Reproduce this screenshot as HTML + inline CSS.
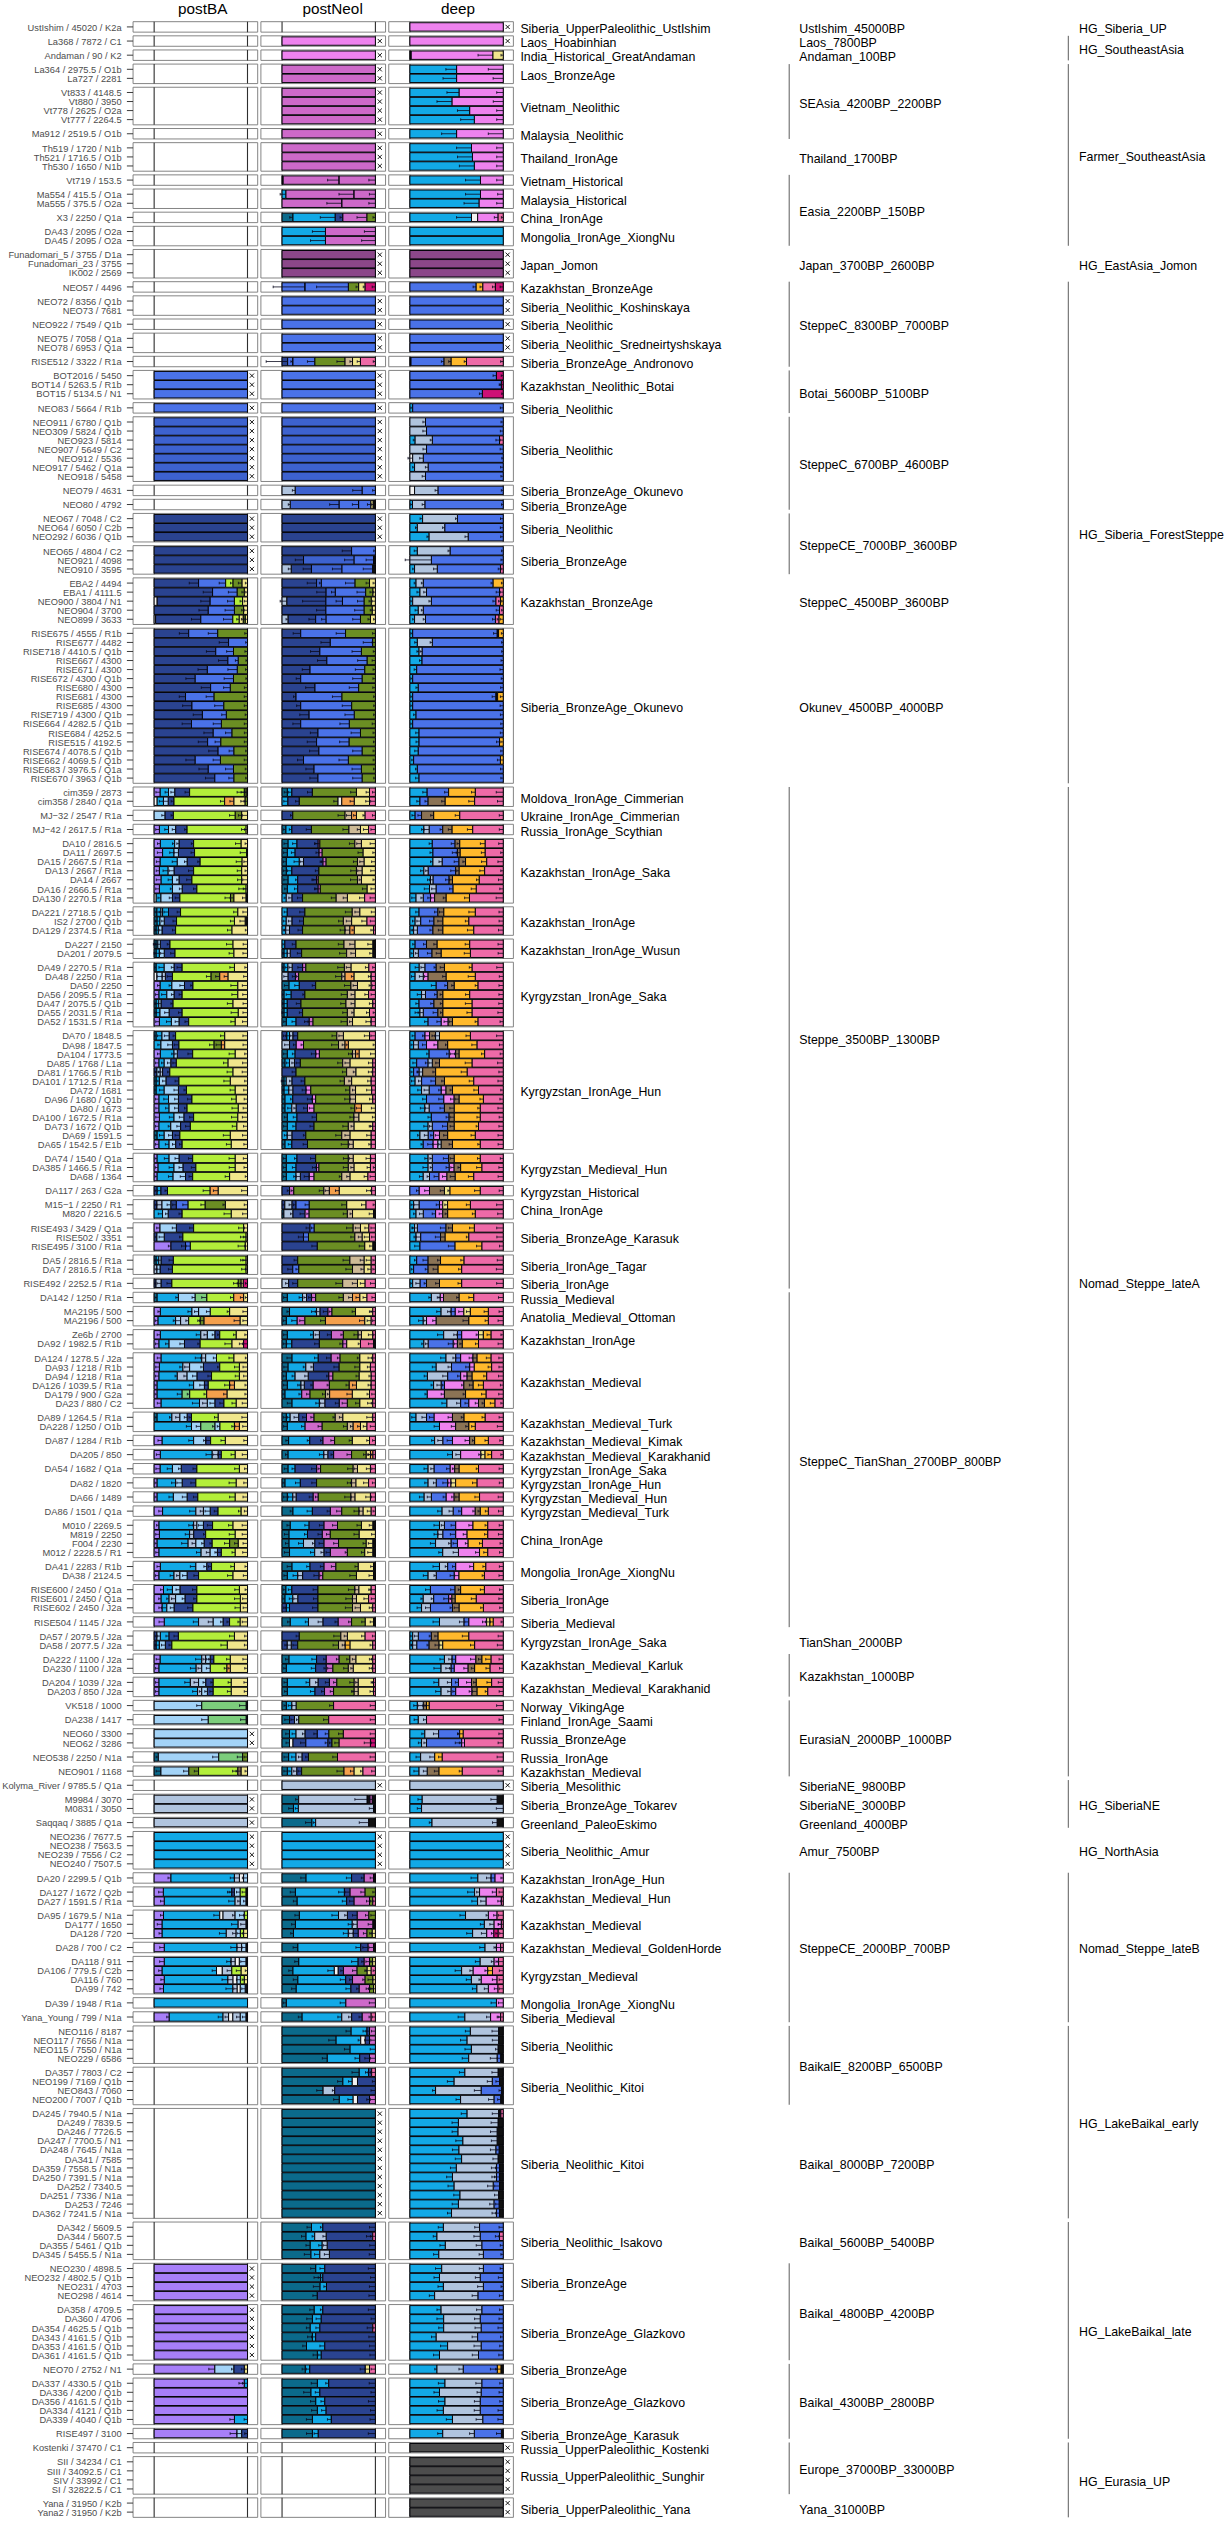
<!DOCTYPE html>
<html><head><meta charset="utf-8"><title>chart</title><style>html,body{margin:0;padding:0;background:#fff}svg{display:block}</style></head><body>
<svg width="1227" height="2521" viewBox="0 0 1227 2521" font-family="Liberation Sans, sans-serif">
<rect width="1227" height="2521" fill="#fff"/>
<path d="M133.05 21.7h124.65v10.44h-124.65zM260.9 21.7h124.65v10.44h-124.65zM388.75 21.7h124.65v10.44h-124.65zM133.05 35.83h124.65v10.44h-124.65zM260.9 35.83h124.65v10.44h-124.65zM388.75 35.83h124.65v10.44h-124.65zM133.05 49.96h124.65v10.44h-124.65zM260.9 49.96h124.65v10.44h-124.65zM388.75 49.96h124.65v10.44h-124.65zM133.05 64.09h124.65v19.49h-124.65zM260.9 64.09h124.65v19.49h-124.65zM388.75 64.09h124.65v19.49h-124.65zM133.05 87.26h124.65v37.57h-124.65zM260.9 87.26h124.65v37.57h-124.65zM388.75 87.26h124.65v37.57h-124.65zM133.05 128.52h124.65v10.44h-124.65zM260.9 128.52h124.65v10.44h-124.65zM388.75 128.52h124.65v10.44h-124.65zM133.05 142.66h124.65v28.53h-124.65zM260.9 142.66h124.65v28.53h-124.65zM388.75 142.66h124.65v28.53h-124.65zM133.05 174.87h124.65v10.44h-124.65zM260.9 174.87h124.65v10.44h-124.65zM388.75 174.87h124.65v10.44h-124.65zM133.05 189h124.65v19.49h-124.65zM260.9 189h124.65v19.49h-124.65zM388.75 189h124.65v19.49h-124.65zM133.05 212.18h124.65v10.44h-124.65zM260.9 212.18h124.65v10.44h-124.65zM388.75 212.18h124.65v10.44h-124.65zM133.05 226.31h124.65v19.49h-124.65zM260.9 226.31h124.65v19.49h-124.65zM388.75 226.31h124.65v19.49h-124.65zM133.05 249.48h124.65v28.53h-124.65zM260.9 249.48h124.65v28.53h-124.65zM388.75 249.48h124.65v28.53h-124.65zM133.05 281.7h124.65v10.44h-124.65zM260.9 281.7h124.65v10.44h-124.65zM388.75 281.7h124.65v10.44h-124.65zM133.05 295.83h124.65v19.49h-124.65zM260.9 295.83h124.65v19.49h-124.65zM388.75 295.83h124.65v19.49h-124.65zM133.05 319h124.65v10.44h-124.65zM260.9 319h124.65v10.44h-124.65zM388.75 319h124.65v10.44h-124.65zM133.05 333.13h124.65v19.49h-124.65zM260.9 333.13h124.65v19.49h-124.65zM388.75 333.13h124.65v19.49h-124.65zM133.05 356.3h124.65v10.44h-124.65zM260.9 356.3h124.65v10.44h-124.65zM388.75 356.3h124.65v10.44h-124.65zM133.05 370.43h124.65v28.53h-124.65zM260.9 370.43h124.65v28.53h-124.65zM388.75 370.43h124.65v28.53h-124.65zM133.05 402.65h124.65v10.44h-124.65zM260.9 402.65h124.65v10.44h-124.65zM388.75 402.65h124.65v10.44h-124.65zM133.05 416.78h124.65v64.7h-124.65zM260.9 416.78h124.65v64.7h-124.65zM388.75 416.78h124.65v64.7h-124.65zM133.05 485.17h124.65v10.44h-124.65zM260.9 485.17h124.65v10.44h-124.65zM388.75 485.17h124.65v10.44h-124.65zM133.05 499.3h124.65v10.44h-124.65zM260.9 499.3h124.65v10.44h-124.65zM388.75 499.3h124.65v10.44h-124.65zM133.05 513.43h124.65v28.53h-124.65zM260.9 513.43h124.65v28.53h-124.65zM388.75 513.43h124.65v28.53h-124.65zM133.05 545.65h124.65v28.53h-124.65zM260.9 545.65h124.65v28.53h-124.65zM388.75 545.65h124.65v28.53h-124.65zM133.05 577.86h124.65v46.61h-124.65zM260.9 577.86h124.65v46.61h-124.65zM388.75 577.86h124.65v46.61h-124.65zM133.05 628.17h124.65v155.13h-124.65zM260.9 628.17h124.65v155.13h-124.65zM388.75 628.17h124.65v155.13h-124.65zM133.05 786.99h124.65v19.49h-124.65zM260.9 786.99h124.65v19.49h-124.65zM388.75 786.99h124.65v19.49h-124.65zM133.05 810.16h124.65v10.44h-124.65zM260.9 810.16h124.65v10.44h-124.65zM388.75 810.16h124.65v10.44h-124.65zM133.05 824.29h124.65v10.44h-124.65zM260.9 824.29h124.65v10.44h-124.65zM388.75 824.29h124.65v10.44h-124.65zM133.05 838.42h124.65v64.7h-124.65zM260.9 838.42h124.65v64.7h-124.65zM388.75 838.42h124.65v64.7h-124.65zM133.05 906.81h124.65v28.53h-124.65zM260.9 906.81h124.65v28.53h-124.65zM388.75 906.81h124.65v28.53h-124.65zM133.05 939.02h124.65v19.49h-124.65zM260.9 939.02h124.65v19.49h-124.65zM388.75 939.02h124.65v19.49h-124.65zM133.05 962.2h124.65v64.7h-124.65zM260.9 962.2h124.65v64.7h-124.65zM388.75 962.2h124.65v64.7h-124.65zM133.05 1030.59h124.65v118.96h-124.65zM260.9 1030.59h124.65v118.96h-124.65zM388.75 1030.59h124.65v118.96h-124.65zM133.05 1153.23h124.65v28.53h-124.65zM260.9 1153.23h124.65v28.53h-124.65zM388.75 1153.23h124.65v28.53h-124.65zM133.05 1185.45h124.65v10.44h-124.65zM260.9 1185.45h124.65v10.44h-124.65zM388.75 1185.45h124.65v10.44h-124.65zM133.05 1199.58h124.65v19.49h-124.65zM260.9 1199.58h124.65v19.49h-124.65zM388.75 1199.58h124.65v19.49h-124.65zM133.05 1222.75h124.65v28.53h-124.65zM260.9 1222.75h124.65v28.53h-124.65zM388.75 1222.75h124.65v28.53h-124.65zM133.05 1254.97h124.65v19.49h-124.65zM260.9 1254.97h124.65v19.49h-124.65zM388.75 1254.97h124.65v19.49h-124.65zM133.05 1278.14h124.65v10.44h-124.65zM260.9 1278.14h124.65v10.44h-124.65zM388.75 1278.14h124.65v10.44h-124.65zM133.05 1292.27h124.65v10.44h-124.65zM260.9 1292.27h124.65v10.44h-124.65zM388.75 1292.27h124.65v10.44h-124.65zM133.05 1306.4h124.65v19.49h-124.65zM260.9 1306.4h124.65v19.49h-124.65zM388.75 1306.4h124.65v19.49h-124.65zM133.05 1329.58h124.65v19.49h-124.65zM260.9 1329.58h124.65v19.49h-124.65zM388.75 1329.58h124.65v19.49h-124.65zM133.05 1352.75h124.65v55.66h-124.65zM260.9 1352.75h124.65v55.66h-124.65zM388.75 1352.75h124.65v55.66h-124.65zM133.05 1412.1h124.65v19.49h-124.65zM260.9 1412.1h124.65v19.49h-124.65zM388.75 1412.1h124.65v19.49h-124.65zM133.05 1435.27h124.65v10.44h-124.65zM260.9 1435.27h124.65v10.44h-124.65zM388.75 1435.27h124.65v10.44h-124.65zM133.05 1449.4h124.65v10.44h-124.65zM260.9 1449.4h124.65v10.44h-124.65zM388.75 1449.4h124.65v10.44h-124.65zM133.05 1463.53h124.65v10.44h-124.65zM260.9 1463.53h124.65v10.44h-124.65zM388.75 1463.53h124.65v10.44h-124.65zM133.05 1477.66h124.65v10.44h-124.65zM260.9 1477.66h124.65v10.44h-124.65zM388.75 1477.66h124.65v10.44h-124.65zM133.05 1491.79h124.65v10.44h-124.65zM260.9 1491.79h124.65v10.44h-124.65zM388.75 1491.79h124.65v10.44h-124.65zM133.05 1505.92h124.65v10.44h-124.65zM260.9 1505.92h124.65v10.44h-124.65zM388.75 1505.92h124.65v10.44h-124.65zM133.05 1520.05h124.65v37.57h-124.65zM260.9 1520.05h124.65v37.57h-124.65zM388.75 1520.05h124.65v37.57h-124.65zM133.05 1561.31h124.65v19.49h-124.65zM260.9 1561.31h124.65v19.49h-124.65zM388.75 1561.31h124.65v19.49h-124.65zM133.05 1584.49h124.65v28.53h-124.65zM260.9 1584.49h124.65v28.53h-124.65zM388.75 1584.49h124.65v28.53h-124.65zM133.05 1616.7h124.65v10.44h-124.65zM260.9 1616.7h124.65v10.44h-124.65zM388.75 1616.7h124.65v10.44h-124.65zM133.05 1630.83h124.65v19.49h-124.65zM260.9 1630.83h124.65v19.49h-124.65zM388.75 1630.83h124.65v19.49h-124.65zM133.05 1654.01h124.65v19.49h-124.65zM260.9 1654.01h124.65v19.49h-124.65zM388.75 1654.01h124.65v19.49h-124.65zM133.05 1677.18h124.65v19.49h-124.65zM260.9 1677.18h124.65v19.49h-124.65zM388.75 1677.18h124.65v19.49h-124.65zM133.05 1700.35h124.65v10.44h-124.65zM260.9 1700.35h124.65v10.44h-124.65zM388.75 1700.35h124.65v10.44h-124.65zM133.05 1714.48h124.65v10.44h-124.65zM260.9 1714.48h124.65v10.44h-124.65zM388.75 1714.48h124.65v10.44h-124.65zM133.05 1728.62h124.65v19.49h-124.65zM260.9 1728.62h124.65v19.49h-124.65zM388.75 1728.62h124.65v19.49h-124.65zM133.05 1751.79h124.65v10.44h-124.65zM260.9 1751.79h124.65v10.44h-124.65zM388.75 1751.79h124.65v10.44h-124.65zM133.05 1765.92h124.65v10.44h-124.65zM260.9 1765.92h124.65v10.44h-124.65zM388.75 1765.92h124.65v10.44h-124.65zM133.05 1780.05h124.65v10.44h-124.65zM260.9 1780.05h124.65v10.44h-124.65zM388.75 1780.05h124.65v10.44h-124.65zM133.05 1794.18h124.65v19.49h-124.65zM260.9 1794.18h124.65v19.49h-124.65zM388.75 1794.18h124.65v19.49h-124.65zM133.05 1817.35h124.65v10.44h-124.65zM260.9 1817.35h124.65v10.44h-124.65zM388.75 1817.35h124.65v10.44h-124.65zM133.05 1831.48h124.65v37.57h-124.65zM260.9 1831.48h124.65v37.57h-124.65zM388.75 1831.48h124.65v37.57h-124.65zM133.05 1872.74h124.65v10.44h-124.65zM260.9 1872.74h124.65v10.44h-124.65zM388.75 1872.74h124.65v10.44h-124.65zM133.05 1886.87h124.65v19.49h-124.65zM260.9 1886.87h124.65v19.49h-124.65zM388.75 1886.87h124.65v19.49h-124.65zM133.05 1910.05h124.65v28.53h-124.65zM260.9 1910.05h124.65v28.53h-124.65zM388.75 1910.05h124.65v28.53h-124.65zM133.05 1942.26h124.65v10.44h-124.65zM260.9 1942.26h124.65v10.44h-124.65zM388.75 1942.26h124.65v10.44h-124.65zM133.05 1956.39h124.65v37.57h-124.65zM260.9 1956.39h124.65v37.57h-124.65zM388.75 1956.39h124.65v37.57h-124.65zM133.05 1997.65h124.65v10.44h-124.65zM260.9 1997.65h124.65v10.44h-124.65zM388.75 1997.65h124.65v10.44h-124.65zM133.05 2011.78h124.65v10.44h-124.65zM260.9 2011.78h124.65v10.44h-124.65zM388.75 2011.78h124.65v10.44h-124.65zM133.05 2025.91h124.65v37.57h-124.65zM260.9 2025.91h124.65v37.57h-124.65zM388.75 2025.91h124.65v37.57h-124.65zM133.05 2067.17h124.65v37.57h-124.65zM260.9 2067.17h124.65v37.57h-124.65zM388.75 2067.17h124.65v37.57h-124.65zM133.05 2108.43h124.65v109.92h-124.65zM260.9 2108.43h124.65v109.92h-124.65zM388.75 2108.43h124.65v109.92h-124.65zM133.05 2222.04h124.65v37.57h-124.65zM260.9 2222.04h124.65v37.57h-124.65zM388.75 2222.04h124.65v37.57h-124.65zM133.05 2263.3h124.65v37.57h-124.65zM260.9 2263.3h124.65v37.57h-124.65zM388.75 2263.3h124.65v37.57h-124.65zM133.05 2304.56h124.65v55.66h-124.65zM260.9 2304.56h124.65v55.66h-124.65zM388.75 2304.56h124.65v55.66h-124.65zM133.05 2363.9h124.65v10.44h-124.65zM260.9 2363.9h124.65v10.44h-124.65zM388.75 2363.9h124.65v10.44h-124.65zM133.05 2378.03h124.65v46.61h-124.65zM260.9 2378.03h124.65v46.61h-124.65zM388.75 2378.03h124.65v46.61h-124.65zM133.05 2428.34h124.65v10.44h-124.65zM260.9 2428.34h124.65v10.44h-124.65zM388.75 2428.34h124.65v10.44h-124.65zM133.05 2442.47h124.65v10.44h-124.65zM260.9 2442.47h124.65v10.44h-124.65zM388.75 2442.47h124.65v10.44h-124.65zM133.05 2456.6h124.65v37.57h-124.65zM260.9 2456.6h124.65v37.57h-124.65zM388.75 2456.6h124.65v37.57h-124.65zM133.05 2497.86h124.65v19.49h-124.65zM260.9 2497.86h124.65v19.49h-124.65zM388.75 2497.86h124.65v19.49h-124.65z" fill="#fff" stroke="#777" stroke-width="0.9"/>
<path d="M154.15 21.7v10.44M247.5 21.7v10.44M282.05 21.7v10.44M375.4 21.7v10.44M409.9 21.7v10.44M503.25 21.7v10.44M154.15 35.83v10.44M247.5 35.83v10.44M282.05 35.83v10.44M375.4 35.83v10.44M409.9 35.83v10.44M503.25 35.83v10.44M154.15 49.96v10.44M247.5 49.96v10.44M282.05 49.96v10.44M375.4 49.96v10.44M409.9 49.96v10.44M503.25 49.96v10.44M154.15 64.09v19.49M247.5 64.09v19.49M282.05 64.09v19.49M375.4 64.09v19.49M409.9 64.09v19.49M503.25 64.09v19.49M154.15 87.26v37.57M247.5 87.26v37.57M282.05 87.26v37.57M375.4 87.26v37.57M409.9 87.26v37.57M503.25 87.26v37.57M154.15 128.52v10.44M247.5 128.52v10.44M282.05 128.52v10.44M375.4 128.52v10.44M409.9 128.52v10.44M503.25 128.52v10.44M154.15 142.66v28.53M247.5 142.66v28.53M282.05 142.66v28.53M375.4 142.66v28.53M409.9 142.66v28.53M503.25 142.66v28.53M154.15 174.87v10.44M247.5 174.87v10.44M282.05 174.87v10.44M375.4 174.87v10.44M409.9 174.87v10.44M503.25 174.87v10.44M154.15 189v19.49M247.5 189v19.49M282.05 189v19.49M375.4 189v19.49M409.9 189v19.49M503.25 189v19.49M154.15 212.18v10.44M247.5 212.18v10.44M282.05 212.18v10.44M375.4 212.18v10.44M409.9 212.18v10.44M503.25 212.18v10.44M154.15 226.31v19.49M247.5 226.31v19.49M282.05 226.31v19.49M375.4 226.31v19.49M409.9 226.31v19.49M503.25 226.31v19.49M154.15 249.48v28.53M247.5 249.48v28.53M282.05 249.48v28.53M375.4 249.48v28.53M409.9 249.48v28.53M503.25 249.48v28.53M154.15 281.7v10.44M247.5 281.7v10.44M282.05 281.7v10.44M375.4 281.7v10.44M409.9 281.7v10.44M503.25 281.7v10.44M154.15 295.83v19.49M247.5 295.83v19.49M282.05 295.83v19.49M375.4 295.83v19.49M409.9 295.83v19.49M503.25 295.83v19.49M154.15 319v10.44M247.5 319v10.44M282.05 319v10.44M375.4 319v10.44M409.9 319v10.44M503.25 319v10.44M154.15 333.13v19.49M247.5 333.13v19.49M282.05 333.13v19.49M375.4 333.13v19.49M409.9 333.13v19.49M503.25 333.13v19.49M154.15 356.3v10.44M247.5 356.3v10.44M282.05 356.3v10.44M375.4 356.3v10.44M409.9 356.3v10.44M503.25 356.3v10.44M154.15 370.43v28.53M247.5 370.43v28.53M282.05 370.43v28.53M375.4 370.43v28.53M409.9 370.43v28.53M503.25 370.43v28.53M154.15 402.65v10.44M247.5 402.65v10.44M282.05 402.65v10.44M375.4 402.65v10.44M409.9 402.65v10.44M503.25 402.65v10.44M154.15 416.78v64.7M247.5 416.78v64.7M282.05 416.78v64.7M375.4 416.78v64.7M409.9 416.78v64.7M503.25 416.78v64.7M154.15 485.17v10.44M247.5 485.17v10.44M282.05 485.17v10.44M375.4 485.17v10.44M409.9 485.17v10.44M503.25 485.17v10.44M154.15 499.3v10.44M247.5 499.3v10.44M282.05 499.3v10.44M375.4 499.3v10.44M409.9 499.3v10.44M503.25 499.3v10.44M154.15 513.43v28.53M247.5 513.43v28.53M282.05 513.43v28.53M375.4 513.43v28.53M409.9 513.43v28.53M503.25 513.43v28.53M154.15 545.65v28.53M247.5 545.65v28.53M282.05 545.65v28.53M375.4 545.65v28.53M409.9 545.65v28.53M503.25 545.65v28.53M154.15 577.86v46.61M247.5 577.86v46.61M282.05 577.86v46.61M375.4 577.86v46.61M409.9 577.86v46.61M503.25 577.86v46.61M154.15 628.17v155.13M247.5 628.17v155.13M282.05 628.17v155.13M375.4 628.17v155.13M409.9 628.17v155.13M503.25 628.17v155.13M154.15 786.99v19.49M247.5 786.99v19.49M282.05 786.99v19.49M375.4 786.99v19.49M409.9 786.99v19.49M503.25 786.99v19.49M154.15 810.16v10.44M247.5 810.16v10.44M282.05 810.16v10.44M375.4 810.16v10.44M409.9 810.16v10.44M503.25 810.16v10.44M154.15 824.29v10.44M247.5 824.29v10.44M282.05 824.29v10.44M375.4 824.29v10.44M409.9 824.29v10.44M503.25 824.29v10.44M154.15 838.42v64.7M247.5 838.42v64.7M282.05 838.42v64.7M375.4 838.42v64.7M409.9 838.42v64.7M503.25 838.42v64.7M154.15 906.81v28.53M247.5 906.81v28.53M282.05 906.81v28.53M375.4 906.81v28.53M409.9 906.81v28.53M503.25 906.81v28.53M154.15 939.02v19.49M247.5 939.02v19.49M282.05 939.02v19.49M375.4 939.02v19.49M409.9 939.02v19.49M503.25 939.02v19.49M154.15 962.2v64.7M247.5 962.2v64.7M282.05 962.2v64.7M375.4 962.2v64.7M409.9 962.2v64.7M503.25 962.2v64.7M154.15 1030.59v118.96M247.5 1030.59v118.96M282.05 1030.59v118.96M375.4 1030.59v118.96M409.9 1030.59v118.96M503.25 1030.59v118.96M154.15 1153.23v28.53M247.5 1153.23v28.53M282.05 1153.23v28.53M375.4 1153.23v28.53M409.9 1153.23v28.53M503.25 1153.23v28.53M154.15 1185.45v10.44M247.5 1185.45v10.44M282.05 1185.45v10.44M375.4 1185.45v10.44M409.9 1185.45v10.44M503.25 1185.45v10.44M154.15 1199.58v19.49M247.5 1199.58v19.49M282.05 1199.58v19.49M375.4 1199.58v19.49M409.9 1199.58v19.49M503.25 1199.58v19.49M154.15 1222.75v28.53M247.5 1222.75v28.53M282.05 1222.75v28.53M375.4 1222.75v28.53M409.9 1222.75v28.53M503.25 1222.75v28.53M154.15 1254.97v19.49M247.5 1254.97v19.49M282.05 1254.97v19.49M375.4 1254.97v19.49M409.9 1254.97v19.49M503.25 1254.97v19.49M154.15 1278.14v10.44M247.5 1278.14v10.44M282.05 1278.14v10.44M375.4 1278.14v10.44M409.9 1278.14v10.44M503.25 1278.14v10.44M154.15 1292.27v10.44M247.5 1292.27v10.44M282.05 1292.27v10.44M375.4 1292.27v10.44M409.9 1292.27v10.44M503.25 1292.27v10.44M154.15 1306.4v19.49M247.5 1306.4v19.49M282.05 1306.4v19.49M375.4 1306.4v19.49M409.9 1306.4v19.49M503.25 1306.4v19.49M154.15 1329.58v19.49M247.5 1329.58v19.49M282.05 1329.58v19.49M375.4 1329.58v19.49M409.9 1329.58v19.49M503.25 1329.58v19.49M154.15 1352.75v55.66M247.5 1352.75v55.66M282.05 1352.75v55.66M375.4 1352.75v55.66M409.9 1352.75v55.66M503.25 1352.75v55.66M154.15 1412.1v19.49M247.5 1412.1v19.49M282.05 1412.1v19.49M375.4 1412.1v19.49M409.9 1412.1v19.49M503.25 1412.1v19.49M154.15 1435.27v10.44M247.5 1435.27v10.44M282.05 1435.27v10.44M375.4 1435.27v10.44M409.9 1435.27v10.44M503.25 1435.27v10.44M154.15 1449.4v10.44M247.5 1449.4v10.44M282.05 1449.4v10.44M375.4 1449.4v10.44M409.9 1449.4v10.44M503.25 1449.4v10.44M154.15 1463.53v10.44M247.5 1463.53v10.44M282.05 1463.53v10.44M375.4 1463.53v10.44M409.9 1463.53v10.44M503.25 1463.53v10.44M154.15 1477.66v10.44M247.5 1477.66v10.44M282.05 1477.66v10.44M375.4 1477.66v10.44M409.9 1477.66v10.44M503.25 1477.66v10.44M154.15 1491.79v10.44M247.5 1491.79v10.44M282.05 1491.79v10.44M375.4 1491.79v10.44M409.9 1491.79v10.44M503.25 1491.79v10.44M154.15 1505.92v10.44M247.5 1505.92v10.44M282.05 1505.92v10.44M375.4 1505.92v10.44M409.9 1505.92v10.44M503.25 1505.92v10.44M154.15 1520.05v37.57M247.5 1520.05v37.57M282.05 1520.05v37.57M375.4 1520.05v37.57M409.9 1520.05v37.57M503.25 1520.05v37.57M154.15 1561.31v19.49M247.5 1561.31v19.49M282.05 1561.31v19.49M375.4 1561.31v19.49M409.9 1561.31v19.49M503.25 1561.31v19.49M154.15 1584.49v28.53M247.5 1584.49v28.53M282.05 1584.49v28.53M375.4 1584.49v28.53M409.9 1584.49v28.53M503.25 1584.49v28.53M154.15 1616.7v10.44M247.5 1616.7v10.44M282.05 1616.7v10.44M375.4 1616.7v10.44M409.9 1616.7v10.44M503.25 1616.7v10.44M154.15 1630.83v19.49M247.5 1630.83v19.49M282.05 1630.83v19.49M375.4 1630.83v19.49M409.9 1630.83v19.49M503.25 1630.83v19.49M154.15 1654.01v19.49M247.5 1654.01v19.49M282.05 1654.01v19.49M375.4 1654.01v19.49M409.9 1654.01v19.49M503.25 1654.01v19.49M154.15 1677.18v19.49M247.5 1677.18v19.49M282.05 1677.18v19.49M375.4 1677.18v19.49M409.9 1677.18v19.49M503.25 1677.18v19.49M154.15 1700.35v10.44M247.5 1700.35v10.44M282.05 1700.35v10.44M375.4 1700.35v10.44M409.9 1700.35v10.44M503.25 1700.35v10.44M154.15 1714.48v10.44M247.5 1714.48v10.44M282.05 1714.48v10.44M375.4 1714.48v10.44M409.9 1714.48v10.44M503.25 1714.48v10.44M154.15 1728.62v19.49M247.5 1728.62v19.49M282.05 1728.62v19.49M375.4 1728.62v19.49M409.9 1728.62v19.49M503.25 1728.62v19.49M154.15 1751.79v10.44M247.5 1751.79v10.44M282.05 1751.79v10.44M375.4 1751.79v10.44M409.9 1751.79v10.44M503.25 1751.79v10.44M154.15 1765.92v10.44M247.5 1765.92v10.44M282.05 1765.92v10.44M375.4 1765.92v10.44M409.9 1765.92v10.44M503.25 1765.92v10.44M154.15 1780.05v10.44M247.5 1780.05v10.44M282.05 1780.05v10.44M375.4 1780.05v10.44M409.9 1780.05v10.44M503.25 1780.05v10.44M154.15 1794.18v19.49M247.5 1794.18v19.49M282.05 1794.18v19.49M375.4 1794.18v19.49M409.9 1794.18v19.49M503.25 1794.18v19.49M154.15 1817.35v10.44M247.5 1817.35v10.44M282.05 1817.35v10.44M375.4 1817.35v10.44M409.9 1817.35v10.44M503.25 1817.35v10.44M154.15 1831.48v37.57M247.5 1831.48v37.57M282.05 1831.48v37.57M375.4 1831.48v37.57M409.9 1831.48v37.57M503.25 1831.48v37.57M154.15 1872.74v10.44M247.5 1872.74v10.44M282.05 1872.74v10.44M375.4 1872.74v10.44M409.9 1872.74v10.44M503.25 1872.74v10.44M154.15 1886.87v19.49M247.5 1886.87v19.49M282.05 1886.87v19.49M375.4 1886.87v19.49M409.9 1886.87v19.49M503.25 1886.87v19.49M154.15 1910.05v28.53M247.5 1910.05v28.53M282.05 1910.05v28.53M375.4 1910.05v28.53M409.9 1910.05v28.53M503.25 1910.05v28.53M154.15 1942.26v10.44M247.5 1942.26v10.44M282.05 1942.26v10.44M375.4 1942.26v10.44M409.9 1942.26v10.44M503.25 1942.26v10.44M154.15 1956.39v37.57M247.5 1956.39v37.57M282.05 1956.39v37.57M375.4 1956.39v37.57M409.9 1956.39v37.57M503.25 1956.39v37.57M154.15 1997.65v10.44M247.5 1997.65v10.44M282.05 1997.65v10.44M375.4 1997.65v10.44M409.9 1997.65v10.44M503.25 1997.65v10.44M154.15 2011.78v10.44M247.5 2011.78v10.44M282.05 2011.78v10.44M375.4 2011.78v10.44M409.9 2011.78v10.44M503.25 2011.78v10.44M154.15 2025.91v37.57M247.5 2025.91v37.57M282.05 2025.91v37.57M375.4 2025.91v37.57M409.9 2025.91v37.57M503.25 2025.91v37.57M154.15 2067.17v37.57M247.5 2067.17v37.57M282.05 2067.17v37.57M375.4 2067.17v37.57M409.9 2067.17v37.57M503.25 2067.17v37.57M154.15 2108.43v109.92M247.5 2108.43v109.92M282.05 2108.43v109.92M375.4 2108.43v109.92M409.9 2108.43v109.92M503.25 2108.43v109.92M154.15 2222.04v37.57M247.5 2222.04v37.57M282.05 2222.04v37.57M375.4 2222.04v37.57M409.9 2222.04v37.57M503.25 2222.04v37.57M154.15 2263.3v37.57M247.5 2263.3v37.57M282.05 2263.3v37.57M375.4 2263.3v37.57M409.9 2263.3v37.57M503.25 2263.3v37.57M154.15 2304.56v55.66M247.5 2304.56v55.66M282.05 2304.56v55.66M375.4 2304.56v55.66M409.9 2304.56v55.66M503.25 2304.56v55.66M154.15 2363.9v10.44M247.5 2363.9v10.44M282.05 2363.9v10.44M375.4 2363.9v10.44M409.9 2363.9v10.44M503.25 2363.9v10.44M154.15 2378.03v46.61M247.5 2378.03v46.61M282.05 2378.03v46.61M375.4 2378.03v46.61M409.9 2378.03v46.61M503.25 2378.03v46.61M154.15 2428.34v10.44M247.5 2428.34v10.44M282.05 2428.34v10.44M375.4 2428.34v10.44M409.9 2428.34v10.44M503.25 2428.34v10.44M154.15 2442.47v10.44M247.5 2442.47v10.44M282.05 2442.47v10.44M375.4 2442.47v10.44M409.9 2442.47v10.44M503.25 2442.47v10.44M154.15 2456.6v37.57M247.5 2456.6v37.57M282.05 2456.6v37.57M375.4 2456.6v37.57M409.9 2456.6v37.57M503.25 2456.6v37.57M154.15 2497.86v19.49M247.5 2497.86v19.49M282.05 2497.86v19.49M375.4 2497.86v19.49M409.9 2497.86v19.49M503.25 2497.86v19.49" fill="none" stroke="#2e2e2e" stroke-width="1.1"/>
<path d="M409.9 22.72h93.35v8.39h-93.35zM282.05 36.86h93.35v8.39h-93.35zM409.9 36.86h93.35v8.39h-93.35zM282.05 50.99h93.35v8.39h-93.35zM411.02 50.99h81.96v8.39h-81.96zM456.57 65.12h46.68v8.39h-46.68zM456.57 74.16h46.68v8.39h-46.68zM459 88.29h44.25v8.39h-44.25zM451.91 97.33h51.34v8.39h-51.34zM469.64 106.38h33.61v8.39h-33.61zM474.31 115.42h28.94v8.39h-28.94zM456.57 129.55h46.68v8.39h-46.68zM471.51 143.68h31.74v8.39h-31.74zM472.44 152.72h30.81v8.39h-30.81zM474.31 161.77h28.94v8.39h-28.94zM480.47 175.9h22.78v8.39h-22.78zM480.47 190.03h22.78v8.39h-22.78zM478.98 199.07h24.27v8.39h-24.27zM477.58 213.2h20.54v8.39h-20.54zM430.44 893.7h4.2v8.39h-4.2zM423.25 972.27h4.85v8.39h-4.85zM441.08 1017.48h7.09v8.39h-7.09zM424.84 1031.61h4.67v8.39h-4.67zM296.05 1040.65h7.47v8.39h-7.47zM426.52 1040.65h11.39v8.39h-11.39zM315.66 1049.7h3.73v8.39h-3.73zM449.11 1049.7h6.53v8.39h-6.53zM305.85 1085.87h4.95v8.39h-4.95zM441.08 1085.87h4.95v8.39h-4.95zM312.39 1094.91h3.27v8.39h-3.27zM443.69 1094.91h10.46v8.39h-10.46zM307.53 1103.96h6.53v8.39h-6.53zM433.61 1131.08h5.88v8.39h-5.88zM432.96 1140.13h4.95v8.39h-4.95zM316.59 1163.3h2.33v8.39h-2.33zM449.11 1163.3h5.04v8.39h-5.04zM309.12 1172.34h4.95v8.39h-4.95zM438.84 1172.34h8.12v8.39h-8.12zM419.05 1186.47h10.46v8.39h-10.46zM439.49 1200.61h3.27v8.39h-3.27zM304.92 1209.65h4.2v8.39h-4.2zM435.57 1209.65h7.19v8.39h-7.19zM440.15 1293.3h3.36v8.39h-3.36zM455.08 1307.43h8.77v8.39h-8.77zM426.52 1316.47h9.71v8.39h-9.71zM461.62 1330.6h16.9v8.39h-16.9zM453.12 1339.65h4.29v8.39h-4.29zM460.59 1353.78h12.42v8.39h-12.42zM469.64 1362.82h4.67v8.39h-4.67zM460.59 1371.86h6.53v8.39h-6.53zM444.44 1380.91h19.42v8.39h-19.42zM427.17 1389.95h17.27v8.39h-17.27zM468.71 1398.99h9.8v8.39h-9.8zM433.98 1413.12h18.48v8.39h-18.48zM439.49 1422.16h16.15v8.39h-16.15zM452.47 1436.3h17.18v8.39h-17.18zM460.59 1450.43h20.26v8.39h-20.26zM450.04 1464.56h4.67v8.39h-4.67zM447.61 1478.69h3.36v8.39h-3.36zM446.03 1492.82h8.12v8.39h-8.12zM461.62 1506.95h13.63v8.39h-13.63zM455.64 1521.08h17.36v8.39h-17.36zM455.64 1530.12h11.48v8.39h-11.48zM457.42 1539.16h10.74v8.39h-10.74zM458.44 1548.21h21.1v8.39h-21.1zM455.64 1562.34h18.02v8.39h-18.02zM454.15 1571.38h4.85v8.39h-4.85zM448.64 1594.55h3.27v8.39h-3.27zM468.71 1617.73h17.92v8.39h-17.92zM455.64 1655.03h20.26v8.39h-20.26zM454.15 1664.08h14v8.39h-14zM458.44 1678.21h13.07v8.39h-13.07zM455.64 1687.25h16.34v8.39h-16.34zM461.62 1738.68h2.89v8.39h-2.89zM494.85 1873.77h8.4v8.39h-8.4zM479.54 1887.9h16.9v8.39h-16.9zM485.98 1896.94h15.4v8.39h-15.4zM488.31 1911.07h8.77v8.39h-8.77zM493.92 1920.12h7.47v8.39h-7.47zM486.63 1929.16h7.28v8.39h-7.28zM496.44 1943.29h4.2v8.39h-4.2zM493.92 1957.42h4.67v8.39h-4.67zM473 1966.46h14.66v8.39h-14.66zM481.13 1975.51h15.96v8.39h-15.96zM488.31 1984.55h9.71v8.39h-9.71zM496.44 1998.68h6.81v8.39h-6.81zM490.55 2012.81h10.08v8.39h-10.08z" fill="#ee82ee" stroke="#05050a" stroke-width="1"/>
<path d="M409.9 50.99h1.12v8.39h-1.12zM282.05 175.9h1.12v8.39h-1.12zM409.9 357.33h1.12v8.39h-1.12zM373.07 500.33h2.33v8.39h-2.33zM373.53 555.72h1.87v8.39h-1.87zM372.6 564.76h2.8v8.39h-2.8zM497.09 629.19h1.49v8.39h-1.49zM495.78 692.49h1.87v8.39h-1.87zM245.91 893.7h1.59v8.39h-1.59zM245.17 916.88h2.33v8.39h-2.33zM372.79 940.05h2.61v8.39h-2.61zM372.79 949.09h2.61v8.39h-2.61zM373.53 1209.65h1.87v8.39h-1.87zM372.79 1241.86h2.61v8.39h-2.61zM373.53 1339.65h1.87v8.39h-1.87zM372.79 1521.08h2.61v8.39h-2.61zM372.79 1539.16h2.61v8.39h-2.61zM372.79 1548.21h2.61v8.39h-2.61zM373.53 1562.34h1.87v8.39h-1.87zM373.53 1571.38h1.87v8.39h-1.87zM373.53 1617.73h1.87v8.39h-1.87zM246.1 1701.38h1.4v8.39h-1.4zM246.1 1715.51h1.4v8.39h-1.4zM367 1795.2h2.8v8.39h-2.8zM372.6 1795.2h2.8v8.39h-2.8zM497.09 1795.2h6.16v8.39h-6.16zM373.53 1804.25h1.87v8.39h-1.87zM368.59 1818.38h6.81v8.39h-6.81zM497.09 1818.38h6.16v8.39h-6.16zM373.53 1873.77h1.87v8.39h-1.87zM245.91 1887.9h1.59v8.39h-1.59zM245.91 1896.94h1.59v8.39h-1.59zM245.91 1920.12h1.59v8.39h-1.59zM372.79 1920.12h2.61v8.39h-2.61zM245.91 1943.29h1.59v8.39h-1.59zM373.53 1943.29h1.87v8.39h-1.87zM245.91 1957.42h1.59v8.39h-1.59zM245.17 1984.55h2.33v8.39h-2.33zM245.91 2012.81h1.59v8.39h-1.59zM498.58 2026.94h4.67v8.39h-4.67zM498.58 2035.98h4.67v8.39h-4.67zM498.02 2045.03h5.23v8.39h-5.23zM500.64 2054.07h2.61v8.39h-2.61zM498.02 2068.2h5.23v8.39h-5.23zM499.52 2077.24h3.73v8.39h-3.73zM501.38 2086.29h1.87v8.39h-1.87zM500.64 2095.33h2.61v8.39h-2.61zM498.58 2109.46h2.33v8.39h-2.33zM498.02 2118.5h5.23v8.39h-5.23zM497.09 2127.54h6.16v8.39h-6.16zM497.09 2136.59h6.16v8.39h-6.16zM499.05 2145.63h4.2v8.39h-4.2zM498.02 2154.67h5.23v8.39h-5.23zM499.52 2163.72h3.73v8.39h-3.73zM499.52 2172.76h3.73v8.39h-3.73zM499.52 2181.8h3.73v8.39h-3.73zM498.58 2190.85h4.67v8.39h-4.67zM499.05 2199.89h4.2v8.39h-4.2zM499.52 2208.93h3.73v8.39h-3.73zM500.92 2364.93h2.33v8.39h-2.33zM501.38 2429.36h1.87v8.39h-1.87z" fill="#111111" stroke="#05050a" stroke-width="1"/>
<path d="M492.98 50.99h10.27v8.39h-10.27zM358.6 282.72h6.53v8.39h-6.53zM352.53 357.33h7.93v8.39h-7.93zM370.73 500.33h2.33v8.39h-2.33zM241.9 578.89h5.6v8.39h-5.6zM369.52 578.89h5.88v8.39h-5.88zM244.23 587.93h3.27v8.39h-3.27zM372.79 587.93h2.61v8.39h-2.61zM242.55 596.97h4.95v8.39h-4.95zM371.2 596.97h4.2v8.39h-4.2zM243.58 606.02h3.92v8.39h-3.92zM372.13 606.02h3.27v8.39h-3.27zM239.1 615.06h4.2v8.39h-4.2zM245.17 615.06h2.33v8.39h-2.33zM370.45 615.06h4.95v8.39h-4.95zM246.1 788.01h1.4v8.39h-1.4zM356.45 788.01h13.07v8.39h-13.07zM233.78 797.05h11.39v8.39h-11.39zM354.21 797.05h15.31v8.39h-15.31zM241.62 811.18h5.88v8.39h-5.88zM356.45 811.18h8.68v8.39h-8.68zM245.91 825.31h1.59v8.39h-1.59zM360.46 825.31h8.12v8.39h-8.12zM240.97 839.44h6.53v8.39h-6.53zM361.4 839.44h14v8.39h-14zM246.57 848.49h0.93v8.39h-0.93zM362.98 848.49h12.42v8.39h-12.42zM241.9 857.53h5.6v8.39h-5.6zM364.01 857.53h11.39v8.39h-11.39zM241.62 866.57h5.88v8.39h-5.88zM362.05 866.57h13.35v8.39h-13.35zM241.62 875.62h5.88v8.39h-5.88zM361.4 875.62h14v8.39h-14zM245.91 884.66h1.59v8.39h-1.59zM367 884.66h8.4v8.39h-8.4zM233.78 893.7h12.14v8.39h-12.14zM347.39 893.7h17.27v8.39h-17.27zM237.7 907.83h9.8v8.39h-9.8zM359.72 907.83h15.68v8.39h-15.68zM234.43 916.88h10.74v8.39h-10.74zM351.6 916.88h15.4v8.39h-15.4zM231.82 925.92h15.68v8.39h-15.68zM354.21 925.92h19.32v8.39h-19.32zM232.84 940.05h14.66v8.39h-14.66zM354.86 940.05h17.92v8.39h-17.92zM233.78 949.09h13.72v8.39h-13.72zM355.52 949.09h17.27v8.39h-17.27zM234.43 963.22h13.07v8.39h-13.07zM350.94 963.22h17.92v8.39h-17.92zM227.9 972.27h19.6v8.39h-19.6zM353.93 972.27h17.27v8.39h-17.27zM237.7 981.31h9.8v8.39h-9.8zM357.48 981.31h13.72v8.39h-13.72zM237.7 990.35h9.8v8.39h-9.8zM354.86 990.35h13.72v8.39h-13.72zM232.84 999.4h14.66v8.39h-14.66zM354.86 999.4h17.92v8.39h-17.92zM238.17 1008.44h9.33v8.39h-9.33zM353.93 1008.44h15.59v8.39h-15.59zM235.08 1017.48h12.42v8.39h-12.42zM352.53 1017.48h18.67v8.39h-18.67zM224.63 1031.61h22.87v8.39h-22.87zM343.38 1031.61h26.14v8.39h-26.14zM224.63 1040.65h22.87v8.39h-22.87zM348.33 1040.65h27.07v8.39h-27.07zM235.08 1049.7h12.42v8.39h-12.42zM359.06 1049.7h16.34v8.39h-16.34zM227.9 1058.74h19.6v8.39h-19.6zM349.92 1058.74h22.87v8.39h-22.87zM232.84 1067.78h14.66v8.39h-14.66zM355.8 1067.78h16.99v8.39h-16.99zM230.23 1076.83h17.27v8.39h-17.27zM351.6 1076.83h19.6v8.39h-19.6zM235.08 1085.87h12.42v8.39h-12.42zM355.52 1085.87h16.15v8.39h-16.15zM236.11 1094.91h11.39v8.39h-11.39zM355.52 1094.91h17.27v8.39h-17.27zM238.17 1103.96h9.33v8.39h-9.33zM361.4 1103.96h14v8.39h-14zM237.7 1113h9.8v8.39h-9.8zM358.78 1113h16.62v8.39h-16.62zM236.76 1122.04h10.74v8.39h-10.74zM353.93 1122.04h18.86v8.39h-18.86zM230.23 1131.08h17.27v8.39h-17.27zM349.92 1131.08h21.28v8.39h-21.28zM231.16 1140.13h16.34v8.39h-16.34zM353.18 1140.13h18.02v8.39h-18.02zM235.08 1154.26h12.42v8.39h-12.42zM353.18 1154.26h17.27v8.39h-17.27zM235.08 1163.3h12.42v8.39h-12.42zM353.93 1163.3h16.52v8.39h-16.52zM229.58 1172.34h17.92v8.39h-17.92zM349.92 1172.34h18.02v8.39h-18.02zM218.09 1186.47h29.41v8.39h-29.41zM339.18 1186.47h32.49v8.39h-32.49zM444.44 1186.47h5.6v8.39h-5.6zM225.28 1200.61h22.22v8.39h-22.22zM346.65 1200.61h19.42v8.39h-19.42zM442.76 1200.61h4.85v8.39h-4.85zM231.16 1209.65h16.34v8.39h-16.34zM352.53 1209.65h21v8.39h-21zM243.58 1223.78h3.92v8.39h-3.92zM360.46 1223.78h8.4v8.39h-8.4zM245.91 1232.82h1.59v8.39h-1.59zM362.05 1232.82h7.47v8.39h-7.47zM245.17 1241.86h2.33v8.39h-2.33zM364.66 1241.86h8.12v8.39h-8.12zM245.91 1256h1.59v8.39h-1.59zM364.01 1256h7.19v8.39h-7.19zM245.91 1265.04h1.59v8.39h-1.59zM364.01 1265.04h7.19v8.39h-7.19zM240.97 1279.17h2.33v8.39h-2.33zM357.48 1279.17h7.65v8.39h-7.65zM243.58 1293.3h3.92v8.39h-3.92zM359.72 1293.3h7.28v8.39h-7.28zM229.58 1307.43h17.92v8.39h-17.92zM355.52 1307.43h17.27v8.39h-17.27zM463.86 1307.43h6.53v8.39h-6.53zM240.03 1316.47h7.47v8.39h-7.47zM364.66 1316.47h6.53v8.39h-6.53zM236.11 1330.6h11.39v8.39h-11.39zM361.4 1330.6h11.39v8.39h-11.39zM478.51 1330.6h4.85v8.39h-4.85zM231.82 1339.65h11.76v8.39h-11.76zM346.65 1339.65h13.82v8.39h-13.82zM233.78 1353.78h13.72v8.39h-13.72zM359.72 1353.78h13.07v8.39h-13.07zM239.38 1362.82h8.12v8.39h-8.12zM359.72 1362.82h10.74v8.39h-10.74zM239.38 1371.86h8.12v8.39h-8.12zM359.06 1371.86h12.14v8.39h-12.14zM234.43 1380.91h13.07v8.39h-13.07zM356.45 1380.91h14.75v8.39h-14.75zM226.96 1389.95h20.54v8.39h-20.54zM352.25 1389.95h17.27v8.39h-17.27zM236.11 1398.99h11.39v8.39h-11.39zM359.72 1398.99h13.07v8.39h-13.07zM218.09 1413.12h29.41v8.39h-29.41zM342.73 1413.12h30.06v8.39h-30.06zM239.38 1422.16h8.12v8.39h-8.12zM360.46 1422.16h6.53v8.39h-6.53zM225.28 1436.3h22.22v8.39h-22.22zM352.25 1436.3h17.27v8.39h-17.27zM235.08 1450.43h12.42v8.39h-12.42zM366.06 1450.43h4.39v8.39h-4.39zM480.85 1450.43h4.2v8.39h-4.2zM239.38 1464.56h8.12v8.39h-8.12zM357.48 1464.56h12.98v8.39h-12.98zM236.11 1478.69h11.39v8.39h-11.39zM355.8 1478.69h12.79v8.39h-12.79zM450.97 1478.69h4.67v8.39h-4.67zM235.08 1492.82h12.42v8.39h-12.42zM354.86 1492.82h15.59v8.39h-15.59zM240.97 1506.95h6.53v8.39h-6.53zM362.98 1506.95h8.21v8.39h-8.21zM232.84 1521.08h14.66v8.39h-14.66zM361.4 1521.08h11.39v8.39h-11.39zM235.08 1530.12h12.42v8.39h-12.42zM359.06 1530.12h16.34v8.39h-16.34zM238.17 1539.16h9.33v8.39h-9.33zM366.06 1539.16h6.72v8.39h-6.72zM235.08 1548.21h12.42v8.39h-12.42zM364.66 1548.21h8.12v8.39h-8.12zM234.43 1562.34h13.07v8.39h-13.07zM358.13 1562.34h15.4v8.39h-15.4zM232.84 1571.38h14.66v8.39h-14.66zM356.45 1571.38h17.08v8.39h-17.08zM239.38 1585.51h8.12v8.39h-8.12zM358.78 1585.51h12.42v8.39h-12.42zM240.31 1594.55h7.19v8.39h-7.19zM356.45 1594.55h12.14v8.39h-12.14zM240.31 1603.6h7.19v8.39h-7.19zM360.46 1603.6h12.32v8.39h-12.32zM240.03 1617.73h7.47v8.39h-7.47zM365.13 1617.73h8.4v8.39h-8.4zM486.63 1617.73h3.27v8.39h-3.27zM234.43 1631.86h13.07v8.39h-13.07zM347.39 1631.86h17.74v8.39h-17.74zM227.24 1640.9h20.26v8.39h-20.26zM349.92 1640.9h22.87v8.39h-22.87zM438.84 1640.9h3.92v8.39h-3.92zM230.23 1655.03h17.27v8.39h-17.27zM355.8 1655.03h16.99v8.39h-16.99zM230.23 1664.08h17.27v8.39h-17.27zM353.18 1664.08h19.6v8.39h-19.6zM231.16 1678.21h16.34v8.39h-16.34zM358.13 1678.21h15.4v8.39h-15.4zM231.16 1687.25h16.34v8.39h-16.34zM358.13 1687.25h15.4v8.39h-15.4zM240.97 1766.94h6.53v8.39h-6.53zM353.93 1766.94h9.05v8.39h-9.05zM243.58 1929.16h3.92v8.39h-3.92zM372.13 1929.16h3.27v8.39h-3.27zM372.6 1957.42h2.8v8.39h-2.8zM240.97 1966.46h6.53v8.39h-6.53zM367 1966.46h4.2v8.39h-4.2zM244.23 1975.51h3.27v8.39h-3.27zM372.79 1975.51h2.61v8.39h-2.61zM373.53 1984.55h1.87v8.39h-1.87zM244.23 2364.93h3.27v8.39h-3.27zM365.13 2364.93h4.39v8.39h-4.39z" fill="#f0e68c" stroke="#05050a" stroke-width="1"/>
<path d="M282.05 65.12h93.35v8.39h-93.35zM282.05 74.16h93.35v8.39h-93.35zM282.05 88.29h93.35v8.39h-93.35zM282.05 97.33h93.35v8.39h-93.35zM282.05 106.38h93.35v8.39h-93.35zM282.05 115.42h93.35v8.39h-93.35zM282.05 129.55h93.35v8.39h-93.35zM282.05 143.68h93.35v8.39h-93.35zM282.05 152.72h93.35v8.39h-93.35zM282.05 161.77h93.35v8.39h-93.35zM283.17 175.9h55.82v8.39h-55.82zM338.99 175.9h36.41v8.39h-36.41zM285.78 190.03h68.15v8.39h-68.15zM353.93 190.03h21.47v8.39h-21.47zM282.05 199.07h59.74v8.39h-59.74zM341.79 199.07h33.61v8.39h-33.61zM342.73 213.2h24.27v8.39h-24.27zM325.46 227.33h49.94v8.39h-49.94zM325.46 236.37h49.94v8.39h-49.94zM317.99 839.44h1.87v8.39h-1.87zM318.92 848.49h3.27v8.39h-3.27zM322.84 857.53h3.27v8.39h-3.27zM316.59 875.62h1.68v8.39h-1.68zM317.99 884.66h2.33v8.39h-2.33zM302.59 963.22h3.27v8.39h-3.27zM295.4 972.27h3.27v8.39h-3.27zM309.12 1017.48h3.92v8.39h-3.92zM289.52 1186.47h4.29v8.39h-4.29zM311.46 1293.3h4.2v8.39h-4.2zM327.79 1307.43h4.2v8.39h-4.2zM296.99 1316.47h7.93v8.39h-7.93zM331.34 1330.6h12.04v8.39h-12.04zM342.73 1339.65h3.92v8.39h-3.92zM330.97 1353.78h9.15v8.39h-9.15zM328.73 1371.86h4.2v8.39h-4.2zM313.04 1380.91h16.34v8.39h-16.34zM301.65 1389.95h8.4v8.39h-8.4zM339.18 1398.99h8.21v8.39h-8.21zM306.51 1413.12h7.56v8.39h-7.56zM304.92 1422.16h17.27v8.39h-17.27zM322.84 1436.3h11.76v8.39h-11.76zM333.58 1450.43h18.02v8.39h-18.02zM316.59 1464.56h4.01v8.39h-4.01zM313.04 1492.82h5.23v8.39h-5.23zM330.31 1506.95h11.48v8.39h-11.48zM323.87 1521.08h13.63v8.39h-13.63zM322.19 1530.12h8.12v8.39h-8.12zM323.87 1539.16h14.66v8.39h-14.66zM330.31 1548.21h17.08v8.39h-17.08zM323.87 1562.34h12.04v8.39h-12.04zM318.92 1571.38h3.92v8.39h-3.92zM338.06 1617.73h13.54v8.39h-13.54zM326.11 1655.03h13.07v8.39h-13.07zM326.11 1664.08h6.81v8.39h-6.81zM329.38 1678.21h7.47v8.39h-7.47zM324.52 1687.25h9.05v8.39h-9.05zM364.01 1873.77h9.52v8.39h-9.52zM349.92 1887.9h15.22v8.39h-15.22zM353.93 1896.94h15.59v8.39h-15.59zM357.1 1911.07h11.76v8.39h-11.76zM357.1 1920.12h15.68v8.39h-15.68zM358.13 1929.16h8.87v8.39h-8.87zM367.93 1943.29h5.6v8.39h-5.6zM364.01 1957.42h5.51v8.39h-5.51zM343.38 1966.46h13.72v8.39h-13.72zM352.53 1975.51h12.6v8.39h-12.6zM359.06 1984.55h10.46v8.39h-10.46zM345.71 1998.68h29.69v8.39h-29.69zM362.05 2012.81h9.15v8.39h-9.15zM369.52 2026.94h5.88v8.39h-5.88zM369.52 2035.98h5.88v8.39h-5.88zM369.52 2054.07h5.88v8.39h-5.88zM369.52 2095.33h5.88v8.39h-5.88z" fill="#cd69c9" stroke="#05050a" stroke-width="1"/>
<path d="M409.9 65.12h46.68v8.39h-46.68zM409.9 74.16h46.68v8.39h-46.68zM409.9 88.29h49.1v8.39h-49.1zM409.9 97.33h42.01v8.39h-42.01zM409.9 106.38h59.74v8.39h-59.74zM409.9 115.42h64.41v8.39h-64.41zM409.9 129.55h46.68v8.39h-46.68zM409.9 143.68h61.61v8.39h-61.61zM409.9 152.72h62.54v8.39h-62.54zM409.9 161.77h64.41v8.39h-64.41zM409.9 175.9h70.57v8.39h-70.57zM282.05 190.03h3.73v8.39h-3.73zM409.9 190.03h70.57v8.39h-70.57zM409.9 199.07h69.08v8.39h-69.08zM292.79 213.2h42.47v8.39h-42.47zM409.9 213.2h61.61v8.39h-61.61zM282.05 227.33h43.41v8.39h-43.41zM409.9 227.33h93.35v8.39h-93.35zM282.05 236.37h43.41v8.39h-43.41zM409.9 236.37h93.35v8.39h-93.35zM409.9 403.68h2.8v8.39h-2.8zM409.9 435.89h5.23v8.39h-5.23zM409.9 463.02h4.67v8.39h-4.67zM409.9 500.33h2.61v8.39h-2.61zM409.9 514.46h12.7v8.39h-12.7zM409.9 523.5h7.47v8.39h-7.47zM409.9 532.54h19.23v8.39h-19.23zM409.9 546.67h7.47v8.39h-7.47zM409.9 564.76h4.67v8.39h-4.67zM409.9 578.89h6.16v8.39h-6.16zM409.9 587.93h10.08v8.39h-10.08zM409.9 596.97h2.8v8.39h-2.8zM409.9 606.02h8.4v8.39h-8.4zM409.9 615.06h4.67v8.39h-4.67zM409.9 629.19h2.8v8.39h-2.8zM409.9 638.23h7.47v8.39h-7.47zM409.9 647.28h9.15v8.39h-9.15zM409.9 656.32h12.14v8.39h-12.14zM409.9 665.36h6.81v8.39h-6.81zM409.9 674.41h2.8v8.39h-2.8zM409.9 683.45h8.4v8.39h-8.4zM409.9 692.49h2.8v8.39h-2.8zM409.9 701.54h2.8v8.39h-2.8zM409.9 710.58h6.16v8.39h-6.16zM409.9 719.62h2.8v8.39h-2.8zM409.9 728.66h9.15v8.39h-9.15zM409.9 737.71h9.15v8.39h-9.15zM409.9 746.75h8.4v8.39h-8.4zM409.9 755.79h3.73v8.39h-3.73zM409.9 764.84h7.47v8.39h-7.47zM409.9 773.88h9.15v8.39h-9.15zM160.03 788.01h8.49v8.39h-8.49zM287.28 788.01h4.57v8.39h-4.57zM409.9 788.01h17.27v8.39h-17.27zM156.95 797.05h6.53v8.39h-6.53zM282.05 797.05h5.88v8.39h-5.88zM409.9 797.05h10.08v8.39h-10.08zM409.9 811.18h5.23v8.39h-5.23zM159.38 825.31h9.15v8.39h-9.15zM285.78 825.31h6.07v8.39h-6.07zM409.9 825.31h14v8.39h-14zM160.31 839.44h14.38v8.39h-14.38zM287.93 839.44h9.05v8.39h-9.05zM409.9 839.44h22.4v8.39h-22.4zM162.55 848.49h11.48v8.39h-11.48zM287.28 848.49h7.84v8.39h-7.84zM409.9 848.49h23.06v8.39h-23.06zM160.03 857.53h17.27v8.39h-17.27zM286.25 857.53h13.07v8.39h-13.07zM409.9 857.53h23.06v8.39h-23.06zM159.38 866.57h8.77v8.39h-8.77zM286.25 866.57h5.6v8.39h-5.6zM409.9 866.57h14v8.39h-14zM160.96 875.62h11.48v8.39h-11.48zM287.93 875.62h9.8v8.39h-9.8zM409.9 875.62h20.54v8.39h-20.54zM159.38 884.66h13.07v8.39h-13.07zM287.28 884.66h10.46v8.39h-10.46zM409.9 884.66h19.6v8.39h-19.6zM156.02 893.7h4.95v8.39h-4.95zM282.05 893.7h4.2v8.39h-4.2zM409.9 893.7h6.16v8.39h-6.16zM156.76 907.83h4.2v8.39h-4.2zM162.55 907.83h5.97v8.39h-5.97zM282.05 907.83h5.23v8.39h-5.23zM409.9 907.83h9.15v8.39h-9.15zM156.95 916.88h3.08v8.39h-3.08zM282.05 916.88h4.2v8.39h-4.2zM409.9 916.88h5.23v8.39h-5.23zM156.02 925.92h2.33v8.39h-2.33zM282.05 925.92h3.73v8.39h-3.73zM409.9 925.92h3.73v8.39h-3.73zM156.02 940.05h1.87v8.39h-1.87zM282.05 940.05h2.8v8.39h-2.8zM409.9 940.05h5.23v8.39h-5.23zM156.02 949.09h3.36v8.39h-3.36zM283.92 949.09h3.36v8.39h-3.36zM409.9 949.09h3.73v8.39h-3.73zM156.02 963.22h8.21v8.39h-8.21zM283.92 963.22h4.01v8.39h-4.01zM409.9 963.22h9.33v8.39h-9.33zM409.9 972.27h5.23v8.39h-5.23zM160.03 981.31h11.86v8.39h-11.86zM288.86 981.31h10.46v8.39h-10.46zM409.9 981.31h26.32v8.39h-26.32zM158.82 990.35h8.03v8.39h-8.03zM283.92 990.35h7.28v8.39h-7.28zM409.9 990.35h11.67v8.39h-11.67zM156.02 999.4h2.8v8.39h-2.8zM283.92 999.4h3.36v8.39h-3.36zM409.9 999.4h9.15v8.39h-9.15zM156.02 1008.44h4.01v8.39h-4.01zM283.92 1008.44h3.36v8.39h-3.36zM409.9 1008.44h10.08v8.39h-10.08zM159.38 1017.48h12.04v8.39h-12.04zM286.25 1017.48h9.8v8.39h-9.8zM409.9 1017.48h18.2v8.39h-18.2zM156.02 1031.61h5.97v8.39h-5.97zM286.72 1031.61h2.8v8.39h-2.8zM409.9 1031.61h5.23v8.39h-5.23zM154.15 1040.65h6.81v8.39h-6.81zM409.9 1040.65h3.73v8.39h-3.73zM160.31 1049.7h13.72v8.39h-13.72zM287.28 1049.7h7.84v8.39h-7.84zM409.9 1049.7h19.23v8.39h-19.23zM158.82 1058.74h5.41v8.39h-5.41zM284.85 1058.74h4.67v8.39h-4.67zM409.9 1058.74h6.81v8.39h-6.81zM409.9 1067.78h3.73v8.39h-3.73zM156.02 1076.83h3.36v8.39h-3.36zM283.92 1076.83h2.33v8.39h-2.33zM409.9 1076.83h5.23v8.39h-5.23zM156.02 1085.87h8.21v8.39h-8.21zM283.92 1085.87h4.95v8.39h-4.95zM409.9 1085.87h11.67v8.39h-11.67zM158.82 1094.91h9.71v8.39h-9.71zM284.85 1094.91h7.93v8.39h-7.93zM409.9 1094.91h16.62v8.39h-16.62zM158.82 1103.96h10.27v8.39h-10.27zM284.85 1103.96h7v8.39h-7zM409.9 1103.96h14.94v8.39h-14.94zM159.38 1113h14.66v8.39h-14.66zM287.28 1113h9.71v8.39h-9.71zM409.9 1113h21.47v8.39h-21.47zM158.82 1122.04h11.95v8.39h-11.95zM287.28 1122.04h8.77v8.39h-8.77zM409.9 1122.04h18.2v8.39h-18.2zM156.95 1131.08h7.28v8.39h-7.28zM282.05 1131.08h5.23v8.39h-5.23zM409.9 1131.08h10.08v8.39h-10.08zM158.82 1140.13h10.27v8.39h-10.27zM284.85 1140.13h7v8.39h-7zM409.9 1140.13h13.35v8.39h-13.35zM156.95 1154.26h12.14v8.39h-12.14zM286.25 1154.26h10.74v8.39h-10.74zM409.9 1154.26h18.2v8.39h-18.2zM157.88 1163.3h16.15v8.39h-16.15zM286.25 1163.3h9.8v8.39h-9.8zM409.9 1163.3h18.2v8.39h-18.2zM156.95 1172.34h16.15v8.39h-16.15zM286.25 1172.34h9.8v8.39h-9.8zM409.9 1172.34h13.35v8.39h-13.35zM156.95 1186.47h4.01v8.39h-4.01zM409.9 1200.61h3.73v8.39h-3.73zM154.15 1209.65h8.4v8.39h-8.4zM409.9 1209.65h6.16v8.39h-6.16zM409.9 1223.78h4.67v8.39h-4.67zM409.9 1232.82h6.16v8.39h-6.16zM409.9 1241.86h10.08v8.39h-10.08zM156.02 1256h2.8v8.39h-2.8zM409.9 1256h6.81v8.39h-6.81zM409.9 1265.04h3.73v8.39h-3.73zM409.9 1279.17h2.8v8.39h-2.8zM156.95 1293.3h21.47v8.39h-21.47zM287.28 1293.3h15.31v8.39h-15.31zM409.9 1293.3h21.47v8.39h-21.47zM160.31 1307.43h31.65v8.39h-31.65zM289.52 1307.43h27.07v8.39h-27.07zM409.9 1307.43h31.18v8.39h-31.18zM157.88 1316.47h17.74v8.39h-17.74zM286.25 1316.47h10.74v8.39h-10.74zM409.9 1316.47h13.35v8.39h-13.35zM160.31 1330.6h40.51v8.39h-40.51zM287.28 1330.6h26.14v8.39h-26.14zM409.9 1330.6h33.79v8.39h-33.79zM158.82 1339.65h10.27v8.39h-10.27zM286.25 1339.65h5.6v8.39h-5.6zM409.9 1339.65h14v8.39h-14zM160.96 1353.78h40.79v8.39h-40.79zM291.85 1353.78h26.42v8.39h-26.42zM409.9 1353.78h36.13v8.39h-36.13zM159.38 1362.82h23.52v8.39h-23.52zM287.93 1362.82h17.92v8.39h-17.92zM409.9 1362.82h26.32v8.39h-26.32zM158.82 1371.86h18.48v8.39h-18.48zM286.25 1371.86h8.87v8.39h-8.87zM409.9 1371.86h17.55v8.39h-17.55zM156.95 1380.91h36.69v8.39h-36.69zM287.28 1380.91h13.72v8.39h-13.72zM409.9 1380.91h23.71v8.39h-23.71zM156.95 1389.95h25.2v8.39h-25.2zM284.85 1389.95h16.8v8.39h-16.8zM409.9 1389.95h17.27v8.39h-17.27zM160.96 1398.99h38.55v8.39h-38.55zM291.85 1398.99h27.54v8.39h-27.54zM409.9 1398.99h37.06v8.39h-37.06zM156.95 1413.12h14.94v8.39h-14.94zM286.25 1413.12h3.92v8.39h-3.92zM409.9 1413.12h6.16v8.39h-6.16zM154.15 1422.16h37.34v8.39h-37.34zM287.28 1422.16h17.64v8.39h-17.64zM409.9 1422.16h29.59v8.39h-29.59zM161.99 1436.3h31.65v8.39h-31.65zM288.58 1436.3h21.19v8.39h-21.19zM409.9 1436.3h24.74v8.39h-24.74zM160.31 1450.43h51.9v8.39h-51.9zM287.93 1450.43h35.94v8.39h-35.94zM409.9 1450.43h42.57v8.39h-42.57zM160.03 1464.56h12.42v8.39h-12.42zM287.93 1464.56h7.19v8.39h-7.19zM409.9 1464.56h18.2v8.39h-18.2zM156.95 1478.69h18.67v8.39h-18.67zM284.85 1478.69h15.5v8.39h-15.5zM409.9 1478.69h18.2v8.39h-18.2zM156.95 1492.82h16.43v8.39h-16.43zM287.28 1492.82h5.51v8.39h-5.51zM409.9 1492.82h14.28v8.39h-14.28zM162.55 1506.95h33.33v8.39h-33.33zM292.79 1506.95h19.6v8.39h-19.6zM409.9 1506.95h32.21v8.39h-32.21zM158.82 1521.08h34.82v8.39h-34.82zM290.17 1521.08h18.95v8.39h-18.95zM409.9 1521.08h29.59v8.39h-29.59zM159.38 1530.12h30.25v8.39h-30.25zM288.86 1530.12h18.67v8.39h-18.67zM409.9 1530.12h28v8.39h-28zM156.95 1539.16h31.18v8.39h-31.18zM288.86 1539.16h14.66v8.39h-14.66zM409.9 1539.16h25.67v8.39h-25.67zM158.82 1548.21h42.29v8.39h-42.29zM289.52 1548.21h25.2v8.39h-25.2zM409.9 1548.21h32.86v8.39h-32.86zM160.31 1562.34h35.57v8.39h-35.57zM291.85 1562.34h18.2v8.39h-18.2zM409.9 1562.34h29.59v8.39h-29.59zM158.82 1571.38h15.22v8.39h-15.22zM287.28 1571.38h10.46v8.39h-10.46zM409.9 1571.38h18.2v8.39h-18.2zM163.49 1585.51h8.96v8.39h-8.96zM285.78 1585.51h6.07v8.39h-6.07zM409.9 1585.51h20.54v8.39h-20.54zM160.96 1594.55h8.12v8.39h-8.12zM284.85 1594.55h7.93v8.39h-7.93zM409.9 1594.55h13.35v8.39h-13.35zM161.99 1603.6h4.85v8.39h-4.85zM286.25 1603.6h3.27v8.39h-3.27zM409.9 1603.6h11.67v8.39h-11.67zM164.23 1617.73h34.35v8.39h-34.35zM290.17 1617.73h18.3v8.39h-18.3zM409.9 1617.73h29.59v8.39h-29.59zM160.31 1631.86h8.77v8.39h-8.77zM409.9 1631.86h2.8v8.39h-2.8zM156.02 1640.9h3.36v8.39h-3.36zM409.9 1640.9h2.8v8.39h-2.8zM160.03 1655.03h41.73v8.39h-41.73zM288.86 1655.03h27.72v8.39h-27.72zM409.9 1655.03h34.54v8.39h-34.54zM158.82 1664.08h37.34v8.39h-37.34zM286.25 1664.08h29.41v8.39h-29.41zM409.9 1664.08h31.18v8.39h-31.18zM158.82 1678.21h31.55v8.39h-31.55zM287.28 1678.21h22.5v8.39h-22.5zM409.9 1678.21h28.94v8.39h-28.94zM158.82 1687.25h38.74v8.39h-38.74zM287.28 1687.25h27.72v8.39h-27.72zM409.9 1687.25h31.18v8.39h-31.18zM286.25 1701.38h5.6v8.39h-5.6zM409.9 1701.38h7.47v8.39h-7.47zM409.9 1715.51h8.4v8.39h-8.4zM289.52 1729.64h6.53v8.39h-6.53zM409.9 1729.64h14.94v8.39h-14.94zM409.9 1738.68h11.67v8.39h-11.67zM288.58 1752.81h7.47v8.39h-7.47zM409.9 1752.81h10.74v8.39h-10.74zM287.28 1766.94h4.57v8.39h-4.57zM409.9 1766.94h9.15v8.39h-9.15zM409.9 1795.2h12.32v8.39h-12.32zM293.44 1804.25h4.95v8.39h-4.95zM409.9 1804.25h11.67v8.39h-11.67zM311.74 1818.38h3.92v8.39h-3.92zM409.9 1818.38h22.12v8.39h-22.12zM154.15 1832.51h93.35v8.39h-93.35zM282.05 1832.51h93.35v8.39h-93.35zM409.9 1832.51h93.35v8.39h-93.35zM154.15 1841.55h93.35v8.39h-93.35zM282.05 1841.55h93.35v8.39h-93.35zM409.9 1841.55h93.35v8.39h-93.35zM154.15 1850.6h93.35v8.39h-93.35zM282.05 1850.6h93.35v8.39h-93.35zM409.9 1850.6h93.35v8.39h-93.35zM154.15 1859.64h93.35v8.39h-93.35zM282.05 1859.64h93.35v8.39h-93.35zM409.9 1859.64h93.35v8.39h-93.35zM170.77 1873.77h63.66v8.39h-63.66zM305.85 1873.77h45.74v8.39h-45.74zM409.9 1873.77h67.96v8.39h-67.96zM163.3 1887.9h68.52v8.39h-68.52zM295.4 1887.9h49.01v8.39h-49.01zM409.9 1887.9h64.69v8.39h-64.69zM164.23 1896.94h70.85v8.39h-70.85zM296.99 1896.94h49.66v8.39h-49.66zM409.9 1896.94h67.68v8.39h-67.68zM163.49 1911.07h56.29v8.39h-56.29zM299.32 1911.07h39.21v8.39h-39.21zM409.9 1911.07h55.64v8.39h-55.64zM161.99 1920.12h76.17v8.39h-76.17zM295.4 1920.12h56.85v8.39h-56.85zM409.9 1920.12h74.49v8.39h-74.49zM161.99 1929.16h64.32v8.39h-64.32zM293.44 1929.16h54.89v8.39h-54.89zM409.9 1929.16h62.73v8.39h-62.73zM164.23 1943.29h72.81v8.39h-72.81zM297.73 1943.29h63.01v8.39h-63.01zM409.9 1943.29h75.15v8.39h-75.15zM164.23 1957.42h66.93v8.39h-66.93zM298.67 1957.42h59.46v8.39h-59.46zM409.9 1957.42h70.29v8.39h-70.29zM161.99 1966.46h54.52v8.39h-54.52zM292.79 1966.46h41.54v8.39h-41.54zM409.9 1966.46h51.72v8.39h-51.72zM164.23 1975.51h63.66v8.39h-63.66zM297.73 1975.51h47.98v8.39h-47.98zM409.9 1975.51h61.52v8.39h-61.52zM163.49 1984.55h69.36v8.39h-69.36zM296.05 1984.55h54.89v8.39h-54.89zM409.9 1984.55h67.03v8.39h-67.03zM154.15 1998.68h93.35v8.39h-93.35zM286.25 1998.68h59.46v8.39h-59.46zM409.9 1998.68h86.54v8.39h-86.54zM169.09 2012.81h53.96v8.39h-53.96zM301.93 2012.81h39.86v8.39h-39.86zM409.9 2012.81h54.98v8.39h-54.98zM350.94 2026.94h16.06v8.39h-16.06zM409.9 2026.94h60.49v8.39h-60.49zM335.91 2035.98h24.83v8.39h-24.83zM409.9 2035.98h57.22v8.39h-57.22zM349.92 2045.03h25.48v8.39h-25.48zM409.9 2045.03h61.52v8.39h-61.52zM327.14 2054.07h32.58v8.39h-32.58zM409.9 2054.07h58.81v8.39h-58.81zM359.06 2068.2h9.52v8.39h-9.52zM409.9 2068.2h54.98v8.39h-54.98zM342.73 2077.24h9.52v8.39h-9.52zM409.9 2077.24h44.25v8.39h-44.25zM409.9 2086.29h25.67v8.39h-25.67zM339.18 2095.33h14v8.39h-14zM409.9 2095.33h50.69v8.39h-50.69zM409.9 2109.46h57.22v8.39h-57.22zM409.9 2118.5h48.54v8.39h-48.54zM409.9 2127.54h48.17v8.39h-48.17zM409.9 2136.59h53.02v8.39h-53.02zM409.9 2145.63h49.1v8.39h-49.1zM409.9 2154.67h51.72v8.39h-51.72zM409.9 2163.72h46.49v8.39h-46.49zM409.9 2172.76h42.57v8.39h-42.57zM409.9 2181.8h44.25v8.39h-44.25zM409.9 2190.85h50.13v8.39h-50.13zM409.9 2199.89h48.54v8.39h-48.54zM409.9 2208.93h41.63v8.39h-41.63zM311.46 2223.06h11.39v8.39h-11.39zM409.9 2223.06h33.51v8.39h-33.51zM305.85 2232.11h8.87v8.39h-8.87zM409.9 2232.11h27.07v8.39h-27.07zM310.06 2241.15h12.14v8.39h-12.14zM409.9 2241.15h35.47v8.39h-35.47zM310.8 2250.19h9.05v8.39h-9.05zM409.9 2250.19h28.94v8.39h-28.94zM315.66 2264.32h9.15v8.39h-9.15zM409.9 2264.32h31.83v8.39h-31.83zM320.6 2273.36h2.24v8.39h-2.24zM409.9 2273.36h29.59v8.39h-29.59zM319.86 2282.41h6.63v8.39h-6.63zM409.9 2282.41h33.51v8.39h-33.51zM409.9 2291.45h24.74v8.39h-24.74zM314.07 2305.58h8.77v8.39h-8.77zM409.9 2305.58h31.18v8.39h-31.18zM312.39 2314.62h8.87v8.39h-8.87zM409.9 2314.62h33.79v8.39h-33.79zM310.06 2323.67h9.8v8.39h-9.8zM409.9 2323.67h33.79v8.39h-33.79zM312.39 2332.71h3.27v8.39h-3.27zM409.9 2332.71h26.32v8.39h-26.32zM306.51 2341.75h18.3v8.39h-18.3zM409.9 2341.75h37.71v8.39h-37.71zM317.34 2350.8h3.92v8.39h-3.92zM409.9 2350.8h29.59v8.39h-29.59zM305.2 2364.93h4.57v8.39h-4.57zM409.9 2364.93h27.07v8.39h-27.07zM244.23 2379.06h3.27v8.39h-3.27zM317.34 2379.06h11.39v8.39h-11.39zM409.9 2379.06h35.1v8.39h-35.1zM310.8 2388.1h9.05v8.39h-9.05zM409.9 2388.1h29.59v8.39h-29.59zM315.66 2397.14h9.15v8.39h-9.15zM409.9 2397.14h35.1v8.39h-35.1zM317.34 2406.19h8.77v8.39h-8.77zM409.9 2406.19h33.51v8.39h-33.51zM234.43 2415.23h13.07v8.39h-13.07zM312.39 2415.23h18.95v8.39h-18.95zM409.9 2415.23h42.57v8.39h-42.57zM312.39 2429.36h5.88v8.39h-5.88zM409.9 2429.36h32.86v8.39h-32.86z" fill="#12a9e6" stroke="#05050a" stroke-width="1"/>
<path d="M282.05 213.2h10.74v8.39h-10.74zM282.05 788.01h5.23v8.39h-5.23zM282.05 825.31h3.73v8.39h-3.73zM282.05 839.44h5.88v8.39h-5.88zM282.05 848.49h5.23v8.39h-5.23zM282.05 857.53h4.2v8.39h-4.2zM282.05 866.57h4.2v8.39h-4.2zM282.05 875.62h5.88v8.39h-5.88zM282.05 884.66h5.23v8.39h-5.23zM154.15 907.83h2.61v8.39h-2.61zM154.15 916.88h2.8v8.39h-2.8zM154.15 925.92h1.87v8.39h-1.87zM154.15 940.05h1.87v8.39h-1.87zM154.15 949.09h1.87v8.39h-1.87zM282.05 949.09h1.87v8.39h-1.87zM154.15 963.22h1.87v8.39h-1.87zM282.05 963.22h1.87v8.39h-1.87zM282.05 981.31h6.81v8.39h-6.81zM282.05 990.35h1.87v8.39h-1.87zM154.15 999.4h1.87v8.39h-1.87zM282.05 999.4h1.87v8.39h-1.87zM154.15 1008.44h1.87v8.39h-1.87zM282.05 1008.44h1.87v8.39h-1.87zM282.05 1017.48h4.2v8.39h-4.2zM154.15 1031.61h1.87v8.39h-1.87zM282.05 1049.7h5.23v8.39h-5.23zM282.05 1058.74h2.8v8.39h-2.8zM154.15 1076.83h1.87v8.39h-1.87zM282.05 1076.83h1.87v8.39h-1.87zM154.15 1085.87h1.87v8.39h-1.87zM282.05 1085.87h1.87v8.39h-1.87zM282.05 1094.91h2.8v8.39h-2.8zM282.05 1103.96h2.8v8.39h-2.8zM282.05 1113h5.23v8.39h-5.23zM282.05 1122.04h5.23v8.39h-5.23zM154.15 1131.08h2.8v8.39h-2.8zM282.05 1140.13h2.8v8.39h-2.8zM282.05 1154.26h4.2v8.39h-4.2zM282.05 1163.3h4.2v8.39h-4.2zM282.05 1172.34h4.2v8.39h-4.2zM282.05 1209.65h1.87v8.39h-1.87zM154.15 1256h1.87v8.39h-1.87zM154.15 1293.3h2.8v8.39h-2.8zM282.05 1293.3h5.23v8.39h-5.23zM282.05 1307.43h7.47v8.39h-7.47zM282.05 1316.47h4.2v8.39h-4.2zM282.05 1330.6h5.23v8.39h-5.23zM282.05 1339.65h4.2v8.39h-4.2zM282.05 1353.78h9.8v8.39h-9.8zM282.05 1362.82h5.88v8.39h-5.88zM282.05 1371.86h4.2v8.39h-4.2zM282.05 1380.91h5.23v8.39h-5.23zM282.05 1389.95h2.8v8.39h-2.8zM282.05 1398.99h9.8v8.39h-9.8zM154.15 1413.12h2.8v8.39h-2.8zM282.05 1413.12h4.2v8.39h-4.2zM282.05 1422.16h5.23v8.39h-5.23zM282.05 1436.3h6.53v8.39h-6.53zM282.05 1450.43h5.88v8.39h-5.88zM282.05 1464.56h5.88v8.39h-5.88zM282.05 1478.69h2.8v8.39h-2.8zM282.05 1492.82h5.23v8.39h-5.23zM282.05 1506.95h10.74v8.39h-10.74zM282.05 1521.08h8.12v8.39h-8.12zM282.05 1530.12h6.81v8.39h-6.81zM282.05 1539.16h6.81v8.39h-6.81zM282.05 1548.21h7.47v8.39h-7.47zM282.05 1562.34h9.8v8.39h-9.8zM282.05 1571.38h5.23v8.39h-5.23zM282.05 1585.51h3.73v8.39h-3.73zM282.05 1594.55h2.8v8.39h-2.8zM282.05 1617.73h8.12v8.39h-8.12zM282.05 1655.03h6.81v8.39h-6.81zM282.05 1664.08h4.2v8.39h-4.2zM282.05 1678.21h5.23v8.39h-5.23zM282.05 1687.25h5.23v8.39h-5.23zM282.05 1701.38h4.2v8.39h-4.2zM282.05 1715.51h7.47v8.39h-7.47zM282.05 1729.64h7.47v8.39h-7.47zM282.05 1738.68h7.47v8.39h-7.47zM154.15 1752.81h4.2v8.39h-4.2zM282.05 1752.81h6.53v8.39h-6.53zM154.15 1766.94h6.81v8.39h-6.81zM282.05 1766.94h5.23v8.39h-5.23zM282.05 1795.2h16.62v8.39h-16.62zM282.05 1804.25h11.39v8.39h-11.39zM282.05 1818.38h29.69v8.39h-29.69zM282.05 1873.77h23.8v8.39h-23.8zM282.05 1887.9h13.35v8.39h-13.35zM282.05 1896.94h14.94v8.39h-14.94zM282.05 1911.07h17.27v8.39h-17.27zM282.05 1920.12h13.35v8.39h-13.35zM282.05 1929.16h11.39v8.39h-11.39zM282.05 1943.29h15.68v8.39h-15.68zM282.05 1957.42h16.62v8.39h-16.62zM282.05 1966.46h10.74v8.39h-10.74zM282.05 1975.51h15.68v8.39h-15.68zM282.05 1984.55h14v8.39h-14zM282.05 1998.68h4.2v8.39h-4.2zM282.05 2012.81h19.88v8.39h-19.88zM282.05 2026.94h68.89v8.39h-68.89zM282.05 2035.98h53.86v8.39h-53.86zM282.05 2045.03h67.87v8.39h-67.87zM282.05 2054.07h45.09v8.39h-45.09zM282.05 2068.2h77.01v8.39h-77.01zM282.05 2077.24h60.68v8.39h-60.68zM282.05 2086.29h41.07v8.39h-41.07zM282.05 2095.33h57.13v8.39h-57.13zM282.05 2109.46h93.35v8.39h-93.35zM282.05 2118.5h93.35v8.39h-93.35zM282.05 2127.54h93.35v8.39h-93.35zM282.05 2136.59h93.35v8.39h-93.35zM282.05 2145.63h93.35v8.39h-93.35zM282.05 2154.67h93.35v8.39h-93.35zM282.05 2163.72h93.35v8.39h-93.35zM282.05 2172.76h93.35v8.39h-93.35zM282.05 2181.8h93.35v8.39h-93.35zM282.05 2190.85h93.35v8.39h-93.35zM282.05 2199.89h93.35v8.39h-93.35zM282.05 2208.93h93.35v8.39h-93.35zM282.05 2223.06h29.41v8.39h-29.41zM282.05 2232.11h23.8v8.39h-23.8zM282.05 2241.15h28v8.39h-28zM282.05 2250.19h28.75v8.39h-28.75zM282.05 2264.32h33.61v8.39h-33.61zM282.05 2273.36h38.55v8.39h-38.55zM282.05 2282.41h37.81v8.39h-37.81zM282.05 2291.45h35.29v8.39h-35.29zM282.05 2305.58h32.02v8.39h-32.02zM282.05 2314.62h30.34v8.39h-30.34zM282.05 2323.67h28v8.39h-28zM282.05 2332.71h30.34v8.39h-30.34zM282.05 2341.75h24.46v8.39h-24.46zM282.05 2350.8h35.29v8.39h-35.29zM282.05 2364.93h23.15v8.39h-23.15zM282.05 2379.06h35.29v8.39h-35.29zM282.05 2388.1h28.75v8.39h-28.75zM282.05 2397.14h33.61v8.39h-33.61zM282.05 2406.19h35.29v8.39h-35.29zM282.05 2415.23h30.34v8.39h-30.34zM282.05 2429.36h30.34v8.39h-30.34z" fill="#0b6a8b" stroke="#05050a" stroke-width="1"/>
<path d="M335.26 213.2h7.47v8.39h-7.47zM282.05 357.33h5.6v8.39h-5.6zM154.15 514.46h93.35v8.39h-93.35zM282.05 514.46h93.35v8.39h-93.35zM154.15 523.5h93.35v8.39h-93.35zM282.05 523.5h93.35v8.39h-93.35zM154.15 532.54h93.35v8.39h-93.35zM282.05 532.54h93.35v8.39h-93.35zM154.15 546.67h93.35v8.39h-93.35zM282.05 546.67h69.55v8.39h-69.55zM154.15 555.72h93.35v8.39h-93.35zM282.05 555.72h21.47v8.39h-21.47zM154.15 564.76h93.35v8.39h-93.35zM291.2 564.76h20.26v8.39h-20.26zM154.15 578.89h44.43v8.39h-44.43zM282.05 578.89h34.54v8.39h-34.54zM154.15 587.93h58.44v8.39h-58.44zM282.05 587.93h44.06v8.39h-44.06zM156.95 596.97h53.21v8.39h-53.21zM286.72 596.97h39.21v8.39h-39.21zM154.15 606.02h54.14v8.39h-54.14zM282.05 606.02h43.87v8.39h-43.87zM155.55 615.06h45.27v8.39h-45.27zM287.93 615.06h27.72v8.39h-27.72zM154.15 629.19h34.54v8.39h-34.54zM282.05 629.19h18.67v8.39h-18.67zM154.15 638.23h74.4v8.39h-74.4zM282.05 638.23h48.26v8.39h-48.26zM154.15 647.28h61.61v8.39h-61.61zM282.05 647.28h37.81v8.39h-37.81zM154.15 656.32h73.75v8.39h-73.75zM282.05 656.32h44.81v8.39h-44.81zM154.15 665.36h53.21v8.39h-53.21zM282.05 665.36h28v8.39h-28zM154.15 674.41h41.07v8.39h-41.07zM282.05 674.41h18.67v8.39h-18.67zM154.15 683.45h56.48v8.39h-56.48zM282.05 683.45h32.95v8.39h-32.95zM154.15 692.49h31.37v8.39h-31.37zM282.05 692.49h14v8.39h-14zM154.15 701.54h37.81v8.39h-37.81zM282.05 701.54h18.67v8.39h-18.67zM154.15 710.58h48.26v8.39h-48.26zM282.05 710.58h27.07v8.39h-27.07zM154.15 719.62h37.34v8.39h-37.34zM282.05 719.62h18.67v8.39h-18.67zM154.15 728.66h59.09v8.39h-59.09zM282.05 728.66h35.94v8.39h-35.94zM154.15 737.71h53.49v8.39h-53.49zM282.05 737.71h34.54v8.39h-34.54zM154.15 746.75h63.94v8.39h-63.94zM282.05 746.75h36.87v8.39h-36.87zM154.15 755.79h41.07v8.39h-41.07zM282.05 755.79h21.47v8.39h-21.47zM154.15 764.84h54.14v8.39h-54.14zM282.05 764.84h32.02v8.39h-32.02zM154.15 773.88h60.68v8.39h-60.68zM282.05 773.88h35.94v8.39h-35.94zM174.69 788.01h14.94v8.39h-14.94zM291.85 788.01h20.54v8.39h-20.54zM168.15 797.05h5.88v8.39h-5.88zM287.93 797.05h11.39v8.39h-11.39zM164.89 811.18h8.49v8.39h-8.49zM282.05 811.18h10.74v8.39h-10.74zM175.62 825.31h11.48v8.39h-11.48zM291.85 825.31h19.6v8.39h-19.6zM178.98 839.44h14.66v8.39h-14.66zM296.99 839.44h21v8.39h-21zM178.42 848.49h16.15v8.39h-16.15zM295.12 848.49h23.8v8.39h-23.8zM187.1 857.53h13.07v8.39h-13.07zM303.52 857.53h19.32v8.39h-19.32zM174.03 866.57h19.6v8.39h-19.6zM291.85 866.57h27.07v8.39h-27.07zM178.98 875.62h12.98v8.39h-12.98zM297.73 875.62h18.86v8.39h-18.86zM182.16 884.66h14.75v8.39h-14.75zM297.73 884.66h20.26v8.39h-20.26zM172.45 893.7h7.47v8.39h-7.47zM291.85 893.7h10.74v8.39h-10.74zM168.53 907.83h12.04v8.39h-12.04zM287.28 907.83h17.64v8.39h-17.64zM164.23 916.88h12.32v8.39h-12.32zM291.85 916.88h11.67v8.39h-11.67zM161.99 925.92h13.63v8.39h-13.63zM289.52 925.92h13.07v8.39h-13.07zM160.31 940.05h9.71v8.39h-9.71zM284.85 940.05h11.2v8.39h-11.2zM164.23 949.09h10.83v8.39h-10.83zM290.17 949.09h11.48v8.39h-11.48zM174.03 963.22h8.12v8.39h-8.12zM292.13 963.22h10.46v8.39h-10.46zM165.35 972.27h7.09v8.39h-7.09zM287.93 972.27h7.47v8.39h-7.47zM184.49 981.31h8.49v8.39h-8.49zM299.32 981.31h16.34v8.39h-16.34zM174.03 990.35h8.12v8.39h-8.12zM291.2 990.35h13.72v8.39h-13.72zM160.96 999.4h12.14v8.39h-12.14zM287.28 999.4h13.72v8.39h-13.72zM169.09 1008.44h13.07v8.39h-13.07zM287.28 1008.44h15.31v8.39h-15.31zM178.98 1017.48h9.71v8.39h-9.71zM296.05 1017.48h13.07v8.39h-13.07zM169.09 1031.61h6.53v8.39h-6.53zM282.05 1031.61h4.67v8.39h-4.67zM292.79 1031.61h4.95v8.39h-4.95zM172.45 1040.65h6.53v8.39h-6.53zM289.52 1040.65h6.53v8.39h-6.53zM177.3 1049.7h15.4v8.39h-15.4zM295.12 1049.7h20.54v8.39h-20.54zM170.77 1058.74h5.6v8.39h-5.6zM294.47 1058.74h5.88v8.39h-5.88zM154.15 1067.78h2.8v8.39h-2.8zM162.55 1067.78h7.28v8.39h-7.28zM282.05 1067.78h14v8.39h-14zM165.91 1076.83h13.07v8.39h-13.07zM291.85 1076.83h13.07v8.39h-13.07zM178.42 1085.87h8.03v8.39h-8.03zM292.79 1085.87h13.07v8.39h-13.07zM178.42 1094.91h13.54v8.39h-13.54zM292.79 1094.91h19.6v8.39h-19.6zM178.42 1103.96h8.68v8.39h-8.68zM296.05 1103.96h11.48v8.39h-11.48zM183.84 1113h9.8v8.39h-9.8zM296.99 1113h19.6v8.39h-19.6zM180.57 1122.04h9.8v8.39h-9.8zM296.05 1122.04h18.02v8.39h-18.02zM172.45 1131.08h7.47v8.39h-7.47zM291.85 1131.08h14v8.39h-14zM175.62 1140.13h6.53v8.39h-6.53zM291.85 1140.13h15.68v8.39h-15.68zM178.98 1154.26h13.72v8.39h-13.72zM296.99 1154.26h18.67v8.39h-18.67zM182.9 1163.3h12.98v8.39h-12.98zM296.05 1163.3h20.54v8.39h-20.54zM185.52 1172.34h7.19v8.39h-7.19zM300.35 1172.34h8.77v8.39h-8.77zM154.15 1186.47h2.8v8.39h-2.8zM160.96 1186.47h6.53v8.39h-6.53zM282.05 1186.47h7.47v8.39h-7.47zM154.15 1200.61h2.8v8.39h-2.8zM170.77 1200.61h5.6v8.39h-5.6zM282.05 1200.61h2.8v8.39h-2.8zM291.85 1200.61h4.2v8.39h-4.2zM168.15 1209.65h14v8.39h-14zM292.79 1209.65h12.14v8.39h-12.14zM176.37 1223.78h17.27v8.39h-17.27zM282.05 1223.78h28v8.39h-28zM154.15 1232.82h2.8v8.39h-2.8zM164.23 1232.82h18.67v8.39h-18.67zM282.05 1232.82h21.47v8.39h-21.47zM170.77 1241.86h14.75v8.39h-14.75zM282.05 1241.86h35.29v8.39h-35.29zM160.96 1256h12.42v8.39h-12.42zM282.05 1256h15.68v8.39h-15.68zM160.03 1265.04h12.42v8.39h-12.42zM282.05 1265.04h10.74v8.39h-10.74zM154.15 1279.17h1.87v8.39h-1.87zM160.96 1279.17h10.92v8.39h-10.92zM288.58 1279.17h9.15v8.39h-9.15zM306.51 1293.3h4.95v8.39h-4.95zM319.86 1307.43h7.93v8.39h-7.93zM214.83 1330.6h4.95v8.39h-4.95zM319.39 1330.6h11.95v8.39h-11.95zM184.49 1339.65h15.68v8.39h-15.68zM291.85 1339.65h27.54v8.39h-27.54zM318.27 1353.78h12.7v8.39h-12.7zM203.44 1362.82h16.34v8.39h-16.34zM313.42 1362.82h25.76v8.39h-25.76zM196.9 1371.86h14.66v8.39h-14.66zM308.19 1371.86h20.54v8.39h-20.54zM204.37 1380.91h3.92v8.39h-3.92zM304.27 1380.91h8.77v8.39h-8.77zM214.83 1398.99h9.15v8.39h-9.15zM324.8 1398.99h14.38v8.39h-14.38zM187.1 1413.12h4.39v8.39h-4.39zM298.67 1413.12h7.84v8.39h-7.84zM205.68 1436.3h4.95v8.39h-4.95zM309.77 1436.3h13.07v8.39h-13.07zM218.09 1450.43h3.27v8.39h-3.27zM327.79 1450.43h5.79v8.39h-5.79zM181.22 1464.56h15.68v8.39h-15.68zM295.12 1464.56h21.47v8.39h-21.47zM182.16 1478.69h13.72v8.39h-13.72zM300.35 1478.69h16.24v8.39h-16.24zM187.1 1492.82h10.74v8.39h-10.74zM296.05 1492.82h16.99v8.39h-16.99zM210.16 1506.95h7.93v8.39h-7.93zM312.39 1506.95h17.92v8.39h-17.92zM203.44 1521.08h9.15v8.39h-9.15zM309.12 1521.08h14.75v8.39h-14.75zM193.64 1530.12h12.04v8.39h-12.04zM307.53 1530.12h14.66v8.39h-14.66zM204.09 1539.16h8.12v8.39h-8.12zM314.72 1539.16h9.15v8.39h-9.15zM217.44 1548.21h3.92v8.39h-3.92zM323.87 1548.21h6.44v8.39h-6.44zM206.71 1562.34h4.85v8.39h-4.85zM310.06 1562.34h13.82v8.39h-13.82zM187.1 1571.38h11.48v8.39h-11.48zM302.59 1571.38h16.34v8.39h-16.34zM179.91 1585.51h16.99v8.39h-16.99zM291.85 1585.51h26.14v8.39h-26.14zM184.96 1594.55h11.95v8.39h-11.95zM297.73 1594.55h20.26v8.39h-20.26zM174.03 1603.6h18.95v8.39h-18.95zM282.05 1603.6h4.2v8.39h-4.2zM289.52 1603.6h28.47v8.39h-28.47zM223.04 1617.73h6.53v8.39h-6.53zM322.84 1617.73h15.22v8.39h-15.22zM154.15 1631.86h2.8v8.39h-2.8zM169.09 1631.86h9.33v8.39h-9.33zM282.05 1631.86h17.27v8.39h-17.27zM154.15 1640.9h1.87v8.39h-1.87zM165.35 1640.9h6.53v8.39h-6.53zM282.05 1640.9h5.23v8.39h-5.23zM291.2 1640.9h6.53v8.39h-6.53zM210.16 1655.03h3.73v8.39h-3.73zM316.59 1655.03h9.52v8.39h-9.52zM315.66 1664.08h10.46v8.39h-10.46zM205.68 1678.21h7.56v8.39h-7.56zM317.99 1678.21h11.39v8.39h-11.39zM207.36 1687.25h5.88v8.39h-5.88zM315 1687.25h9.52v8.39h-9.52zM289.52 1715.51h4.95v8.39h-4.95zM304.92 1729.64h12.42v8.39h-12.42zM292.79 1738.68h13.07v8.39h-13.07zM327.79 1738.68h4.2v8.39h-4.2zM301.93 1752.81h6.53v8.39h-6.53zM296.71 1766.94h4.95v8.39h-4.95zM351.6 1873.77h12.42v8.39h-12.42zM231.82 1887.9h2.61v8.39h-2.61zM344.41 1887.9h5.51v8.39h-5.51zM346.65 1896.94h7.28v8.39h-7.28zM347.39 1911.07h9.71v8.39h-9.71zM353.18 1929.16h4.95v8.39h-4.95zM360.74 1943.29h7.19v8.39h-7.19zM358.13 1957.42h5.88v8.39h-5.88zM338.06 1966.46h5.32v8.39h-5.32zM345.71 1975.51h6.81v8.39h-6.81zM350.94 1984.55h8.12v8.39h-8.12zM351.6 2012.81h10.46v8.39h-10.46zM367 2026.94h2.52v8.39h-2.52zM365.13 2035.98h4.39v8.39h-4.39zM359.72 2054.07h9.8v8.39h-9.8zM368.59 2068.2h3.08v8.39h-3.08zM357.48 2077.24h17.92v8.39h-17.92zM334.61 2086.29h40.79v8.39h-40.79zM357.48 2095.33h12.04v8.39h-12.04zM322.84 2223.06h52.56v8.39h-52.56zM326.11 2232.11h46.68v8.39h-46.68zM327.14 2241.15h48.26v8.39h-48.26zM329.38 2250.19h46.02v8.39h-46.02zM324.8 2264.32h50.6v8.39h-50.6zM322.84 2273.36h52.56v8.39h-52.56zM326.48 2282.41h48.92v8.39h-48.92zM317.34 2291.45h58.06v8.39h-58.06zM322.84 2305.58h52.56v8.39h-52.56zM321.26 2314.62h54.14v8.39h-54.14zM319.86 2323.67h52.93v8.39h-52.93zM315.66 2332.71h59.74v8.39h-59.74zM324.8 2341.75h50.6v8.39h-50.6zM321.26 2350.8h54.14v8.39h-54.14zM233.78 2364.93h10.46v8.39h-10.46zM309.77 2364.93h55.36v8.39h-55.36zM328.73 2379.06h46.67v8.39h-46.67zM319.86 2388.1h55.54v8.39h-55.54zM324.8 2397.14h50.6v8.39h-50.6zM326.11 2406.19h49.29v8.39h-49.29zM331.34 2415.23h44.06v8.39h-44.06zM241.62 2429.36h5.88v8.39h-5.88zM318.27 2429.36h57.13v8.39h-57.13z" fill="#2a4390" stroke="#05050a" stroke-width="1"/>
<path d="M367 213.2h8.4v8.39h-8.4zM348.33 282.72h10.27v8.39h-10.27zM314.72 357.33h30.34v8.39h-30.34zM232.84 578.89h9.05v8.39h-9.05zM354.86 578.89h14.66v8.39h-14.66zM237.04 587.93h7.19v8.39h-7.19zM365.6 587.93h7.19v8.39h-7.19zM364.01 596.97h7.19v8.39h-7.19zM234.43 606.02h9.15v8.39h-9.15zM364.01 606.02h8.12v8.39h-8.12zM243.3 615.06h1.87v8.39h-1.87zM360.46 615.06h9.99v8.39h-9.99zM217.63 629.19h29.87v8.39h-29.87zM345.53 629.19h29.87v8.39h-29.87zM372.6 638.23h2.8v8.39h-2.8zM233.5 647.28h14v8.39h-14zM361.4 647.28h14v8.39h-14zM238.17 656.32h9.33v8.39h-9.33zM367 656.32h8.4v8.39h-8.4zM237.23 665.36h10.27v8.39h-10.27zM364.66 665.36h10.74v8.39h-10.74zM233.5 674.41h14v8.39h-14zM362.05 674.41h13.35v8.39h-13.35zM230.23 683.45h17.27v8.39h-17.27zM358.6 683.45h16.8v8.39h-16.8zM213.89 692.49h33.61v8.39h-33.61zM341.79 692.49h33.61v8.39h-33.61zM223.7 701.54h23.8v8.39h-23.8zM351.6 701.54h23.8v8.39h-23.8zM226.31 710.58h21.19v8.39h-21.19zM354.21 710.58h21.19v8.39h-21.19zM221.36 719.62h26.14v8.39h-26.14zM349.26 719.62h26.14v8.39h-26.14zM231.82 728.66h15.68v8.39h-15.68zM360.46 728.66h14.94v8.39h-14.94zM220.71 737.71h26.79v8.39h-26.79zM348.98 737.71h26.42v8.39h-26.42zM233.78 746.75h13.72v8.39h-13.72zM362.05 746.75h13.35v8.39h-13.35zM220.43 755.79h27.07v8.39h-27.07zM348.33 755.79h27.07v8.39h-27.07zM233.5 764.84h14v8.39h-14zM361.4 764.84h14v8.39h-14zM233.78 773.88h13.72v8.39h-13.72zM362.05 773.88h13.35v8.39h-13.35zM244.23 788.01h1.87v8.39h-1.87zM312.39 788.01h44.06v8.39h-44.06zM245.17 797.05h2.33v8.39h-2.33zM299.32 797.05h38.74v8.39h-38.74zM235.08 811.18h6.53v8.39h-6.53zM292.79 811.18h52.28v8.39h-52.28zM311.46 825.31h37.53v8.39h-37.53zM319.86 839.44h35.01v8.39h-35.01zM322.19 848.49h40.79v8.39h-40.79zM326.11 857.53h31.37v8.39h-31.37zM318.92 866.57h37.53v8.39h-37.53zM318.27 875.62h39.21v8.39h-39.21zM320.32 884.66h46.68v8.39h-46.68zM230.51 893.7h3.27v8.39h-3.27zM302.59 893.7h33.61v8.39h-33.61zM304.92 907.83h47.33v8.39h-47.33zM303.52 916.88h39.86v8.39h-39.86zM302.59 925.92h42.47v8.39h-42.47zM296.05 940.05h47.98v8.39h-47.98zM301.65 949.09h44.99v8.39h-44.99zM305.85 963.22h38.55v8.39h-38.55zM210.91 972.27h8.87v8.39h-8.87zM298.67 972.27h43.13v8.39h-43.13zM315.66 981.31h35.29v8.39h-35.29zM304.92 990.35h42.47v8.39h-42.47zM301 999.4h44.99v8.39h-44.99zM302.59 1008.44h44.81v8.39h-44.81zM313.04 1017.48h34.35v8.39h-34.35zM297.73 1031.61h39.11v8.39h-39.11zM213.89 1040.65h7.47v8.39h-7.47zM303.52 1040.65h35.01v8.39h-35.01zM319.39 1049.7h33.14v8.39h-33.14zM300.35 1058.74h42.38v8.39h-42.38zM296.05 1067.78h50.6v8.39h-50.6zM304.92 1076.83h39.49v8.39h-39.49zM310.8 1085.87h39.11v8.39h-39.11zM315.66 1094.91h34.26v8.39h-34.26zM314.07 1103.96h40.79v8.39h-40.79zM316.59 1113h37.34v8.39h-37.34zM314.07 1122.04h34.26v8.39h-34.26zM305.85 1131.08h35.94v8.39h-35.94zM307.53 1140.13h40.79v8.39h-40.79zM315.66 1154.26h32.67v8.39h-32.67zM318.92 1163.3h29.41v8.39h-29.41zM314.07 1172.34h27.72v8.39h-27.72zM293.81 1186.47h30.06v8.39h-30.06zM205.03 1200.61h20.26v8.39h-20.26zM309.12 1200.61h37.53v8.39h-37.53zM309.12 1209.65h38.27v8.39h-38.27zM314.07 1223.78h39.11v8.39h-39.11zM308.47 1232.82h46.39v8.39h-46.39zM317.34 1241.86h47.33v8.39h-47.33zM297.73 1256h52.18v8.39h-52.18zM298.67 1265.04h53.86v8.39h-53.86zM238.17 1279.17h2.8v8.39h-2.8zM297.73 1279.17h44.99v8.39h-44.99zM315.66 1293.3h27.72v8.39h-27.72zM331.99 1307.43h23.52v8.39h-23.52zM200.17 1316.47h3.92v8.39h-3.92zM304.92 1316.47h20.54v8.39h-20.54zM343.38 1330.6h14.75v8.39h-14.75zM319.39 1339.65h23.34v8.39h-23.34zM340.11 1353.78h19.6v8.39h-19.6zM339.18 1362.82h20.54v8.39h-20.54zM332.93 1371.86h26.14v8.39h-26.14zM329.38 1380.91h19.88v8.39h-19.88zM310.06 1389.95h15.4v8.39h-15.4zM347.39 1398.99h12.32v8.39h-12.32zM314.07 1413.12h21.19v8.39h-21.19zM322.19 1422.16h25.2v8.39h-25.2zM334.61 1436.3h17.64v8.39h-17.64zM351.6 1450.43h14.47v8.39h-14.47zM320.6 1464.56h32.58v8.39h-32.58zM316.59 1478.69h35.01v8.39h-35.01zM318.27 1492.82h32.67v8.39h-32.67zM341.79 1506.95h17.27v8.39h-17.27zM337.5 1521.08h23.9v8.39h-23.9zM330.31 1530.12h28.75v8.39h-28.75zM229.58 1539.16h8.59v8.39h-8.59zM338.53 1539.16h27.54v8.39h-27.54zM347.39 1548.21h17.27v8.39h-17.27zM335.91 1562.34h22.22v8.39h-22.22zM322.84 1571.38h33.61v8.39h-33.61zM317.99 1585.51h36.87v8.39h-36.87zM317.99 1594.55h34.54v8.39h-34.54zM317.99 1603.6h34.54v8.39h-34.54zM351.6 1617.73h13.54v8.39h-13.54zM299.32 1631.86h41.54v8.39h-41.54zM297.73 1640.9h40.79v8.39h-40.79zM339.18 1655.03h10.74v8.39h-10.74zM332.93 1664.08h15.4v8.39h-15.4zM336.85 1678.21h17.36v8.39h-17.36zM333.58 1687.25h20.63v8.39h-20.63zM296.05 1701.38h37.53v8.39h-37.53zM298.67 1715.51h30.06v8.39h-30.06zM328.73 1729.64h14.66v8.39h-14.66zM331.99 1738.68h7.19v8.39h-7.19zM242.55 1752.81h4.95v8.39h-4.95zM308.47 1752.81h29.03v8.39h-29.03zM188.69 1766.94h9.9v8.39h-9.9zM301.65 1766.94h42.38v8.39h-42.38zM365.13 1887.9h10.27v8.39h-10.27zM369.52 1896.94h3.27v8.39h-3.27zM368.87 1911.07h6.53v8.39h-6.53zM367 1929.16h5.13v8.39h-5.13zM369.52 1957.42h3.08v8.39h-3.08zM357.1 1966.46h9.9v8.39h-9.9zM365.13 1975.51h7.65v8.39h-7.65zM369.52 1984.55h4.01v8.39h-4.01z" fill="#6b8e23" stroke="#05050a" stroke-width="1"/>
<path d="M471.51 213.2h6.07v8.39h-6.07zM409.9 453.98h2.8v8.39h-2.8zM409.9 486.19h4.67v8.39h-4.67zM154.15 596.97h2.8v8.39h-2.8zM154.15 615.06h1.4v8.39h-1.4zM154.15 797.05h2.8v8.39h-2.8zM338.06 797.05h3.73v8.39h-3.73zM154.15 893.7h1.87v8.39h-1.87zM154.15 972.27h2.8v8.39h-2.8zM289.52 1738.68h3.27v8.39h-3.27zM239.38 1873.77h4.2v8.39h-4.2zM219.78 1911.07h3.27v8.39h-3.27zM235.08 1957.42h4.29v8.39h-4.29zM216.51 1966.46h5.79v8.39h-5.79zM334.33 1966.46h3.73v8.39h-3.73zM232.84 1975.51h4.2v8.39h-4.2zM237.04 1984.55h3.27v8.39h-3.27zM228.55 2012.81h4.29v8.39h-4.29zM360.74 2035.98h4.39v8.39h-4.39zM352.25 2077.24h5.23v8.39h-5.23zM353.18 2095.33h4.29v8.39h-4.29z" fill="#f2f2f2" stroke="#05050a" stroke-width="1"/>
<path d="M498.12 213.2h5.13v8.39h-5.13zM482.71 282.72h12.7v8.39h-12.7zM360.46 357.33h14.94v8.39h-14.94zM466.47 357.33h36.78v8.39h-36.78zM499.52 435.89h3.73v8.39h-3.73zM500.45 564.76h2.8v8.39h-2.8zM499.52 587.93h3.73v8.39h-3.73zM495.78 596.97h4.67v8.39h-4.67zM499.52 606.02h3.73v8.39h-3.73zM495.41 615.06h3.64v8.39h-3.64zM369.52 788.01h5.88v8.39h-5.88zM475.25 788.01h28v8.39h-28zM369.52 797.05h5.88v8.39h-5.88zM474.59 797.05h28.66v8.39h-28.66zM365.13 811.18h10.27v8.39h-10.27zM459.66 811.18h43.59v8.39h-43.59zM368.59 825.31h6.81v8.39h-6.81zM472.63 825.31h30.62v8.39h-30.62zM485.05 839.44h18.2v8.39h-18.2zM485.05 848.49h18.2v8.39h-18.2zM486.63 857.53h16.62v8.39h-16.62zM484.58 866.57h18.67v8.39h-18.67zM479.17 875.62h24.08v8.39h-24.08zM476.18 884.66h27.07v8.39h-27.07zM364.66 893.7h10.74v8.39h-10.74zM469.46 893.7h33.79v8.39h-33.79zM475.25 907.83h28v8.39h-28zM367 916.88h8.4v8.39h-8.4zM468.71 916.88h34.54v8.39h-34.54zM373.53 925.92h1.87v8.39h-1.87zM473.66 925.92h29.59v8.39h-29.59zM469.64 940.05h33.61v8.39h-33.61zM470.39 949.09h32.86v8.39h-32.86zM368.87 963.22h6.53v8.39h-6.53zM471.98 963.22h31.27v8.39h-31.27zM371.2 972.27h4.2v8.39h-4.2zM475.25 972.27h28v8.39h-28zM371.2 981.31h4.2v8.39h-4.2zM477.86 981.31h25.39v8.39h-25.39zM368.59 990.35h6.81v8.39h-6.81zM469.64 990.35h33.61v8.39h-33.61zM372.79 999.4h2.61v8.39h-2.61zM471.98 999.4h31.27v8.39h-31.27zM369.52 1008.44h5.88v8.39h-5.88zM471.98 1008.44h31.27v8.39h-31.27zM371.2 1017.48h4.2v8.39h-4.2zM477.86 1017.48h25.39v8.39h-25.39zM369.52 1031.61h5.88v8.39h-5.88zM470.39 1031.61h32.86v8.39h-32.86zM476.93 1040.65h26.32v8.39h-26.32zM484.58 1049.7h18.67v8.39h-18.67zM372.79 1058.74h2.61v8.39h-2.61zM471.98 1058.74h31.27v8.39h-31.27zM372.79 1067.78h2.61v8.39h-2.61zM467.12 1067.78h36.13v8.39h-36.13zM371.2 1076.83h4.2v8.39h-4.2zM473.66 1076.83h29.59v8.39h-29.59zM371.67 1085.87h3.73v8.39h-3.73zM478.51 1085.87h24.74v8.39h-24.74zM372.79 1094.91h2.61v8.39h-2.61zM483.37 1094.91h19.88v8.39h-19.88zM480.19 1103.96h23.06v8.39h-23.06zM480.19 1113h23.06v8.39h-23.06zM372.79 1122.04h2.61v8.39h-2.61zM478.51 1122.04h24.74v8.39h-24.74zM371.2 1131.08h4.2v8.39h-4.2zM475.25 1131.08h28v8.39h-28zM371.2 1140.13h4.2v8.39h-4.2zM480.19 1140.13h23.06v8.39h-23.06zM370.45 1154.26h4.95v8.39h-4.95zM480.19 1154.26h23.06v8.39h-23.06zM370.45 1163.3h4.95v8.39h-4.95zM481.78 1163.3h21.47v8.39h-21.47zM367.93 1172.34h7.47v8.39h-7.47zM473.66 1172.34h29.59v8.39h-29.59zM371.67 1186.47h3.73v8.39h-3.73zM480.19 1186.47h23.06v8.39h-23.06zM366.06 1200.61h9.33v8.39h-9.33zM470.39 1200.61h32.86v8.39h-32.86zM475.25 1209.65h28v8.39h-28zM368.87 1223.78h6.53v8.39h-6.53zM474.31 1223.78h28.94v8.39h-28.94zM369.52 1232.82h5.88v8.39h-5.88zM468.71 1232.82h34.54v8.39h-34.54zM481.78 1241.86h21.47v8.39h-21.47zM371.2 1256h4.2v8.39h-4.2zM463.86 1256h39.39v8.39h-39.39zM371.2 1265.04h4.2v8.39h-4.2zM461.62 1265.04h41.63v8.39h-41.63zM365.13 1279.17h10.27v8.39h-10.27zM461.62 1279.17h41.63v8.39h-41.63zM367 1293.3h8.4v8.39h-8.4zM473.66 1293.3h29.59v8.39h-29.59zM372.79 1307.43h2.61v8.39h-2.61zM488.31 1307.43h14.94v8.39h-14.94zM371.2 1316.47h4.2v8.39h-4.2zM488.31 1316.47h14.94v8.39h-14.94zM372.79 1330.6h2.61v8.39h-2.61zM490.93 1330.6h12.32v8.39h-12.32zM360.46 1339.65h13.07v8.39h-13.07zM478.51 1339.65h24.74v8.39h-24.74zM372.79 1353.78h2.61v8.39h-2.61zM490.93 1353.78h12.32v8.39h-12.32zM370.45 1362.82h4.95v8.39h-4.95zM491.58 1362.82h11.67v8.39h-11.67zM371.2 1371.86h4.2v8.39h-4.2zM486.63 1371.86h16.62v8.39h-16.62zM371.2 1380.91h4.2v8.39h-4.2zM483.37 1380.91h19.88v8.39h-19.88zM369.52 1389.95h5.88v8.39h-5.88zM485.98 1389.95h17.27v8.39h-17.27zM372.79 1398.99h2.61v8.39h-2.61zM494.85 1398.99h8.4v8.39h-8.4zM372.79 1413.12h2.61v8.39h-2.61zM485.05 1413.12h18.2v8.39h-18.2zM367 1422.16h8.4v8.39h-8.4zM475.25 1422.16h28v8.39h-28zM369.52 1436.3h5.88v8.39h-5.88zM488.31 1436.3h14.94v8.39h-14.94zM372.79 1450.43h2.61v8.39h-2.61zM491.58 1450.43h11.67v8.39h-11.67zM370.45 1464.56h4.95v8.39h-4.95zM478.51 1464.56h24.74v8.39h-24.74zM368.59 1478.69h6.81v8.39h-6.81zM476.93 1478.69h26.32v8.39h-26.32zM370.45 1492.82h4.95v8.39h-4.95zM479.54 1492.82h23.71v8.39h-23.71zM371.2 1506.95h4.2v8.39h-4.2zM488.31 1506.95h14.94v8.39h-14.94zM487.66 1521.08h15.59v8.39h-15.59zM487.66 1530.12h15.59v8.39h-15.59zM482.43 1539.16h20.82v8.39h-20.82zM487.66 1548.21h15.59v8.39h-15.59zM485.7 1562.34h17.55v8.39h-17.55zM484.39 1571.38h18.86v8.39h-18.86zM371.2 1585.51h4.2v8.39h-4.2zM484.39 1585.51h18.86v8.39h-18.86zM368.59 1594.55h6.81v8.39h-6.81zM476.18 1594.55h27.07v8.39h-27.07zM372.79 1603.6h2.61v8.39h-2.61zM483.37 1603.6h19.88v8.39h-19.88zM493.17 1617.73h10.08v8.39h-10.08zM365.13 1631.86h10.27v8.39h-10.27zM468.71 1631.86h34.54v8.39h-34.54zM372.79 1640.9h2.61v8.39h-2.61zM474.59 1640.9h28.66v8.39h-28.66zM372.79 1655.03h2.61v8.39h-2.61zM490.93 1655.03h12.32v8.39h-12.32zM372.79 1664.08h2.61v8.39h-2.61zM489.9 1664.08h13.35v8.39h-13.35zM373.53 1678.21h1.87v8.39h-1.87zM491.58 1678.21h11.67v8.39h-11.67zM373.53 1687.25h1.87v8.39h-1.87zM487.66 1687.25h15.59v8.39h-15.59zM333.58 1701.38h41.82v8.39h-41.82zM429.13 1701.38h74.12v8.39h-74.12zM328.73 1715.51h46.67v8.39h-46.67zM426.52 1715.51h76.73v8.39h-76.73zM343.38 1729.64h32.02v8.39h-32.02zM463.11 1729.64h40.14v8.39h-40.14zM339.18 1738.68h31.27v8.39h-31.27zM464.51 1738.68h38.74v8.39h-38.74zM337.5 1752.81h37.9v8.39h-37.9zM442.11 1752.81h61.14v8.39h-61.14zM362.98 1766.94h12.42v8.39h-12.42zM462.18 1766.94h41.07v8.39h-41.07zM496.44 1887.9h6.81v8.39h-6.81zM372.79 1896.94h2.61v8.39h-2.61zM501.38 1896.94h1.87v8.39h-1.87zM497.09 1911.07h6.16v8.39h-6.16zM501.38 1920.12h1.87v8.39h-1.87zM498.02 1929.16h5.23v8.39h-5.23zM500.64 1943.29h2.61v8.39h-2.61zM498.58 1957.42h4.67v8.39h-4.67zM371.2 1966.46h4.2v8.39h-4.2zM492.51 1966.46h10.74v8.39h-10.74zM497.09 1975.51h6.16v8.39h-6.16zM498.02 1984.55h5.23v8.39h-5.23zM371.2 2012.81h4.2v8.39h-4.2zM500.64 2012.81h2.61v8.39h-2.61zM371.67 2068.2h3.73v8.39h-3.73zM500.92 2109.46h2.33v8.39h-2.33zM372.79 2232.11h2.61v8.39h-2.61zM499.52 2232.11h3.73v8.39h-3.73zM372.79 2323.67h2.61v8.39h-2.61zM369.52 2364.93h5.88v8.39h-5.88z" fill="#ee6aa7" stroke="#05050a" stroke-width="1"/>
<path d="M282.05 250.5h93.35v8.39h-93.35zM409.9 250.5h93.35v8.39h-93.35zM282.05 259.55h93.35v8.39h-93.35zM409.9 259.55h93.35v8.39h-93.35zM282.05 268.59h93.35v8.39h-93.35zM409.9 268.59h93.35v8.39h-93.35zM369.8 1795.2h2.8v8.39h-2.8z" fill="#8b4789" stroke="#05050a" stroke-width="1"/>
<path d="M282.05 282.72h22.87v8.39h-22.87zM304.92 282.72h43.41v8.39h-43.41zM409.9 282.72h66.28v8.39h-66.28zM282.05 296.85h93.35v8.39h-93.35zM409.9 296.85h93.35v8.39h-93.35zM282.05 305.89h93.35v8.39h-93.35zM409.9 305.89h93.35v8.39h-93.35zM282.05 320.02h93.35v8.39h-93.35zM409.9 320.02h93.35v8.39h-93.35zM282.05 334.16h93.35v8.39h-93.35zM409.9 334.16h93.35v8.39h-93.35zM282.05 343.2h93.35v8.39h-93.35zM409.9 343.2h93.35v8.39h-93.35zM287.65 357.33h5.13v8.39h-5.13zM292.79 357.33h21.94v8.39h-21.94zM411.02 357.33h33.05v8.39h-33.05zM154.15 371.46h93.35v8.39h-93.35zM282.05 371.46h93.35v8.39h-93.35zM409.9 371.46h86.54v8.39h-86.54zM154.15 380.5h93.35v8.39h-93.35zM282.05 380.5h93.35v8.39h-93.35zM409.9 380.5h91.48v8.39h-91.48zM154.15 389.55h93.35v8.39h-93.35zM282.05 389.55h93.35v8.39h-93.35zM409.9 389.55h72.53v8.39h-72.53zM154.15 403.68h93.35v8.39h-93.35zM282.05 403.68h93.35v8.39h-93.35zM412.7 403.68h90.55v8.39h-90.55zM425.49 417.81h77.76v8.39h-77.76zM426.52 426.85h76.73v8.39h-76.73zM432.3 435.89h67.21v8.39h-67.21zM426.52 444.94h76.73v8.39h-76.73zM423.25 453.98h80v8.39h-80zM428.1 463.02h75.15v8.39h-75.15zM425.49 472.06h77.76v8.39h-77.76zM362.05 486.19h13.35v8.39h-13.35zM437.9 486.19h65.35v8.39h-65.35zM338.99 500.33h19.6v8.39h-19.6zM358.6 500.33h12.14v8.39h-12.14zM424.84 500.33h78.41v8.39h-78.41zM457.42 514.46h45.83v8.39h-45.83zM444.72 523.5h58.53v8.39h-58.53zM468.15 532.54h35.1v8.39h-35.1zM351.6 546.67h23.8v8.39h-23.8zM450.04 546.67h53.21v8.39h-53.21zM353.93 555.72h19.6v8.39h-19.6zM431.37 555.72h71.88v8.39h-71.88zM341.79 564.76h30.81v8.39h-30.81zM437.25 564.76h63.2v8.39h-63.2zM198.58 578.89h27.07v8.39h-27.07zM321.26 578.89h33.61v8.39h-33.61zM423.25 578.89h69.92v8.39h-69.92zM212.59 587.93h24.46v8.39h-24.46zM335.26 587.93h30.34v8.39h-30.34zM426.52 587.93h73v8.39h-73zM210.16 596.97h24.27v8.39h-24.27zM342.45 596.97h21.56v8.39h-21.56zM431.37 596.97h64.41v8.39h-64.41zM208.29 606.02h26.14v8.39h-26.14zM325.92 606.02h38.09v8.39h-38.09zM423.25 606.02h76.27v8.39h-76.27zM200.82 615.06h32.02v8.39h-32.02zM325.92 615.06h34.54v8.39h-34.54zM425.49 615.06h69.92v8.39h-69.92zM188.69 629.19h28.94v8.39h-28.94zM300.72 629.19h44.81v8.39h-44.81zM412.7 629.19h84.39v8.39h-84.39zM228.55 638.23h18.95v8.39h-18.95zM330.31 638.23h42.29v8.39h-42.29zM432.3 638.23h70.95v8.39h-70.95zM215.76 647.28h17.74v8.39h-17.74zM319.86 647.28h41.54v8.39h-41.54zM422.04 647.28h81.21v8.39h-81.21zM227.9 656.32h10.27v8.39h-10.27zM326.86 656.32h40.14v8.39h-40.14zM422.04 656.32h81.21v8.39h-81.21zM207.36 665.36h29.87v8.39h-29.87zM310.06 665.36h54.61v8.39h-54.61zM416.71 665.36h86.54v8.39h-86.54zM195.22 674.41h38.27v8.39h-38.27zM300.72 674.41h61.33v8.39h-61.33zM412.7 674.41h90.55v8.39h-90.55zM210.63 683.45h19.6v8.39h-19.6zM315 683.45h43.59v8.39h-43.59zM418.3 683.45h84.95v8.39h-84.95zM185.52 692.49h28.38v8.39h-28.38zM296.05 692.49h45.74v8.39h-45.74zM412.7 692.49h83.08v8.39h-83.08zM191.96 701.54h31.74v8.39h-31.74zM300.72 701.54h50.88v8.39h-50.88zM412.7 701.54h90.55v8.39h-90.55zM202.41 710.58h23.9v8.39h-23.9zM309.12 710.58h45.09v8.39h-45.09zM416.06 710.58h87.19v8.39h-87.19zM191.49 719.62h29.87v8.39h-29.87zM300.72 719.62h48.54v8.39h-48.54zM412.7 719.62h90.55v8.39h-90.55zM213.24 728.66h18.58v8.39h-18.58zM317.99 728.66h42.47v8.39h-42.47zM419.05 728.66h84.2v8.39h-84.2zM207.64 737.71h13.07v8.39h-13.07zM316.59 737.71h32.39v8.39h-32.39zM419.05 737.71h80.47v8.39h-80.47zM218.09 746.75h15.68v8.39h-15.68zM318.92 746.75h43.13v8.39h-43.13zM418.3 746.75h84.95v8.39h-84.95zM195.22 755.79h25.2v8.39h-25.2zM303.52 755.79h44.81v8.39h-44.81zM413.63 755.79h86.82v8.39h-86.82zM208.29 764.84h25.2v8.39h-25.2zM314.07 764.84h47.33v8.39h-47.33zM417.37 764.84h85.88v8.39h-85.88zM214.83 773.88h18.95v8.39h-18.95zM317.99 773.88h44.06v8.39h-44.06zM419.05 773.88h84.2v8.39h-84.2zM427.17 788.01h21.47v8.39h-21.47zM419.98 797.05h8.12v8.39h-8.12zM415.13 811.18h6.44v8.39h-6.44zM429.13 825.31h13.63v8.39h-13.63zM432.3 839.44h22.78v8.39h-22.78zM432.96 848.49h24.46v8.39h-24.46zM442.11 857.53h16.9v8.39h-16.9zM428.1 866.57h27.54v8.39h-27.54zM432.96 875.62h16.15v8.39h-16.15zM436.04 884.66h17.08v8.39h-17.08zM423.25 893.7h7.19v8.39h-7.19zM419.05 907.83h18.86v8.39h-18.86zM420.64 916.88h13.35v8.39h-13.35zM417.37 925.92h15.59v8.39h-15.59zM415.13 940.05h11.39v8.39h-11.39zM418.3 949.09h13.72v8.39h-13.72zM424.84 963.22h11.39v8.39h-11.39zM436.22 981.31h11.39v8.39h-11.39zM425.49 990.35h11.76v8.39h-11.76zM419.05 999.4h14.94v8.39h-14.94zM423.25 1008.44h14.66v8.39h-14.66zM428.1 1017.48h12.98v8.39h-12.98zM415.13 1031.61h9.71v8.39h-9.71zM418.3 1040.65h8.21v8.39h-8.21zM429.13 1049.7h19.98v8.39h-19.98zM416.71 1058.74h11.39v8.39h-11.39zM413.63 1067.78h5.6v8.39h-5.6zM421.57 1076.83h14v8.39h-14zM429.13 1085.87h11.95v8.39h-11.95zM426.52 1094.91h17.18v8.39h-17.18zM429.13 1103.96h15.31v8.39h-15.31zM431.37 1113h17.74v8.39h-17.74zM432.3 1122.04h15.31v8.39h-15.31zM428.1 1131.08h5.51v8.39h-5.51zM423.25 1140.13h9.71v8.39h-9.71zM432.3 1154.26h16.34v8.39h-16.34zM432.3 1163.3h16.8v8.39h-16.8zM429.5 1172.34h9.34v8.39h-9.34zM409.9 1186.47h9.15v8.39h-9.15zM176.37 1200.61h11.76v8.39h-11.76zM296.05 1200.61h13.07v8.39h-13.07zM419.05 1200.61h20.44v8.39h-20.44zM423.25 1209.65h12.32v8.39h-12.32zM310.06 1223.78h4.01v8.39h-4.01zM417.37 1223.78h28.66v8.39h-28.66zM303.52 1232.82h4.95v8.39h-4.95zM420.64 1232.82h19.88v8.39h-19.88zM185.52 1241.86h4.85v8.39h-4.85zM419.98 1241.86h35.1v8.39h-35.1zM416.71 1256h11.39v8.39h-11.39zM292.79 1265.04h5.88v8.39h-5.88zM413.63 1265.04h14.47v8.39h-14.47zM419.98 1279.17h6.53v8.39h-6.53zM450.97 1307.43h4.11v8.39h-4.11zM457.42 1330.6h4.2v8.39h-4.2zM428.1 1339.65h25.02v8.39h-25.02zM455.64 1353.78h4.95v8.39h-4.95zM451.53 1362.82h18.11v8.39h-18.11zM447.61 1371.86h12.98v8.39h-12.98zM441.08 1380.91h3.36v8.39h-3.36zM460.59 1398.99h8.12v8.39h-8.12zM426.52 1413.12h7.47v8.39h-7.47zM442.76 1436.3h9.71v8.39h-9.71zM433.98 1464.56h16.06v8.39h-16.06zM436.22 1478.69h11.39v8.39h-11.39zM431.37 1492.82h14.66v8.39h-14.66zM453.12 1506.95h8.49v8.39h-8.49zM444.44 1521.08h11.2v8.39h-11.2zM442.76 1530.12h12.88v8.39h-12.88zM450.97 1539.16h6.44v8.39h-6.44zM447.61 1562.34h8.03v8.39h-8.03zM436.22 1571.38h17.92v8.39h-17.92zM430.44 1585.51h24.64v8.39h-24.64zM433.61 1594.55h15.03v8.39h-15.03zM430.44 1603.6h22.03v8.39h-22.03zM463.86 1617.73h4.85v8.39h-4.85zM418.3 1631.86h13.07v8.39h-13.07zM416.71 1640.9h12.42v8.39h-12.42zM451.91 1655.03h3.73v8.39h-3.73zM450.97 1664.08h3.17v8.39h-3.17zM451.53 1678.21h6.91v8.39h-6.91zM450.97 1687.25h4.67v8.39h-4.67zM317.34 1729.64h11.39v8.39h-11.39zM438.56 1729.64h21.1v8.39h-21.1zM305.85 1738.68h21.94v8.39h-21.94zM426.52 1738.68h35.1v8.39h-35.1zM490.93 1873.77h3.92v8.39h-3.92zM497.09 2054.07h3.55v8.39h-3.55zM492.23 2077.24h7.28v8.39h-7.28zM481.13 2086.29h20.26v8.39h-20.26zM493.92 2095.33h6.72v8.39h-6.72zM495.78 2145.63h3.27v8.39h-3.27zM496.44 2163.72h3.08v8.39h-3.08zM496.44 2172.76h3.08v8.39h-3.08zM493.17 2181.8h6.35v8.39h-6.35zM493.92 2199.89h5.13v8.39h-5.13zM496.44 2208.93h3.08v8.39h-3.08zM479.54 2223.06h23.71v8.39h-23.71zM480.19 2232.11h19.32v8.39h-19.32zM481.78 2241.15h21.47v8.39h-21.47zM483.37 2250.19h19.88v8.39h-19.88zM483.37 2264.32h19.88v8.39h-19.88zM480.19 2273.36h23.06v8.39h-23.06zM483.37 2282.41h19.88v8.39h-19.88zM477.86 2291.45h25.39v8.39h-25.39zM481.78 2305.58h21.47v8.39h-21.47zM480.19 2314.62h23.06v8.39h-23.06zM481.13 2323.67h22.12v8.39h-22.12zM477.58 2332.71h25.67v8.39h-25.67zM481.13 2341.75h22.12v8.39h-22.12zM478.51 2350.8h24.74v8.39h-24.74zM463.2 2364.93h34.17v8.39h-34.17zM481.78 2379.06h21.47v8.39h-21.47zM481.13 2388.1h22.12v8.39h-22.12zM480.19 2397.14h23.06v8.39h-23.06zM480.19 2406.19h23.06v8.39h-23.06zM482.71 2415.23h20.54v8.39h-20.54zM474.31 2429.36h27.07v8.39h-27.07z" fill="#4a72e8" stroke="#05050a" stroke-width="1"/>
<path d="M365.13 282.72h10.27v8.39h-10.27zM495.41 282.72h7.84v8.39h-7.84zM496.44 371.46h6.81v8.39h-6.81zM501.38 380.5h1.87v8.39h-1.87zM482.43 389.55h20.82v8.39h-20.82zM243.3 1279.17h4.2v8.39h-4.2zM243.58 1339.65h3.92v8.39h-3.92zM370.45 1738.68h4.95v8.39h-4.95zM493.92 1929.16h4.11v8.39h-4.11z" fill="#cd1076" stroke="#05050a" stroke-width="1"/>
<path d="M476.18 282.72h6.53v8.39h-6.53zM450.97 357.33h15.5v8.39h-15.5zM493.17 578.89h10.08v8.39h-10.08zM500.45 596.97h2.8v8.39h-2.8zM499.05 615.06h4.2v8.39h-4.2zM498.58 629.19h4.67v8.39h-4.67zM497.65 692.49h5.6v8.39h-5.6zM499.52 737.71h3.73v8.39h-3.73zM500.45 755.79h2.8v8.39h-2.8zM448.64 788.01h26.6v8.39h-26.6zM445 797.05h29.59v8.39h-29.59zM433.61 811.18h26.04v8.39h-26.04zM451.91 825.31h20.72v8.39h-20.72zM459.66 839.44h25.39v8.39h-25.39zM460.03 848.49h25.02v8.39h-25.02zM465.54 857.53h21.1v8.39h-21.1zM459 866.57h25.58v8.39h-25.58zM452.47 875.62h26.7v8.39h-26.7zM453.12 884.66h23.06v8.39h-23.06zM446.03 893.7h23.43v8.39h-23.43zM443.69 907.83h31.55v8.39h-31.55zM442.76 916.88h25.95v8.39h-25.95zM442.76 925.92h30.9v8.39h-30.9zM436.97 940.05h32.67v8.39h-32.67zM441.08 949.09h29.31v8.39h-29.31zM444.44 963.22h27.54v8.39h-27.54zM446.03 972.27h29.22v8.39h-29.22zM454.15 981.31h23.71v8.39h-23.71zM442.76 990.35h26.88v8.39h-26.88zM442.76 999.4h29.22v8.39h-29.22zM442.76 1008.44h29.22v8.39h-29.22zM452.47 1017.48h25.39v8.39h-25.39zM439.49 1031.61h30.9v8.39h-30.9zM447.61 1040.65h29.31v8.39h-29.31zM459 1049.7h25.58v8.39h-25.58zM439.49 1058.74h32.49v8.39h-32.49zM435.57 1067.78h31.55v8.39h-31.55zM444.44 1076.83h29.22v8.39h-29.22zM452.47 1085.87h26.04v8.39h-26.04zM459 1094.91h24.36v8.39h-24.36zM454.15 1103.96h26.04v8.39h-26.04zM454.15 1113h26.04v8.39h-26.04zM454.15 1122.04h24.36v8.39h-24.36zM447.61 1131.08h27.63v8.39h-27.63zM452.47 1140.13h27.72v8.39h-27.72zM454.15 1154.26h26.04v8.39h-26.04zM460.59 1163.3h21.19v8.39h-21.19zM455.08 1172.34h18.58v8.39h-18.58zM450.04 1186.47h30.15v8.39h-30.15zM447.61 1200.61h22.78v8.39h-22.78zM447.61 1209.65h27.63v8.39h-27.63zM452.47 1223.78h21.84v8.39h-21.84zM445 1232.82h23.71v8.39h-23.71zM455.08 1241.86h26.7v8.39h-26.7zM440.52 1256h23.34v8.39h-23.34zM437.9 1265.04h23.71v8.39h-23.71zM439.49 1279.17h22.12v8.39h-22.12zM459 1293.3h14.66v8.39h-14.66zM470.39 1307.43h17.92v8.39h-17.92zM468.71 1316.47h19.6v8.39h-19.6zM483.37 1330.6h7.56v8.39h-7.56zM462.18 1339.65h16.34v8.39h-16.34zM476.93 1353.78h14v8.39h-14zM474.31 1362.82h17.27v8.39h-17.27zM471.98 1371.86h14.66v8.39h-14.66zM473 1380.91h10.36v8.39h-10.36zM465.54 1389.95h20.44v8.39h-20.44zM484.39 1398.99h10.46v8.39h-10.46zM463.86 1413.12h21.19v8.39h-21.19zM468.71 1422.16h6.53v8.39h-6.53zM474.59 1436.3h13.72v8.39h-13.72zM485.05 1450.43h6.53v8.39h-6.53zM459 1464.56h19.51v8.39h-19.51zM455.64 1478.69h21.28v8.39h-21.28zM459 1492.82h20.54v8.39h-20.54zM480.19 1506.95h8.12v8.39h-8.12zM473 1521.08h14.66v8.39h-14.66zM467.12 1530.12h20.54v8.39h-20.54zM468.15 1539.16h14.28v8.39h-14.28zM479.54 1548.21h8.12v8.39h-8.12zM473.66 1562.34h12.04v8.39h-12.04zM459 1571.38h25.39v8.39h-25.39zM460.59 1585.51h23.8v8.39h-23.8zM455.08 1594.55h21.1v8.39h-21.1zM459 1603.6h24.36v8.39h-24.36zM489.9 1617.73h3.27v8.39h-3.27zM437.9 1631.86h30.81v8.39h-30.81zM345.06 1640.9h4.85v8.39h-4.85zM442.76 1640.9h31.83v8.39h-31.83zM481.78 1655.03h9.15v8.39h-9.15zM474.59 1664.08h15.31v8.39h-15.31zM476.18 1678.21h15.4v8.39h-15.4zM476.93 1687.25h10.74v8.39h-10.74zM426.52 1701.38h2.61v8.39h-2.61zM459.66 1729.64h3.45v8.39h-3.45zM434.64 1752.81h7.47v8.39h-7.47zM438.84 1766.94h23.34v8.39h-23.34zM487.66 1966.46h4.85v8.39h-4.85zM497.37 2364.93h3.55v8.39h-3.55z" fill="#ffb92c" stroke="#05050a" stroke-width="1"/>
<path d="M345.06 357.33h7.47v8.39h-7.47zM345.06 811.18h6.53v8.39h-6.53zM348.98 825.31h11.48v8.39h-11.48zM354.86 839.44h6.53v8.39h-6.53zM357.48 857.53h6.53v8.39h-6.53zM356.45 866.57h5.6v8.39h-5.6zM357.48 875.62h3.92v8.39h-3.92zM336.19 893.7h11.2v8.39h-11.2zM352.25 907.83h7.47v8.39h-7.47zM343.38 916.88h8.21v8.39h-8.21zM345.06 925.92h4.85v8.39h-4.85zM344.03 940.05h10.83v8.39h-10.83zM346.65 949.09h8.87v8.39h-8.87zM344.41 963.22h6.53v8.39h-6.53zM341.79 972.27h3.27v8.39h-3.27zM350.94 981.31h6.53v8.39h-6.53zM347.39 990.35h7.47v8.39h-7.47zM345.99 999.4h8.87v8.39h-8.87zM347.39 1008.44h6.53v8.39h-6.53zM347.39 1017.48h5.13v8.39h-5.13zM336.85 1031.61h6.53v8.39h-6.53zM338.53 1040.65h6.53v8.39h-6.53zM352.53 1049.7h2.99v8.39h-2.99zM342.73 1058.74h7.19v8.39h-7.19zM346.65 1067.78h9.15v8.39h-9.15zM344.41 1076.83h7.19v8.39h-7.19zM349.92 1085.87h5.6v8.39h-5.6zM349.92 1094.91h5.6v8.39h-5.6zM353.93 1113h4.85v8.39h-4.85zM348.33 1122.04h5.6v8.39h-5.6zM341.79 1131.08h8.12v8.39h-8.12zM348.33 1140.13h4.85v8.39h-4.85zM348.33 1154.26h4.85v8.39h-4.85zM348.33 1163.3h5.6v8.39h-5.6zM341.79 1172.34h8.12v8.39h-8.12zM323.87 1186.47h5.51v8.39h-5.51zM347.39 1209.65h5.13v8.39h-5.13zM353.18 1223.78h7.28v8.39h-7.28zM354.86 1232.82h7.19v8.39h-7.19zM349.92 1256h14.1v8.39h-14.1zM352.53 1265.04h11.48v8.39h-11.48zM342.73 1279.17h14.75v8.39h-14.75zM343.38 1293.3h9.15v8.39h-9.15zM358.13 1330.6h3.27v8.39h-3.27zM325.46 1389.95h4.2v8.39h-4.2zM335.26 1413.12h7.47v8.39h-7.47zM347.39 1422.16h5.79v8.39h-5.79zM353.18 1464.56h4.29v8.39h-4.29zM351.6 1478.69h4.2v8.39h-4.2zM350.94 1492.82h3.92v8.39h-3.92zM359.06 1506.95h3.92v8.39h-3.92zM354.86 1585.51h3.92v8.39h-3.92zM352.53 1594.55h3.92v8.39h-3.92zM352.53 1603.6h7.93v8.39h-7.93zM340.86 1631.86h6.53v8.39h-6.53zM338.53 1640.9h6.53v8.39h-6.53zM349.92 1655.03h5.88v8.39h-5.88zM348.33 1664.08h4.85v8.39h-4.85zM354.21 1678.21h3.92v8.39h-3.92zM354.21 1687.25h3.92v8.39h-3.92z" fill="#cdba96" stroke="#05050a" stroke-width="1"/>
<path d="M444.07 357.33h6.91v8.39h-6.91zM428.1 797.05h16.9v8.39h-16.9zM421.57 811.18h12.04v8.39h-12.04zM442.76 825.31h9.15v8.39h-9.15zM455.08 839.44h4.57v8.39h-4.57zM457.42 848.49h2.61v8.39h-2.61zM459 857.53h6.53v8.39h-6.53zM455.64 866.57h3.36v8.39h-3.36zM449.11 875.62h3.36v8.39h-3.36zM434.64 893.7h11.39v8.39h-11.39zM437.9 907.83h5.79v8.39h-5.79zM433.98 916.88h8.77v8.39h-8.77zM432.96 925.92h9.8v8.39h-9.8zM426.52 940.05h10.46v8.39h-10.46zM432.02 949.09h9.05v8.39h-9.05zM436.22 963.22h8.21v8.39h-8.21zM428.1 972.27h17.92v8.39h-17.92zM447.61 981.31h6.53v8.39h-6.53zM437.25 990.35h5.51v8.39h-5.51zM433.98 999.4h8.77v8.39h-8.77zM437.9 1008.44h4.85v8.39h-4.85zM448.17 1017.48h4.29v8.39h-4.29zM429.5 1031.61h6.07v8.39h-6.07zM437.9 1040.65h9.71v8.39h-9.71zM455.64 1049.7h3.36v8.39h-3.36zM432.3 1058.74h7.19v8.39h-7.19zM422.6 1067.78h12.98v8.39h-12.98zM435.57 1076.83h8.87v8.39h-8.87zM446.03 1085.87h6.44v8.39h-6.44zM454.15 1094.91h4.85v8.39h-4.85zM444.44 1103.96h9.71v8.39h-9.71zM449.11 1113h5.04v8.39h-5.04zM447.61 1122.04h6.53v8.39h-6.53zM439.49 1131.08h8.12v8.39h-8.12zM441.08 1140.13h11.39v8.39h-11.39zM448.64 1154.26h5.51v8.39h-5.51zM454.15 1163.3h6.44v8.39h-6.44zM446.96 1172.34h8.12v8.39h-8.12zM429.5 1186.47h14.94v8.39h-14.94zM442.76 1209.65h4.85v8.39h-4.85zM446.03 1223.78h6.44v8.39h-6.44zM440.52 1232.82h4.48v8.39h-4.48zM428.1 1256h12.42v8.39h-12.42zM428.1 1265.04h9.8v8.39h-9.8zM426.52 1279.17h12.98v8.39h-12.98zM443.51 1293.3h15.5v8.39h-15.5zM436.22 1316.47h32.49v8.39h-32.49zM457.42 1339.65h4.76v8.39h-4.76zM473 1353.78h3.92v8.39h-3.92zM467.12 1371.86h4.85v8.39h-4.85zM463.86 1380.91h9.15v8.39h-9.15zM444.44 1389.95h21.1v8.39h-21.1zM478.51 1398.99h5.88v8.39h-5.88zM452.47 1413.12h11.39v8.39h-11.39zM455.64 1422.16h13.07v8.39h-13.07zM469.64 1436.3h4.95v8.39h-4.95zM454.71 1464.56h4.29v8.39h-4.29zM454.15 1492.82h4.85v8.39h-4.85zM475.25 1506.95h4.95v8.39h-4.95zM455.08 1585.51h5.51v8.39h-5.51zM451.91 1594.55h3.17v8.39h-3.17zM452.47 1603.6h6.53v8.39h-6.53zM431.37 1631.86h6.53v8.39h-6.53zM429.13 1640.9h9.71v8.39h-9.71zM475.9 1655.03h5.88v8.39h-5.88zM468.15 1664.08h6.44v8.39h-6.44zM471.51 1678.21h4.67v8.39h-4.67zM471.98 1687.25h4.95v8.39h-4.95zM423.25 1701.38h3.27v8.39h-3.27zM237.7 1766.94h3.27v8.39h-3.27zM427.17 1766.94h11.67v8.39h-11.67z" fill="#8b7355" stroke="#05050a" stroke-width="1"/>
<path d="M154.15 417.81h93.35v8.39h-93.35zM282.05 417.81h93.35v8.39h-93.35zM154.15 426.85h93.35v8.39h-93.35zM282.05 426.85h93.35v8.39h-93.35zM154.15 435.89h93.35v8.39h-93.35zM282.05 435.89h93.35v8.39h-93.35zM154.15 444.94h93.35v8.39h-93.35zM282.05 444.94h93.35v8.39h-93.35zM154.15 453.98h93.35v8.39h-93.35zM282.05 453.98h93.35v8.39h-93.35zM154.15 463.02h93.35v8.39h-93.35zM282.05 463.02h93.35v8.39h-93.35zM154.15 472.06h93.35v8.39h-93.35zM282.05 472.06h93.35v8.39h-93.35zM295.12 486.19h66.93v8.39h-66.93zM290.17 500.33h48.82v8.39h-48.82zM303.52 555.72h50.41v8.39h-50.41zM311.46 564.76h30.34v8.39h-30.34zM316.59 578.89h4.67v8.39h-4.67zM326.11 587.93h9.15v8.39h-9.15zM325.92 596.97h16.52v8.39h-16.52zM315.66 615.06h10.27v8.39h-10.27z" fill="#3d62cf" stroke="#05050a" stroke-width="1"/>
<path d="M409.9 417.81h15.59v8.39h-15.59zM409.9 426.85h16.62v8.39h-16.62zM415.13 435.89h17.18v8.39h-17.18zM409.9 444.94h16.62v8.39h-16.62zM412.7 453.98h10.55v8.39h-10.55zM414.57 463.02h13.54v8.39h-13.54zM409.9 472.06h15.59v8.39h-15.59zM282.05 486.19h13.07v8.39h-13.07zM414.57 486.19h23.34v8.39h-23.34zM282.05 500.33h8.12v8.39h-8.12zM412.51 500.33h12.32v8.39h-12.32zM422.6 514.46h34.82v8.39h-34.82zM417.37 523.5h27.35v8.39h-27.35zM429.13 532.54h39.02v8.39h-39.02zM417.37 546.67h32.67v8.39h-32.67zM409.9 555.72h21.47v8.39h-21.47zM282.05 564.76h9.15v8.39h-9.15zM414.57 564.76h22.68v8.39h-22.68zM416.06 578.89h7.19v8.39h-7.19zM419.98 587.93h6.53v8.39h-6.53zM282.05 596.97h4.67v8.39h-4.67zM412.7 596.97h18.67v8.39h-18.67zM418.3 606.02h4.95v8.39h-4.95zM282.05 615.06h5.88v8.39h-5.88zM414.57 615.06h10.92v8.39h-10.92zM417.37 638.23h14.94v8.39h-14.94zM419.05 647.28h2.99v8.39h-2.99zM423.9 825.31h5.23v8.39h-5.23zM299.32 857.53h4.2v8.39h-4.2zM432.96 857.53h9.15v8.39h-9.15zM423.9 866.57h4.2v8.39h-4.2zM430.44 875.62h2.52v8.39h-2.52zM429.5 884.66h6.53v8.39h-6.53zM286.25 893.7h5.6v8.39h-5.6zM416.06 893.7h7.19v8.39h-7.19zM286.25 916.88h5.6v8.39h-5.6zM415.13 916.88h5.51v8.39h-5.51zM285.78 925.92h3.73v8.39h-3.73zM413.63 925.92h3.73v8.39h-3.73zM287.28 949.09h2.89v8.39h-2.89zM413.63 949.09h4.67v8.39h-4.67zM287.93 963.22h4.2v8.39h-4.2zM419.23 963.22h5.6v8.39h-5.6zM161.99 972.27h3.36v8.39h-3.36zM282.05 972.27h5.88v8.39h-5.88zM415.13 972.27h8.12v8.39h-8.12zM421.57 990.35h3.92v8.39h-3.92zM419.98 1008.44h3.27v8.39h-3.27zM289.52 1031.61h3.27v8.39h-3.27zM435.57 1031.61h3.92v8.39h-3.92zM282.05 1040.65h7.47v8.39h-7.47zM413.63 1040.65h4.67v8.39h-4.67zM289.52 1058.74h4.95v8.39h-4.95zM428.1 1058.74h4.2v8.39h-4.2zM160.03 1067.78h2.52v8.39h-2.52zM419.23 1067.78h3.36v8.39h-3.36zM286.25 1076.83h5.6v8.39h-5.6zM415.13 1076.83h6.44v8.39h-6.44zM288.86 1085.87h3.92v8.39h-3.92zM421.57 1085.87h7.56v8.39h-7.56zM291.85 1103.96h4.2v8.39h-4.2zM424.84 1103.96h4.29v8.39h-4.29zM428.1 1122.04h4.2v8.39h-4.2zM287.28 1131.08h4.57v8.39h-4.57zM419.98 1131.08h8.12v8.39h-8.12zM437.9 1140.13h3.17v8.39h-3.17zM428.1 1154.26h4.2v8.39h-4.2zM428.1 1163.3h4.2v8.39h-4.2zM296.05 1172.34h4.29v8.39h-4.29zM423.25 1172.34h6.25v8.39h-6.25zM156.95 1200.61h5.04v8.39h-5.04zM284.85 1200.61h7v8.39h-7zM413.63 1200.61h5.41v8.39h-5.41zM283.92 1209.65h8.87v8.39h-8.87zM416.06 1209.65h7.19v8.39h-7.19zM414.57 1223.78h2.8v8.39h-2.8zM416.06 1232.82h4.57v8.39h-4.57zM154.15 1265.04h2.8v8.39h-2.8zM156.02 1279.17h4.95v8.39h-4.95zM282.05 1279.17h6.53v8.39h-6.53zM412.7 1279.17h7.28v8.39h-7.28zM302.59 1293.3h3.92v8.39h-3.92zM431.37 1293.3h8.77v8.39h-8.77zM316.59 1307.43h3.27v8.39h-3.27zM441.08 1307.43h9.9v8.39h-9.9zM180.57 1316.47h8.12v8.39h-8.12zM423.25 1316.47h3.27v8.39h-3.27zM200.82 1330.6h6.53v8.39h-6.53zM313.42 1330.6h5.97v8.39h-5.97zM443.69 1330.6h13.72v8.39h-13.72zM423.9 1339.65h4.2v8.39h-4.2zM201.76 1353.78h3.92v8.39h-3.92zM446.03 1353.78h9.62v8.39h-9.62zM182.9 1362.82h6.72v8.39h-6.72zM305.85 1362.82h7.56v8.39h-7.56zM436.22 1362.82h15.31v8.39h-15.31zM177.3 1371.86h9.8v8.39h-9.8zM295.12 1371.86h13.07v8.39h-13.07zM427.45 1371.86h20.16v8.39h-20.16zM301 1380.91h3.27v8.39h-3.27zM433.61 1380.91h7.47v8.39h-7.47zM199.52 1398.99h7.84v8.39h-7.84zM319.39 1398.99h5.41v8.39h-5.41zM446.96 1398.99h13.63v8.39h-13.63zM171.89 1413.12h8.03v8.39h-8.03zM290.17 1413.12h8.49v8.39h-8.49zM416.06 1413.12h10.46v8.39h-10.46zM434.64 1436.3h8.12v8.39h-8.12zM212.21 1450.43h5.88v8.39h-5.88zM323.87 1450.43h3.92v8.39h-3.92zM452.47 1450.43h8.12v8.39h-8.12zM428.1 1464.56h5.88v8.39h-5.88zM428.1 1478.69h8.12v8.39h-8.12zM292.79 1492.82h3.27v8.39h-3.27zM424.18 1492.82h7.19v8.39h-7.19zM195.88 1506.95h7.56v8.39h-7.56zM442.11 1506.95h11.02v8.39h-11.02zM193.64 1521.08h3.27v8.39h-3.27zM439.49 1521.08h4.95v8.39h-4.95zM189.62 1530.12h4.01v8.39h-4.01zM437.9 1530.12h4.85v8.39h-4.85zM188.13 1539.16h7.75v8.39h-7.75zM303.52 1539.16h11.2v8.39h-11.2zM435.57 1539.16h15.4v8.39h-15.4zM201.11 1548.21h9.05v8.39h-9.05zM314.72 1548.21h9.15v8.39h-9.15zM442.76 1548.21h15.68v8.39h-15.68zM439.49 1562.34h8.12v8.39h-8.12zM174.03 1571.38h5.88v8.39h-5.88zM297.73 1571.38h4.85v8.39h-4.85zM428.1 1571.38h8.12v8.39h-8.12zM169.09 1594.55h6.53v8.39h-6.53zM292.79 1594.55h4.95v8.39h-4.95zM423.25 1594.55h10.36v8.39h-10.36zM421.57 1603.6h8.87v8.39h-8.87zM198.58 1617.73h14.66v8.39h-14.66zM308.47 1617.73h14.38v8.39h-14.38zM439.49 1617.73h24.36v8.39h-24.36zM412.7 1631.86h5.6v8.39h-5.6zM287.28 1640.9h3.92v8.39h-3.92zM412.7 1640.9h4.01v8.39h-4.01zM201.76 1655.03h3.92v8.39h-3.92zM444.44 1655.03h7.47v8.39h-7.47zM196.16 1664.08h5.6v8.39h-5.6zM441.08 1664.08h9.9v8.39h-9.9zM190.37 1678.21h8.21v8.39h-8.21zM309.77 1678.21h8.21v8.39h-8.21zM438.84 1678.21h12.7v8.39h-12.7zM197.56 1687.25h4.2v8.39h-4.2zM441.08 1687.25h9.9v8.39h-9.9zM291.85 1701.38h4.2v8.39h-4.2zM417.37 1701.38h5.88v8.39h-5.88zM294.47 1715.51h4.2v8.39h-4.2zM418.3 1715.51h8.21v8.39h-8.21zM296.05 1729.64h8.87v8.39h-8.87zM424.84 1729.64h13.72v8.39h-13.72zM421.57 1738.68h4.95v8.39h-4.95zM296.05 1752.81h5.88v8.39h-5.88zM420.64 1752.81h14v8.39h-14zM291.85 1766.94h4.85v8.39h-4.85zM419.05 1766.94h8.12v8.39h-8.12zM282.05 1781.07h93.35v8.39h-93.35zM409.9 1781.07h93.35v8.39h-93.35zM154.15 1795.2h93.35v8.39h-93.35zM298.67 1795.2h68.33v8.39h-68.33zM422.22 1795.2h74.87v8.39h-74.87zM154.15 1804.25h93.35v8.39h-93.35zM298.39 1804.25h75.15v8.39h-75.15zM421.57 1804.25h81.68v8.39h-81.68zM154.15 1818.38h93.35v8.39h-93.35zM315.66 1818.38h52.93v8.39h-52.93zM432.02 1818.38h65.06v8.39h-65.06zM234.43 1873.77h4.95v8.39h-4.95zM477.86 1873.77h13.07v8.39h-13.07zM474.59 1887.9h4.95v8.39h-4.95zM235.08 1896.94h5.23v8.39h-5.23zM477.58 1896.94h8.4v8.39h-8.4zM223.04 1911.07h12.04v8.39h-12.04zM338.53 1911.07h8.87v8.39h-8.87zM465.54 1911.07h22.78v8.39h-22.78zM238.17 1920.12h7.75v8.39h-7.75zM352.25 1920.12h4.85v8.39h-4.85zM484.39 1920.12h9.52v8.39h-9.52zM226.31 1929.16h9.8v8.39h-9.8zM348.33 1929.16h4.85v8.39h-4.85zM472.63 1929.16h14v8.39h-14zM237.04 1943.29h4.57v8.39h-4.57zM485.05 1943.29h11.39v8.39h-11.39zM231.16 1957.42h3.92v8.39h-3.92zM480.19 1957.42h13.72v8.39h-13.72zM222.3 1966.46h9.52v8.39h-9.52zM461.62 1966.46h11.39v8.39h-11.39zM227.9 1975.51h4.95v8.39h-4.95zM471.42 1975.51h9.71v8.39h-9.71zM232.84 1984.55h4.2v8.39h-4.2zM476.93 1984.55h11.39v8.39h-11.39zM223.04 2012.81h5.51v8.39h-5.51zM232.84 2012.81h7.47v8.39h-7.47zM341.79 2012.81h9.8v8.39h-9.8zM464.88 2012.81h25.67v8.39h-25.67zM470.39 2026.94h28.19v8.39h-28.19zM467.12 2035.98h31.46v8.39h-31.46zM471.42 2045.03h26.6v8.39h-26.6zM468.71 2054.07h28.38v8.39h-28.38zM464.88 2068.2h33.14v8.39h-33.14zM454.15 2077.24h38.09v8.39h-38.09zM323.12 2086.29h11.48v8.39h-11.48zM435.57 2086.29h45.55v8.39h-45.55zM460.59 2095.33h33.33v8.39h-33.33zM467.12 2109.46h31.46v8.39h-31.46zM458.44 2118.5h39.58v8.39h-39.58zM458.07 2127.54h39.02v8.39h-39.02zM462.92 2136.59h34.17v8.39h-34.17zM459 2145.63h36.78v8.39h-36.78zM461.62 2154.67h36.41v8.39h-36.41zM456.39 2163.72h40.05v8.39h-40.05zM452.47 2172.76h43.97v8.39h-43.97zM454.15 2181.8h39.02v8.39h-39.02zM460.03 2190.85h38.55v8.39h-38.55zM458.44 2199.89h35.47v8.39h-35.47zM451.53 2208.93h44.9v8.39h-44.9zM443.41 2223.06h36.13v8.39h-36.13zM314.72 2232.11h11.39v8.39h-11.39zM436.97 2232.11h43.22v8.39h-43.22zM322.19 2241.15h4.95v8.39h-4.95zM445.37 2241.15h36.41v8.39h-36.41zM319.86 2250.19h9.52v8.39h-9.52zM438.84 2250.19h44.53v8.39h-44.53zM441.73 2264.32h41.63v8.39h-41.63zM439.49 2273.36h40.7v8.39h-40.7zM443.41 2282.41h39.95v8.39h-39.95zM434.64 2291.45h43.22v8.39h-43.22zM441.08 2305.58h40.7v8.39h-40.7zM443.69 2314.62h36.5v8.39h-36.5zM443.69 2323.67h37.43v8.39h-37.43zM436.22 2332.71h41.35v8.39h-41.35zM447.61 2341.75h33.51v8.39h-33.51zM439.49 2350.8h39.02v8.39h-39.02zM436.97 2364.93h26.23v8.39h-26.23zM445 2379.06h36.78v8.39h-36.78zM439.49 2388.1h41.63v8.39h-41.63zM445 2397.14h35.19v8.39h-35.19zM443.41 2406.19h36.78v8.39h-36.78zM452.47 2415.23h30.25v8.39h-30.25zM442.76 2429.36h31.55v8.39h-31.55z" fill="#b0c4de" stroke="#05050a" stroke-width="1"/>
<path d="M225.66 578.89h7.19v8.39h-7.19zM234.43 596.97h8.12v8.39h-8.12zM232.84 615.06h6.25v8.39h-6.25zM189.62 788.01h54.61v8.39h-54.61zM174.03 797.05h50.6v8.39h-50.6zM173.38 811.18h61.7v8.39h-61.7zM187.1 825.31h58.81v8.39h-58.81zM193.64 839.44h47.33v8.39h-47.33zM194.57 848.49h52v8.39h-52zM200.17 857.53h41.73v8.39h-41.73zM193.64 866.57h47.98v8.39h-47.98zM191.96 875.62h49.66v8.39h-49.66zM196.9 884.66h49.01v8.39h-49.01zM179.91 893.7h50.6v8.39h-50.6zM180.57 907.83h57.13v8.39h-57.13zM176.55 916.88h57.88v8.39h-57.88zM175.62 925.92h56.2v8.39h-56.2zM170.02 940.05h62.82v8.39h-62.82zM175.06 949.09h58.72v8.39h-58.72zM182.16 963.22h52.28v8.39h-52.28zM172.45 972.27h38.46v8.39h-38.46zM192.98 981.31h44.71v8.39h-44.71zM182.16 990.35h55.54v8.39h-55.54zM173.1 999.4h59.74v8.39h-59.74zM182.16 1008.44h56.01v8.39h-56.01zM188.69 1017.48h46.39v8.39h-46.39zM175.62 1031.61h49.01v8.39h-49.01zM178.98 1040.65h34.91v8.39h-34.91zM192.7 1049.7h42.38v8.39h-42.38zM176.37 1058.74h51.53v8.39h-51.53zM169.83 1067.78h63.01v8.39h-63.01zM178.98 1076.83h51.25v8.39h-51.25zM186.45 1085.87h48.64v8.39h-48.64zM191.96 1094.91h44.15v8.39h-44.15zM187.1 1103.96h51.06v8.39h-51.06zM193.64 1113h44.06v8.39h-44.06zM190.37 1122.04h46.39v8.39h-46.39zM179.91 1131.08h50.32v8.39h-50.32zM182.16 1140.13h49.01v8.39h-49.01zM192.7 1154.26h42.38v8.39h-42.38zM195.88 1163.3h39.21v8.39h-39.21zM192.7 1172.34h36.87v8.39h-36.87zM167.5 1186.47h42.66v8.39h-42.66zM188.13 1200.61h16.9v8.39h-16.9zM182.16 1209.65h49.01v8.39h-49.01zM193.64 1223.78h49.94v8.39h-49.94zM182.9 1232.82h63.01v8.39h-63.01zM190.37 1241.86h54.8v8.39h-54.8zM173.38 1256h72.53v8.39h-72.53zM172.45 1265.04h73.47v8.39h-73.47zM171.89 1279.17h66.28v8.39h-66.28zM206.71 1293.3h27.07v8.39h-27.07zM210.16 1307.43h19.42v8.39h-19.42zM188.69 1316.47h11.48v8.39h-11.48zM219.78 1330.6h16.34v8.39h-16.34zM200.17 1339.65h31.65v8.39h-31.65zM216.51 1353.78h17.27v8.39h-17.27zM219.78 1362.82h19.6v8.39h-19.6zM211.56 1371.86h27.82v8.39h-27.82zM208.29 1380.91h21.28v8.39h-21.28zM189.62 1389.95h17.08v8.39h-17.08zM223.98 1398.99h12.14v8.39h-12.14zM191.49 1413.12h26.6v8.39h-26.6zM219.78 1422.16h14.66v8.39h-14.66zM210.63 1436.3h14.66v8.39h-14.66zM221.36 1450.43h13.72v8.39h-13.72zM196.9 1464.56h42.47v8.39h-42.47zM195.88 1478.69h40.23v8.39h-40.23zM197.84 1492.82h37.25v8.39h-37.25zM218.09 1506.95h22.87v8.39h-22.87zM212.59 1521.08h20.26v8.39h-20.26zM205.68 1530.12h29.41v8.39h-29.41zM212.21 1539.16h17.36v8.39h-17.36zM221.36 1548.21h13.72v8.39h-13.72zM211.56 1562.34h22.87v8.39h-22.87zM198.58 1571.38h34.26v8.39h-34.26zM196.9 1585.51h42.47v8.39h-42.47zM196.9 1594.55h43.41v8.39h-43.41zM192.98 1603.6h47.33v8.39h-47.33zM229.58 1617.73h10.46v8.39h-10.46zM178.42 1631.86h56.01v8.39h-56.01zM171.89 1640.9h55.36v8.39h-55.36zM213.89 1655.03h16.34v8.39h-16.34zM210.16 1664.08h16.8v8.39h-16.8zM213.24 1678.21h17.92v8.39h-17.92zM213.24 1687.25h17.92v8.39h-17.92zM198.58 1766.94h39.11v8.39h-39.11zM240.03 1887.9h5.88v8.39h-5.88zM244.23 1911.07h3.27v8.39h-3.27zM240.31 1929.16h3.27v8.39h-3.27zM231.82 1966.46h9.15v8.39h-9.15zM240.31 1975.51h3.92v8.39h-3.92z" fill="#b3ee3a" stroke="#05050a" stroke-width="1"/>
<path d="M154.15 788.01h5.88v8.39h-5.88zM154.15 825.31h5.23v8.39h-5.23zM154.15 839.44h6.16v8.39h-6.16zM154.15 848.49h8.4v8.39h-8.4zM154.15 857.53h5.88v8.39h-5.88zM154.15 866.57h5.23v8.39h-5.23zM154.15 875.62h6.81v8.39h-6.81zM154.15 884.66h5.23v8.39h-5.23zM154.15 981.31h5.88v8.39h-5.88zM154.15 990.35h4.67v8.39h-4.67zM154.15 1017.48h5.23v8.39h-5.23zM154.15 1049.7h6.16v8.39h-6.16zM154.15 1058.74h4.67v8.39h-4.67zM154.15 1094.91h4.67v8.39h-4.67zM154.15 1103.96h4.67v8.39h-4.67zM154.15 1113h5.23v8.39h-5.23zM154.15 1122.04h4.67v8.39h-4.67zM154.15 1140.13h4.67v8.39h-4.67zM154.15 1154.26h2.8v8.39h-2.8zM154.15 1163.3h3.73v8.39h-3.73zM154.15 1172.34h2.8v8.39h-2.8zM154.15 1223.78h5.88v8.39h-5.88zM154.15 1241.86h16.62v8.39h-16.62zM154.15 1307.43h6.16v8.39h-6.16zM154.15 1316.47h3.73v8.39h-3.73zM154.15 1330.6h6.16v8.39h-6.16zM154.15 1339.65h4.67v8.39h-4.67zM154.15 1353.78h6.81v8.39h-6.81zM154.15 1362.82h5.23v8.39h-5.23zM154.15 1371.86h4.67v8.39h-4.67zM154.15 1380.91h2.8v8.39h-2.8zM154.15 1389.95h2.8v8.39h-2.8zM154.15 1398.99h6.81v8.39h-6.81zM154.15 1436.3h7.84v8.39h-7.84zM154.15 1450.43h6.16v8.39h-6.16zM154.15 1464.56h5.88v8.39h-5.88zM154.15 1478.69h2.8v8.39h-2.8zM154.15 1492.82h2.8v8.39h-2.8zM154.15 1506.95h8.4v8.39h-8.4zM154.15 1521.08h4.67v8.39h-4.67zM154.15 1530.12h5.23v8.39h-5.23zM154.15 1539.16h2.8v8.39h-2.8zM154.15 1548.21h4.67v8.39h-4.67zM154.15 1562.34h6.16v8.39h-6.16zM154.15 1571.38h4.67v8.39h-4.67zM154.15 1585.51h9.34v8.39h-9.34zM154.15 1594.55h6.81v8.39h-6.81zM154.15 1603.6h7.84v8.39h-7.84zM154.15 1617.73h10.08v8.39h-10.08zM154.15 1655.03h5.88v8.39h-5.88zM154.15 1664.08h4.67v8.39h-4.67zM154.15 1678.21h4.67v8.39h-4.67zM154.15 1687.25h4.67v8.39h-4.67zM154.15 1873.77h16.62v8.39h-16.62zM154.15 1887.9h9.15v8.39h-9.15zM154.15 1896.94h10.08v8.39h-10.08zM154.15 1911.07h9.34v8.39h-9.34zM154.15 1920.12h7.84v8.39h-7.84zM154.15 1929.16h7.84v8.39h-7.84zM154.15 1943.29h10.08v8.39h-10.08zM154.15 1957.42h10.08v8.39h-10.08zM154.15 1966.46h7.84v8.39h-7.84zM154.15 1975.51h10.08v8.39h-10.08zM154.15 1984.55h9.34v8.39h-9.34zM154.15 2012.81h14.94v8.39h-14.94zM154.15 2264.32h93.35v8.39h-93.35zM154.15 2273.36h93.35v8.39h-93.35zM154.15 2282.41h93.35v8.39h-93.35zM154.15 2291.45h93.35v8.39h-93.35zM154.15 2305.58h93.35v8.39h-93.35zM154.15 2314.62h93.35v8.39h-93.35zM154.15 2323.67h93.35v8.39h-93.35zM154.15 2332.71h93.35v8.39h-93.35zM154.15 2341.75h93.35v8.39h-93.35zM154.15 2350.8h93.35v8.39h-93.35zM154.15 2364.93h60.68v8.39h-60.68zM154.15 2379.06h90.08v8.39h-90.08zM154.15 2388.1h93.35v8.39h-93.35zM154.15 2397.14h93.35v8.39h-93.35zM154.15 2406.19h93.35v8.39h-93.35zM154.15 2415.23h80.28v8.39h-80.28zM154.15 2429.36h82.89v8.39h-82.89z" fill="#a77ff8" stroke="#05050a" stroke-width="1"/>
<path d="M168.53 788.01h6.16v8.39h-6.16zM163.49 797.05h4.67v8.39h-4.67zM154.15 811.18h10.74v8.39h-10.74zM168.53 825.31h7.09v8.39h-7.09zM174.69 839.44h4.29v8.39h-4.29zM174.03 848.49h4.39v8.39h-4.39zM177.3 857.53h9.8v8.39h-9.8zM168.15 866.57h5.88v8.39h-5.88zM172.45 875.62h6.53v8.39h-6.53zM172.45 884.66h9.71v8.39h-9.71zM160.96 893.7h11.48v8.39h-11.48zM160.96 907.83h1.59v8.39h-1.59zM160.03 916.88h4.2v8.39h-4.2zM158.35 925.92h3.64v8.39h-3.64zM157.88 940.05h2.43v8.39h-2.43zM159.38 949.09h4.85v8.39h-4.85zM164.23 963.22h9.8v8.39h-9.8zM156.95 972.27h5.04v8.39h-5.04zM171.89 981.31h12.6v8.39h-12.6zM166.85 990.35h7.19v8.39h-7.19zM158.82 999.4h2.15v8.39h-2.15zM160.03 1008.44h9.05v8.39h-9.05zM171.42 1017.48h7.56v8.39h-7.56zM161.99 1031.61h7.09v8.39h-7.09zM160.96 1040.65h11.48v8.39h-11.48zM174.03 1049.7h3.27v8.39h-3.27zM164.23 1058.74h6.53v8.39h-6.53zM156.95 1067.78h3.08v8.39h-3.08zM159.38 1076.83h6.53v8.39h-6.53zM164.23 1085.87h14.19v8.39h-14.19zM168.53 1094.91h9.9v8.39h-9.9zM169.09 1103.96h9.33v8.39h-9.33zM174.03 1113h9.8v8.39h-9.8zM170.77 1122.04h9.8v8.39h-9.8zM164.23 1131.08h8.21v8.39h-8.21zM169.09 1140.13h6.53v8.39h-6.53zM169.09 1154.26h9.9v8.39h-9.9zM174.03 1163.3h8.87v8.39h-8.87zM173.1 1172.34h12.42v8.39h-12.42zM161.99 1200.61h8.77v8.39h-8.77zM162.55 1209.65h5.6v8.39h-5.6zM160.03 1223.78h16.34v8.39h-16.34zM156.95 1232.82h7.28v8.39h-7.28zM158.82 1256h2.15v8.39h-2.15zM156.95 1265.04h3.08v8.39h-3.08zM178.42 1293.3h16.8v8.39h-16.8zM191.96 1307.43h6.63v8.39h-6.63zM198.58 1307.43h11.58v8.39h-11.58zM175.62 1316.47h4.95v8.39h-4.95zM207.36 1330.6h7.47v8.39h-7.47zM169.09 1339.65h15.4v8.39h-15.4zM205.68 1353.78h10.83v8.39h-10.83zM189.62 1362.82h13.82v8.39h-13.82zM187.1 1371.86h9.8v8.39h-9.8zM193.64 1380.91h10.74v8.39h-10.74zM207.36 1398.99h7.47v8.39h-7.47zM179.91 1413.12h7.19v8.39h-7.19zM191.49 1422.16h9.33v8.39h-9.33zM214.83 1422.16h4.95v8.39h-4.95zM193.64 1436.3h12.04v8.39h-12.04zM172.45 1464.56h8.77v8.39h-8.77zM175.62 1478.69h6.53v8.39h-6.53zM173.38 1492.82h13.72v8.39h-13.72zM203.44 1506.95h6.72v8.39h-6.72zM196.9 1521.08h6.53v8.39h-6.53zM195.88 1539.16h8.21v8.39h-8.21zM210.16 1548.21h7.28v8.39h-7.28zM195.88 1562.34h10.83v8.39h-10.83zM179.91 1571.38h7.19v8.39h-7.19zM172.45 1585.51h7.47v8.39h-7.47zM175.62 1594.55h9.34v8.39h-9.34zM166.85 1603.6h7.19v8.39h-7.19zM213.24 1617.73h9.8v8.39h-9.8zM156.95 1631.86h3.36v8.39h-3.36zM159.38 1640.9h5.97v8.39h-5.97zM205.68 1655.03h4.48v8.39h-4.48zM201.76 1664.08h8.4v8.39h-8.4zM198.58 1678.21h7.09v8.39h-7.09zM201.76 1687.25h5.6v8.39h-5.6zM154.15 1701.38h47.61v8.39h-47.61zM154.15 1715.51h54.14v8.39h-54.14zM154.15 1729.64h93.35v8.39h-93.35zM154.15 1738.68h93.35v8.39h-93.35zM158.35 1752.81h60.4v8.39h-60.4zM160.96 1766.94h27.72v8.39h-27.72zM243.58 1873.77h3.92v8.39h-3.92zM234.43 1887.9h5.6v8.39h-5.6zM240.31 1896.94h5.6v8.39h-5.6zM235.08 1911.07h9.15v8.39h-9.15zM236.11 1929.16h4.2v8.39h-4.2zM241.62 1943.29h4.29v8.39h-4.29zM239.38 1957.42h6.53v8.39h-6.53zM237.04 1975.51h3.27v8.39h-3.27zM240.31 1984.55h4.85v8.39h-4.85zM240.31 2012.81h5.6v8.39h-5.6zM214.83 2364.93h18.95v8.39h-18.95zM237.04 2429.36h4.57v8.39h-4.57z" fill="#a3d3f7" stroke="#05050a" stroke-width="1"/>
<path d="M224.63 797.05h9.15v8.39h-9.15zM341.79 797.05h12.42v8.39h-12.42zM351.6 811.18h4.85v8.39h-4.85zM349.92 925.92h4.29v8.39h-4.29zM219.78 972.27h8.12v8.39h-8.12zM345.06 972.27h8.87v8.39h-8.87zM221.36 1040.65h3.27v8.39h-3.27zM345.06 1040.65h3.27v8.39h-3.27zM355.52 1049.7h3.55v8.39h-3.55zM354.86 1103.96h6.53v8.39h-6.53zM210.16 1186.47h7.93v8.39h-7.93zM329.38 1186.47h9.8v8.39h-9.8zM233.78 1293.3h9.8v8.39h-9.8zM352.53 1293.3h7.19v8.39h-7.19zM204.09 1316.47h35.94v8.39h-35.94zM325.46 1316.47h39.21v8.39h-39.21zM229.58 1380.91h4.85v8.39h-4.85zM349.26 1380.91h7.19v8.39h-7.19zM206.71 1389.95h20.26v8.39h-20.26zM329.66 1389.95h22.59v8.39h-22.59zM234.43 1422.16h4.95v8.39h-4.95zM353.18 1422.16h7.28v8.39h-7.28zM370.45 1450.43h2.33v8.39h-2.33zM226.96 1664.08h3.27v8.39h-3.27zM344.03 1766.94h9.9v8.39h-9.9z" fill="#f4a04c" stroke="#05050a" stroke-width="1"/>
<path d="M195.22 1293.3h11.48v8.39h-11.48zM182.16 1389.95h7.47v8.39h-7.47zM200.82 1422.16h14v8.39h-14zM201.76 1701.38h44.34v8.39h-44.34zM208.29 1715.51h37.81v8.39h-37.81zM218.75 1752.81h23.8v8.39h-23.8z" fill="#7ccd7c" stroke="#05050a" stroke-width="1"/>
<path d="M409.9 2443.49h93.35v8.39h-93.35zM409.9 2457.62h93.35v8.39h-93.35zM409.9 2466.66h93.35v8.39h-93.35zM409.9 2475.71h93.35v8.39h-93.35zM409.9 2484.75h93.35v8.39h-93.35zM409.9 2498.88h93.35v8.39h-93.35zM409.9 2507.92h93.35v8.39h-93.35z" fill="#4d4d4d" stroke="#05050a" stroke-width="1"/>
<path d="M478.05 55.18h14.94M478.05 53.88v2.6M501 55.18h2.25M501 53.88v2.6M445.86 69.31h10.71M445.86 68.01v2.6M488.31 69.31h14.94M488.31 68.01v2.6M443.04 78.36h13.53M443.04 77.06v2.6M493.13 78.36h10.12M493.13 77.06v2.6M446.95 92.49h12.05M446.95 91.19v2.6M496.72 92.49h6.53M496.72 91.19v2.6M436.97 101.53h14.94M436.97 100.23v2.6M493.27 101.53h9.98M493.27 100.23v2.6M457.48 110.57h12.16M457.48 109.27v2.6M496.72 110.57h6.53M496.72 109.27v2.6M460.68 119.62h13.63M460.68 118.32v2.6M496.72 119.62h6.53M496.72 118.32v2.6M441.64 133.75h14.94M441.64 132.45v2.6M488.31 133.75h14.94M488.31 132.45v2.6M456.57 147.88h14.94M456.57 146.58v2.6M496.72 147.88h6.53M496.72 146.58v2.6M457.51 156.92h14.94M457.51 155.62v2.6M496.72 156.92h6.53M496.72 155.62v2.6M459.38 165.96h14.94M459.38 164.66v2.6M496.72 165.96h6.53M496.72 164.66v2.6M327.62 180.09h11.37M327.62 178.79v2.6M368.87 180.09h6.53M368.87 178.79v2.6M465.54 180.09h14.94M465.54 178.79v2.6M496.72 180.09h6.53M496.72 178.79v2.6M280.18 194.22h5.6M280.18 192.92v2.6M338.99 194.22h14.94M338.99 192.92v2.6M369.41 194.22h5.99M369.41 192.92v2.6M465.54 194.22h14.94M465.54 192.92v2.6M497.69 194.22h5.56M497.69 192.92v2.6M326.86 203.27h14.94M326.86 201.97v2.6M368.87 203.27h6.53M368.87 201.97v2.6M464.04 203.27h14.94M464.04 201.97v2.6M496.72 203.27h6.53M496.72 201.97v2.6M289.77 217.4h3.02M289.77 216.1v2.6M320.32 217.4h14.94M320.32 216.1v2.6M340.08 217.4h2.64M340.08 216.1v2.6M357 217.4h9.99M357 216.1v2.6M373.04 217.4h2.36M373.04 216.1v2.6M456.57 217.4h14.94M456.57 216.1v2.6M494.33 217.4h3.79M494.33 216.1v2.6M501.36 217.4h1.89M501.36 216.1v2.6M312.41 231.53h13.05M312.41 230.23v2.6M364.41 231.53h10.99M364.41 230.23v2.6M310.52 240.57h14.94M310.52 239.27v2.6M361.64 240.57h13.76M361.64 239.27v2.6M273.18 286.92h31.74M273.18 285.62v2.6M316.59 286.92h31.74M316.59 285.62v2.6M356.08 286.92h2.51M356.08 285.62v2.6M363.26 286.92h1.87M363.26 285.62v2.6M372.21 286.92h3.19M372.21 285.62v2.6M473.14 286.92h3.04M473.14 285.62v2.6M480.06 286.92h2.65M480.06 285.62v2.6M492.47 286.92h2.94M492.47 285.62v2.6M500.11 286.92h3.14M500.11 285.62v2.6M266.18 361.53h21.47M266.18 360.23v2.6M290.92 361.53h1.87M290.92 360.23v2.6M307.45 361.53h7.27M307.45 360.23v2.6M336.95 361.53h8.11M336.95 360.23v2.6M349.98 361.53h2.55M349.98 360.23v2.6M357.23 361.53h3.23M357.23 360.23v2.6M373.27 361.53h2.13M373.27 360.23v2.6M441.37 361.53h2.7M441.37 360.23v2.6M448.71 361.53h2.26M448.71 360.23v2.6M464.25 361.53h2.22M464.25 360.23v2.6M500.71 361.53h2.54M500.71 360.23v2.6M493.1 375.66h3.33M493.1 374.36v2.6M501.23 375.66h2.02M501.23 374.36v2.6M499.23 384.7h2.16M499.23 383.4v2.6M500.18 384.7h3.07M500.18 383.4v2.6M479.43 393.74h3.01M479.43 392.44v2.6M501.8 393.74h1.45M501.8 392.44v2.6M410.83 407.87h1.87M410.83 406.57v2.6M500.35 407.87h2.9M500.35 406.57v2.6M422.93 422h2.56M422.93 420.7v2.6M501.01 422h2.24M501.01 420.7v2.6M422.88 431.05h3.64M422.88 429.75v2.6M500.37 431.05h2.88M500.37 429.75v2.6M413.26 440.09h1.87M413.26 438.79v2.6M430.25 440.09h2.06M430.25 438.79v2.6M495.94 440.09h3.58M495.94 438.79v2.6M500.23 440.09h3.02M500.23 438.79v2.6M423 449.13h3.52M423 447.83v2.6M500.16 449.13h3.09M500.16 447.83v2.6M408.03 458.18h4.67M408.03 456.88v2.6M419.7 458.18h3.55M419.7 456.88v2.6M501.83 458.18h1.42M501.83 456.88v2.6M412.7 467.22h1.87M412.7 465.92v2.6M425.41 467.22h2.7M425.41 465.92v2.6M500.65 467.22h2.6M500.65 465.92v2.6M422.19 476.26h3.3M422.19 474.96v2.6M500.93 476.26h2.32M500.93 474.96v2.6M292.38 490.39h2.74M292.38 489.09v2.6M352.72 490.39h9.33M352.72 489.09v2.6M372.69 490.39h2.71M372.69 489.09v2.6M435.13 490.39h2.78M435.13 489.09v2.6M501.32 490.39h1.93M501.32 489.09v2.6M288.3 504.52h1.87M288.3 503.22v2.6M329.66 504.52h9.33M329.66 503.22v2.6M352.41 504.52h6.19M352.41 503.22v2.6M367.46 504.52h3.27M367.46 503.22v2.6M371.2 504.52h1.87M371.2 503.22v2.6M410.68 504.52h1.83M410.68 503.22v2.6M422.19 504.52h2.65M422.19 503.22v2.6M501.55 504.52h1.7M501.55 503.22v2.6M420.1 518.65h2.49M420.1 517.35v2.6M455.54 518.65h1.87M455.54 517.35v2.6M500.5 518.65h2.75M500.5 517.35v2.6M415.5 527.7h1.87M415.5 526.4v2.6M442.61 527.7h2.11M442.61 526.4v2.6M500.36 527.7h2.89M500.36 526.4v2.6M427 536.74h2.13M427 535.44v2.6M465.04 536.74h3.11M465.04 535.44v2.6M500.72 536.74h2.53M500.72 535.44v2.6M342.26 550.87h9.33M342.26 549.57v2.6M373.76 550.87h1.64M373.76 549.57v2.6M414.27 550.87h3.1M414.27 549.57v2.6M448.07 550.87h1.97M448.07 549.57v2.6M501.59 550.87h1.66M501.59 549.57v2.6M295.32 559.91h8.2M295.32 558.61v2.6M344.59 559.91h9.33M344.59 558.61v2.6M366.13 559.91h7.4M366.13 558.61v2.6M405.23 559.91h26.14M405.23 558.61v2.6M500.99 559.91h2.26M500.99 558.61v2.6M288.34 568.95h2.86M288.34 567.65v2.6M303.2 568.95h8.25M303.2 567.65v2.6M332.46 568.95h9.33M332.46 567.65v2.6M363.26 568.95h9.33M363.26 567.65v2.6M412.7 568.95h1.87M412.7 567.65v2.6M433.61 568.95h3.64M433.61 567.65v2.6M498.24 568.95h2.21M498.24 567.65v2.6M501.04 568.95h2.21M501.04 567.65v2.6M189.25 583.09h9.34M189.25 581.79v2.6M219.21 583.09h6.45M219.21 581.79v2.6M230.54 583.09h2.3M230.54 581.79v2.6M238.39 583.09h3.51M238.39 581.79v2.6M245.4 583.09h2.1M245.4 581.79v2.6M307.25 583.09h9.33M307.25 581.79v2.6M319.39 583.09h1.87M319.39 581.79v2.6M345.53 583.09h9.33M345.53 581.79v2.6M366.14 583.09h3.38M366.14 581.79v2.6M373.09 583.09h2.31M373.09 581.79v2.6M414.19 583.09h1.87M414.19 581.79v2.6M421.38 583.09h1.87M421.38 581.79v2.6M491.08 583.09h2.09M491.08 581.79v2.6M501.44 583.09h1.81M501.44 581.79v2.6M203.25 592.13h9.34M203.25 590.83v2.6M228.39 592.13h8.66M228.39 590.83v2.6M241.93 592.13h2.3M241.93 590.83v2.6M245.74 592.13h1.76M245.74 590.83v2.6M316.78 592.13h9.33M316.78 590.83v2.6M331.5 592.13h3.75M331.5 590.83v2.6M357.01 592.13h8.59M357.01 590.83v2.6M370 592.13h2.79M370 590.83v2.6M373.46 592.13h1.94M373.46 590.83v2.6M416.99 592.13h2.99M416.99 590.83v2.6M423.79 592.13h2.73M423.79 590.83v2.6M496.21 592.13h3.31M496.21 590.83v2.6M500.3 592.13h2.95M500.3 590.83v2.6M200.82 601.17h9.34M200.82 599.87v2.6M227.57 601.17h6.86M227.57 599.87v2.6M240.1 601.17h2.45M240.1 599.87v2.6M244.31 601.17h3.19M244.31 599.87v2.6M280.18 601.17h6.53M280.18 599.87v2.6M302.59 601.17h23.34M302.59 599.87v2.6M336.09 601.17h6.36M336.09 599.87v2.6M357.53 601.17h6.48M357.53 599.87v2.6M369.07 601.17h2.13M369.07 599.87v2.6M372.17 601.17h3.23M372.17 599.87v2.6M410.83 601.17h1.87M410.83 599.87v2.6M428.98 601.17h2.39M428.98 599.87v2.6M492.95 601.17h2.83M492.95 599.87v2.6M498.58 601.17h1.87M498.58 599.87v2.6M501.66 601.17h1.59M501.66 599.87v2.6M198.96 610.21h9.34M198.96 608.91v2.6M225.1 610.21h9.34M225.1 608.91v2.6M241.71 610.21h1.87M241.71 608.91v2.6M244.26 610.21h3.24M244.26 608.91v2.6M316.59 610.21h9.33M316.59 608.91v2.6M354.68 610.21h9.33M354.68 608.91v2.6M370.27 610.21h1.87M370.27 608.91v2.6M372.35 610.21h3.05M372.35 608.91v2.6M415.12 610.21h3.19M415.12 608.91v2.6M421.38 610.21h1.87M421.38 608.91v2.6M496.22 610.21h3.3M496.22 608.91v2.6M501.67 610.21h1.58M501.67 608.91v2.6M191.49 619.26h9.34M191.49 617.96v2.6M223.51 619.26h9.34M223.51 617.96v2.6M236.77 619.26h2.33M236.77 617.96v2.6M241.43 619.26h1.87M241.43 617.96v2.6M243.3 619.26h1.87M243.3 617.96v2.6M245.16 619.26h2.34M245.16 617.96v2.6M286.06 619.26h1.87M286.06 617.96v2.6M308.94 619.26h6.71M308.94 617.96v2.6M321.65 619.26h4.27M321.65 617.96v2.6M352.73 619.26h7.73M352.73 617.96v2.6M368.03 619.26h2.42M368.03 617.96v2.6M373.65 619.26h1.75M373.65 617.96v2.6M412.7 619.26h1.87M412.7 617.96v2.6M423.28 619.26h2.2M423.28 617.96v2.6M492.58 619.26h2.83M492.58 617.96v2.6M497.18 619.26h1.87M497.18 617.96v2.6M500.23 619.26h3.02M500.23 617.96v2.6M179.35 633.39h9.34M179.35 632.09v2.6M208.29 633.39h9.34M208.29 632.09v2.6M244.8 633.39h2.7M244.8 632.09v2.6M293.19 633.39h7.53M293.19 632.09v2.6M336.19 633.39h9.33M336.19 632.09v2.6M372.63 633.39h2.77M372.63 632.09v2.6M410.83 633.39h1.87M410.83 632.09v2.6M493.58 633.39h3.51M493.58 632.09v2.6M501.38 633.39h1.87M501.38 632.09v2.6M219.21 642.43h9.34M219.21 641.13v2.6M245.7 642.43h1.8M245.7 641.13v2.6M320.98 642.43h9.33M320.98 641.13v2.6M363.26 642.43h9.33M363.26 641.13v2.6M372.21 642.43h3.19M372.21 641.13v2.6M414.74 642.43h2.63M414.74 641.13v2.6M430.18 642.43h2.12M430.18 641.13v2.6M501.64 642.43h1.61M501.64 641.13v2.6M206.43 651.47h9.34M206.43 650.17v2.6M226.67 651.47h6.83M226.67 650.17v2.6M244.95 651.47h2.55M244.95 650.17v2.6M310.52 651.47h9.33M310.52 650.17v2.6M352.06 651.47h9.33M352.06 650.17v2.6M373.29 651.47h2.11M373.29 650.17v2.6M416.96 651.47h2.08M416.96 650.17v2.6M420.17 651.47h1.87M420.17 650.17v2.6M501.69 651.47h1.56M501.69 650.17v2.6M218.56 660.52h9.34M218.56 659.22v2.6M235.42 660.52h2.74M235.42 659.22v2.6M245.96 660.52h1.54M245.96 659.22v2.6M317.52 660.52h9.33M317.52 659.22v2.6M357.66 660.52h9.33M357.66 659.22v2.6M372.15 660.52h3.25M372.15 659.22v2.6M419.52 660.52h2.51M419.52 659.22v2.6M501.06 660.52h2.19M501.06 659.22v2.6M198.02 669.56h9.34M198.02 668.26v2.6M227.9 669.56h9.34M227.9 668.26v2.6M245.56 669.56h1.94M245.56 668.26v2.6M302.29 669.56h7.76M302.29 668.26v2.6M355.33 669.56h9.33M355.33 668.26v2.6M373.1 669.56h2.3M373.1 668.26v2.6M414.18 669.56h2.53M414.18 668.26v2.6M499.99 669.56h3.26M499.99 668.26v2.6M185.89 678.6h9.34M185.89 677.3v2.6M224.16 678.6h9.34M224.16 677.3v2.6M245.92 678.6h1.58M245.92 677.3v2.6M296.23 678.6h4.49M296.23 677.3v2.6M352.72 678.6h9.33M352.72 677.3v2.6M372.96 678.6h2.44M372.96 677.3v2.6M410.83 678.6h1.87M410.83 677.3v2.6M501.25 678.6h2M501.25 677.3v2.6M201.29 687.65h9.34M201.29 686.35v2.6M223.62 687.65h6.61M223.62 686.35v2.6M244.39 687.65h3.11M244.39 686.35v2.6M305.67 687.65h9.33M305.67 686.35v2.6M349.26 687.65h9.33M349.26 686.35v2.6M372.81 687.65h2.59M372.81 686.35v2.6M415.98 687.65h2.32M415.98 686.35v2.6M500.69 687.65h2.56M500.69 686.35v2.6M179.29 696.69h6.23M179.29 695.39v2.6M206.17 696.69h7.72M206.17 695.39v2.6M244.29 696.69h3.21M244.29 695.39v2.6M293.5 696.69h2.55M293.5 695.39v2.6M332.46 696.69h9.33M332.46 695.39v2.6M373.67 696.69h1.73M373.67 695.39v2.6M410.83 696.69h1.87M410.83 695.39v2.6M492.18 696.69h3.6M492.18 695.39v2.6M500.35 696.69h2.9M500.35 695.39v2.6M182.62 705.73h9.34M182.62 704.43v2.6M214.7 705.73h8.99M214.7 704.43v2.6M244.32 705.73h3.18M244.32 704.43v2.6M296.61 705.73h4.11M296.61 704.43v2.6M342.26 705.73h9.33M342.26 704.43v2.6M373.74 705.73h1.66M373.74 704.43v2.6M410.83 705.73h1.87M410.83 704.43v2.6M500.12 705.73h3.13M500.12 704.43v2.6M193.25 714.77h9.17M193.25 713.48v2.6M221.75 714.77h4.56M221.75 713.48v2.6M245.22 714.77h2.28M245.22 713.48v2.6M299.79 714.77h9.33M299.79 713.48v2.6M344.97 714.77h9.24M344.97 713.48v2.6M373.68 714.77h1.72M373.68 713.48v2.6M413.66 714.77h2.4M413.66 713.48v2.6M500.43 714.77h2.82M500.43 713.48v2.6M182.16 723.82h9.34M182.16 722.52v2.6M213.25 723.82h8.11M213.25 722.52v2.6M244.32 723.82h3.18M244.32 722.52v2.6M292.9 723.82h7.82M292.9 722.52v2.6M339.93 723.82h9.33M339.93 722.52v2.6M372.23 723.82h3.17M372.23 722.52v2.6M410.83 723.82h1.87M410.83 722.52v2.6M500.77 723.82h2.48M500.77 722.52v2.6M203.91 732.86h9.34M203.91 731.56v2.6M225.57 732.86h6.25M225.57 731.56v2.6M244.38 732.86h3.12M244.38 731.56v2.6M310.37 732.86h7.62M310.37 731.56v2.6M351.13 732.86h9.33M351.13 731.56v2.6M373.07 732.86h2.33M373.07 731.56v2.6M415.75 732.86h3.3M415.75 731.56v2.6M500.33 732.86h2.92M500.33 731.56v2.6M198.3 741.9h9.34M198.3 740.6v2.6M215.12 741.9h5.59M215.12 740.6v2.6M244.34 741.9h3.16M244.34 740.6v2.6M307.25 741.9h9.33M307.25 740.6v2.6M339.65 741.9h9.33M339.65 740.6v2.6M373.48 741.9h1.92M373.48 740.6v2.6M416.05 741.9h3M416.05 740.6v2.6M496.57 741.9h2.94M496.57 740.6v2.6M500.84 741.9h2.41M500.84 740.6v2.6M208.76 750.95h9.34M208.76 749.65v2.6M229.13 750.95h4.65M229.13 749.65v2.6M245.73 750.95h1.77M245.73 749.65v2.6M309.59 750.95h9.33M309.59 749.65v2.6M352.72 750.95h9.33M352.72 749.65v2.6M373.08 750.95h2.32M373.08 749.65v2.6M414.74 750.95h3.56M414.74 749.65v2.6M500.75 750.95h2.5M500.75 749.65v2.6M185.89 759.99h9.34M185.89 758.69v2.6M213.16 759.99h7.27M213.16 758.69v2.6M244.25 759.99h3.25M244.25 758.69v2.6M297.54 759.99h5.98M297.54 758.69v2.6M338.99 759.99h9.33M338.99 758.69v2.6M373.18 759.99h2.22M373.18 758.69v2.6M411.77 759.99h1.87M411.77 758.69v2.6M497.45 759.99h3M497.45 758.69v2.6M500.56 759.99h2.69M500.56 758.69v2.6M198.96 769.03h9.34M198.96 767.73v2.6M225.52 769.03h7.97M225.52 767.73v2.6M245.31 769.03h2.19M245.31 767.73v2.6M305.89 769.03h8.18M305.89 767.73v2.6M352.06 769.03h9.33M352.06 767.73v2.6M373.62 769.03h1.78M373.62 767.73v2.6M415.5 769.03h1.87M415.5 767.73v2.6M500.54 769.03h2.71M500.54 767.73v2.6M205.49 778.08h9.34M205.49 776.78v2.6M228.83 778.08h4.95M228.83 776.78v2.6M245.73 778.08h1.77M245.73 776.78v2.6M309.89 778.08h8.1M309.89 776.78v2.6M352.72 778.08h9.33M352.72 776.78v2.6M373.72 778.08h1.68M373.72 776.78v2.6M415.65 778.08h3.4M415.65 776.78v2.6M500.88 778.08h2.37M500.88 776.78v2.6M155.91 792.21h4.12M155.91 790.91v2.6M165.14 792.21h3.39M165.14 790.91v2.6M170.91 792.21h3.77M170.91 790.91v2.6M185.08 792.21h4.54M185.08 790.91v2.6M237.11 792.21h7.13M237.11 790.91v2.6M241.1 792.21h5M241.1 790.91v2.6M244.55 792.21h2.95M244.55 790.91v2.6M284.22 792.21h3.06M284.22 790.91v2.6M288.63 792.21h3.23M288.63 790.91v2.6M307.5 792.21h4.89M307.5 790.91v2.6M350.69 792.21h5.76M350.69 790.91v2.6M366.15 792.21h3.37M366.15 790.91v2.6M372.57 792.21h2.83M372.57 790.91v2.6M422.83 792.21h4.34M422.83 790.91v2.6M444.65 792.21h3.99M444.65 790.91v2.6M471.54 792.21h3.7M471.54 790.91v2.6M496.26 792.21h6.99M496.26 790.91v2.6M159.38 801.25h4.1M159.38 799.95v2.6M163.26 801.25h4.89M163.26 799.95v2.6M171.19 801.25h2.85M171.19 799.95v2.6M220.48 801.25h4.15M220.48 799.95v2.6M229.91 801.25h3.87M229.91 799.95v2.6M240.85 801.25h4.32M240.85 799.95v2.6M244.04 801.25h3.46M244.04 799.95v2.6M283.81 801.25h4.12M283.81 799.95v2.6M295.62 801.25h3.7M295.62 799.95v2.6M333.82 801.25h4.24M333.82 799.95v2.6M350.15 801.25h4.05M350.15 799.95v2.6M365.76 801.25h3.76M365.76 799.95v2.6M370.62 801.25h4.78M370.62 799.95v2.6M416.83 801.25h3.15M416.83 799.95v2.6M425.04 801.25h3.06M425.04 799.95v2.6M441.76 801.25h3.24M441.76 799.95v2.6M468.79 801.25h5.8M468.79 799.95v2.6M497.5 801.25h5.75M497.5 799.95v2.6M161.84 815.38h3.05M161.84 814.08v2.6M171.12 815.38h2.26M171.12 814.08v2.6M229.56 815.38h5.52M229.56 814.08v2.6M238.45 815.38h3.17M238.45 814.08v2.6M242.32 815.38h5.18M242.32 814.08v2.6M290.51 815.38h2.27M290.51 814.08v2.6M338.06 815.38h7M338.06 814.08v2.6M346.52 815.38h5.07M346.52 814.08v2.6M353.63 815.38h2.82M353.63 814.08v2.6M362.99 815.38h2.14M362.99 814.08v2.6M372.48 815.38h2.92M372.48 814.08v2.6M411.99 815.38h3.14M411.99 814.08v2.6M417.96 815.38h3.61M417.96 814.08v2.6M430.73 815.38h2.88M430.73 814.08v2.6M455.24 815.38h4.41M455.24 814.08v2.6M499.28 815.38h3.97M499.28 814.08v2.6M155.72 829.51h3.66M155.72 828.21v2.6M164.76 829.51h3.76M164.76 828.21v2.6M172.28 829.51h3.34M172.28 828.21v2.6M184.64 829.51h2.47M184.64 828.21v2.6M241.5 829.51h4.42M241.5 828.21v2.6M244.52 829.51h2.98M244.52 828.21v2.6M283.17 829.51h2.61M283.17 828.21v2.6M289.34 829.51h2.52M289.34 828.21v2.6M306.28 829.51h5.17M306.28 828.21v2.6M342.96 829.51h6.02M342.96 828.21v2.6M357.31 829.51h3.15M357.31 828.21v2.6M363.48 829.51h5.1M363.48 828.21v2.6M370.95 829.51h4.45M370.95 828.21v2.6M421.6 829.51h2.31M421.6 828.21v2.6M424.03 829.51h5.1M424.03 828.21v2.6M440.1 829.51h2.65M440.1 828.21v2.6M448.33 829.51h3.58M448.33 828.21v2.6M467.42 829.51h5.22M467.42 828.21v2.6M499.31 829.51h3.94M499.31 828.21v2.6M157.52 843.64h2.79M157.52 842.34v2.6M172.47 843.64h2.22M172.47 842.34v2.6M176.85 843.64h2.13M176.85 842.34v2.6M191.36 843.64h2.28M191.36 842.34v2.6M235.52 843.64h5.44M235.52 842.34v2.6M245.15 843.64h2.35M245.15 842.34v2.6M284 843.64h3.93M284 842.34v2.6M292.62 843.64h4.37M292.62 842.34v2.6M314.63 843.64h3.36M314.63 842.34v2.6M314.86 843.64h5M314.86 842.34v2.6M349.43 843.64h5.43M349.43 842.34v2.6M356.75 843.64h4.65M356.75 842.34v2.6M370.16 843.64h5.24M370.16 842.34v2.6M429.18 843.64h3.13M429.18 842.34v2.6M451.25 843.64h3.83M451.25 842.34v2.6M457.12 843.64h2.54M457.12 842.34v2.6M480.36 843.64h4.69M480.36 842.34v2.6M498.72 843.64h4.53M498.72 842.34v2.6M157.39 852.68h5.17M157.39 851.38v2.6M169.75 852.68h4.28M169.75 851.38v2.6M173.95 852.68h4.47M173.95 851.38v2.6M191.07 852.68h3.5M191.07 851.38v2.6M240.24 852.68h6.33M240.24 851.38v2.6M283.62 852.68h3.66M283.62 851.38v2.6M291.43 852.68h3.69M291.43 851.38v2.6M316.02 852.68h2.9M316.02 851.38v2.6M318.79 852.68h3.41M318.79 851.38v2.6M358.04 852.68h4.94M358.04 851.38v2.6M372.85 852.68h2.55M372.85 851.38v2.6M430.03 852.68h2.93M430.03 851.38v2.6M452.35 852.68h5.07M452.35 851.38v2.6M456.21 852.68h3.82M456.21 851.38v2.6M481.37 852.68h3.68M481.37 851.38v2.6M500.78 852.68h2.47M500.78 851.38v2.6M156.41 861.73h3.63M156.41 860.43v2.6M172.24 861.73h5.06M172.24 860.43v2.6M184.53 861.73h2.58M184.53 860.43v2.6M197.79 861.73h2.38M197.79 860.43v2.6M236.22 861.73h5.68M236.22 860.43v2.6M243.9 861.73h3.6M243.9 860.43v2.6M283.31 861.73h2.94M283.31 860.43v2.6M294.06 861.73h5.26M294.06 860.43v2.6M300.04 861.73h3.48M300.04 860.43v2.6M320.19 861.73h2.65M320.19 860.43v2.6M321.57 861.73h4.54M321.57 860.43v2.6M353.45 861.73h4.03M353.45 860.43v2.6M359.81 861.73h4.2M359.81 860.43v2.6M371.62 861.73h3.78M371.62 860.43v2.6M430.59 861.73h2.37M430.59 860.43v2.6M439.02 861.73h3.09M439.02 860.43v2.6M454.21 861.73h4.79M454.21 860.43v2.6M462.94 861.73h2.59M462.94 860.43v2.6M481.56 861.73h5.08M481.56 860.43v2.6M497.94 861.73h5.31M497.94 860.43v2.6M156.21 870.77h3.17M156.21 869.47v2.6M163.07 870.77h5.09M163.07 869.47v2.6M169.14 870.77h4.9M169.14 869.47v2.6M188.55 870.77h5.08M188.55 869.47v2.6M237.27 870.77h4.35M237.27 869.47v2.6M245.1 870.77h2.4M245.1 869.47v2.6M283.31 870.77h2.94M283.31 869.47v2.6M287.56 870.77h4.29M287.56 869.47v2.6M315.39 870.77h3.54M315.39 869.47v2.6M350.76 870.77h5.69M350.76 869.47v2.6M357.7 870.77h4.35M357.7 869.47v2.6M370.79 870.77h4.61M370.79 869.47v2.6M420.64 870.77h3.26M420.64 869.47v2.6M425.73 870.77h2.38M425.73 869.47v2.6M450.76 870.77h4.88M450.76 869.47v2.6M456.78 870.77h2.22M456.78 869.47v2.6M479.83 870.77h4.75M479.83 869.47v2.6M500.82 870.77h2.43M500.82 869.47v2.6M156.24 879.81h4.72M156.24 878.51v2.6M168.18 879.81h4.27M168.18 878.51v2.6M176.84 879.81h2.14M176.84 878.51v2.6M186.69 879.81h5.26M186.69 878.51v2.6M237.6 879.81h4.02M237.6 878.51v2.6M242.71 879.81h4.79M242.71 878.51v2.6M283.81 879.81h4.12M283.81 878.51v2.6M295.64 879.81h2.09M295.64 878.51v2.6M311.94 879.81h4.65M311.94 878.51v2.6M313 879.81h5.27M313 878.51v2.6M350.51 879.81h6.96M350.51 878.51v2.6M359.11 879.81h2.28M359.11 878.51v2.6M373.02 879.81h2.38M373.02 878.51v2.6M427.54 879.81h2.89M427.54 878.51v2.6M429.68 879.81h3.27M429.68 878.51v2.6M445.65 879.81h3.45M445.65 878.51v2.6M449.62 879.81h2.85M449.62 878.51v2.6M476.56 879.81h2.61M476.56 878.51v2.6M498.48 879.81h4.77M498.48 878.51v2.6M155.72 888.86h3.66M155.72 887.56v2.6M170.34 888.86h2.11M170.34 887.56v2.6M179.41 888.86h2.74M179.41 887.56v2.6M193.52 888.86h3.38M193.52 887.56v2.6M238.8 888.86h7.12M238.8 887.56v2.6M243.3 888.86h4.2M243.3 887.56v2.6M284.69 888.86h2.59M284.69 887.56v2.6M294.49 888.86h3.24M294.49 887.56v2.6M314.49 888.86h3.5M314.49 887.56v2.6M315.14 888.86h5.18M315.14 887.56v2.6M362.46 888.86h4.53M362.46 887.56v2.6M370.99 888.86h4.41M370.99 887.56v2.6M424.32 888.86h5.18M424.32 887.56v2.6M431.7 888.86h4.34M431.7 887.56v2.6M449.62 888.86h3.5M449.62 887.56v2.6M471.24 888.86h4.93M471.24 887.56v2.6M499.79 888.86h3.46M499.79 887.56v2.6M157.97 897.9h2.99M157.97 896.6v2.6M169.27 897.9h3.18M169.27 896.6v2.6M175.25 897.9h4.66M175.25 896.6v2.6M225.02 897.9h5.49M225.02 896.6v2.6M230.1 897.9h3.68M230.1 896.6v2.6M242.54 897.9h3.37M242.54 896.6v2.6M284.1 897.9h2.15M284.1 896.6v2.6M288.84 897.9h3.02M288.84 896.6v2.6M297.46 897.9h5.13M297.46 896.6v2.6M331.32 897.9h4.87M331.32 896.6v2.6M343.23 897.9h4.17M343.23 896.6v2.6M359.55 897.9h5.11M359.55 896.6v2.6M370.09 897.9h5.31M370.09 896.6v2.6M411.75 897.9h4.31M411.75 896.6v2.6M420.95 897.9h2.29M420.95 896.6v2.6M427.8 897.9h2.63M427.8 896.6v2.6M430.95 897.9h3.69M430.95 896.6v2.6M443.31 897.9h2.72M443.31 896.6v2.6M464.62 897.9h4.84M464.62 896.6v2.6M496.18 897.9h7.07M496.18 896.6v2.6M154.93 912.03h1.83M154.93 910.73v2.6M156.3 912.03h4.66M156.3 910.73v2.6M159.13 912.03h3.42M159.13 910.73v2.6M164.01 912.03h4.51M164.01 910.73v2.6M177.21 912.03h3.36M177.21 910.73v2.6M233.7 912.03h4M233.7 910.73v2.6M242.9 912.03h4.6M242.9 910.73v2.6M284.21 912.03h3.07M284.21 910.73v2.6M299.74 912.03h5.18M299.74 910.73v2.6M345.39 912.03h6.86M345.39 910.73v2.6M354.93 912.03h4.79M354.93 910.73v2.6M371.33 912.03h4.07M371.33 910.73v2.6M415.77 912.03h3.28M415.77 910.73v2.6M434.61 912.03h3.29M434.61 910.73v2.6M439.49 912.03h4.2M439.49 910.73v2.6M468.86 912.03h6.38M468.86 910.73v2.6M499.01 912.03h4.24M499.01 910.73v2.6M154.99 921.07h1.96M154.99 919.77v2.6M155.75 921.07h4.28M155.75 919.77v2.6M161.73 921.07h2.51M161.73 919.77v2.6M173 921.07h3.55M173 919.77v2.6M230.45 921.07h3.98M230.45 919.77v2.6M239.94 921.07h5.22M239.94 919.77v2.6M283.31 921.07h2.94M283.31 919.77v2.6M288.42 921.07h3.43M288.42 919.77v2.6M299.63 921.07h3.89M299.63 919.77v2.6M338.61 921.07h4.77M338.61 919.77v2.6M346.32 921.07h5.27M346.32 919.77v2.6M361.84 921.07h5.16M361.84 919.77v2.6M370.31 921.07h5.09M370.31 919.77v2.6M412.49 921.07h2.64M412.49 919.77v2.6M416.86 921.07h3.78M416.86 919.77v2.6M429.53 921.07h4.45M429.53 919.77v2.6M437.82 921.07h4.93M437.82 919.77v2.6M465.37 921.07h3.35M465.37 919.77v2.6M499.09 921.07h4.16M499.09 919.77v2.6M154.71 930.12h1.31M154.71 928.82v2.6M155.13 930.12h3.22M155.13 928.82v2.6M159.1 930.12h2.89M159.1 928.82v2.6M172.48 930.12h3.14M172.48 928.82v2.6M227.49 930.12h4.33M227.49 928.82v2.6M245.38 930.12h2.12M245.38 928.82v2.6M283.17 930.12h2.61M283.17 928.82v2.6M284.43 930.12h5.08M284.43 928.82v2.6M298.01 930.12h4.58M298.01 928.82v2.6M340.18 930.12h4.88M340.18 928.82v2.6M345.42 930.12h4.49M345.42 928.82v2.6M352.06 930.12h2.15M352.06 928.82v2.6M370.9 930.12h2.64M370.9 928.82v2.6M373.23 930.12h2.17M373.23 928.82v2.6M411.02 930.12h2.61M411.02 928.82v2.6M412.7 930.12h4.67M412.7 928.82v2.6M429.94 930.12h3.02M429.94 928.82v2.6M438.35 930.12h4.41M438.35 928.82v2.6M467.46 930.12h6.2M467.46 928.82v2.6M498.5 930.12h4.75M498.5 928.82v2.6M154.71 944.25h1.31M154.71 942.95v2.6M153.36 944.25h4.52M153.36 942.95v2.6M155.13 944.25h5.18M155.13 942.95v2.6M167.3 944.25h2.72M167.3 942.95v2.6M226.51 944.25h6.34M226.51 942.95v2.6M243.18 944.25h4.32M243.18 942.95v2.6M282.89 944.25h1.96M282.89 942.95v2.6M292.3 944.25h3.75M292.3 942.95v2.6M338.33 944.25h5.71M338.33 942.95v2.6M349.82 944.25h5.04M349.82 942.95v2.6M367.84 944.25h4.95M367.84 942.95v2.6M412.76 944.25h2.37M412.76 942.95v2.6M423.54 944.25h2.97M423.54 942.95v2.6M433.87 944.25h3.1M433.87 942.95v2.6M465.22 944.25h4.43M465.22 942.95v2.6M498.05 944.25h5.2M498.05 942.95v2.6M154.71 953.29h1.31M154.71 951.99v2.6M154.08 953.29h5.3M154.08 951.99v2.6M160.61 953.29h3.62M160.61 951.99v2.6M170.69 953.29h4.37M170.69 951.99v2.6M229.14 953.29h4.63M229.14 951.99v2.6M242.94 953.29h4.56M242.94 951.99v2.6M282.61 953.29h1.31M282.61 951.99v2.6M283.35 953.29h3.92M283.35 951.99v2.6M287.25 953.29h2.92M287.25 951.99v2.6M297.36 953.29h4.29M297.36 951.99v2.6M339.61 953.29h7.04M339.61 951.99v2.6M350.93 953.29h4.58M350.93 951.99v2.6M369.78 953.29h3M369.78 951.99v2.6M411.02 953.29h2.61M411.02 951.99v2.6M415.57 953.29h2.73M415.57 951.99v2.6M427.44 953.29h4.58M427.44 951.99v2.6M436.26 953.29h4.82M436.26 951.99v2.6M464.27 953.29h6.12M464.27 951.99v2.6M498.17 953.29h5.08M498.17 951.99v2.6M154.71 967.42h1.31M154.71 966.12v2.6M158.96 967.42h5.27M158.96 966.12v2.6M171.35 967.42h2.68M171.35 966.12v2.6M177.08 967.42h5.07M177.08 966.12v2.6M229.86 967.42h4.57M229.86 966.12v2.6M244.86 967.42h2.64M244.86 966.12v2.6M282.61 967.42h1.31M282.61 966.12v2.6M285.17 967.42h2.76M285.17 966.12v2.6M289.01 967.42h3.13M289.01 966.12v2.6M297.87 967.42h4.71M297.87 966.12v2.6M302.52 967.42h3.33M302.52 966.12v2.6M337.72 967.42h6.69M337.72 966.12v2.6M346.34 967.42h4.6M346.34 966.12v2.6M365.45 967.42h3.42M365.45 966.12v2.6M372.74 967.42h2.66M372.74 966.12v2.6M415.21 967.42h4.02M415.21 966.12v2.6M420.98 967.42h3.86M420.98 966.12v2.6M434.09 967.42h2.13M434.09 966.12v2.6M440.26 967.42h4.18M440.26 966.12v2.6M469.29 967.42h2.69M469.29 966.12v2.6M496.78 967.42h6.47M496.78 966.12v2.6M157.16 976.46h4.84M157.16 975.16v2.6M162.1 976.46h3.25M162.1 975.16v2.6M167.25 976.46h5.19M167.25 975.16v2.6M206.44 976.46h4.47M206.44 975.16v2.6M215.7 976.46h4.08M215.7 975.16v2.6M224.2 976.46h3.7M224.2 975.16v2.6M243.68 976.46h3.82M243.68 975.16v2.6M283.81 976.46h4.12M283.81 975.16v2.6M292.36 976.46h3.04M292.36 975.16v2.6M296.55 976.46h2.11M296.55 975.16v2.6M335.6 976.46h6.19M335.6 975.16v2.6M342.86 976.46h2.2M342.86 975.16v2.6M351.43 976.46h2.5M351.43 975.16v2.6M368.43 976.46h2.77M368.43 975.16v2.6M370.44 976.46h4.96M370.44 975.16v2.6M411.47 976.46h3.66M411.47 975.16v2.6M419.41 976.46h3.84M419.41 975.16v2.6M424.54 976.46h3.57M424.54 975.16v2.6M442.7 976.46h3.33M442.7 975.16v2.6M468.23 976.46h7.01M468.23 975.16v2.6M499.32 976.46h3.93M499.32 975.16v2.6M157.55 985.51h2.48M157.55 984.21v2.6M169.12 985.51h2.76M169.12 984.21v2.6M179.89 985.51h4.6M179.89 984.21v2.6M190.78 985.51h2.2M190.78 984.21v2.6M230.89 985.51h6.81M230.89 984.21v2.6M242.34 985.51h5.16M242.34 984.21v2.6M284.42 985.51h4.44M284.42 984.21v2.6M294.76 985.51h4.56M294.76 984.21v2.6M312.28 985.51h3.38M312.28 984.21v2.6M344.47 985.51h6.48M344.47 984.21v2.6M353.11 985.51h4.37M353.11 984.21v2.6M369.11 985.51h2.09M369.11 984.21v2.6M372.17 985.51h3.23M372.17 984.21v2.6M431.39 985.51h4.84M431.39 984.21v2.6M444.85 985.51h2.77M444.85 984.21v2.6M451.76 985.51h2.39M451.76 984.21v2.6M475.24 985.51h2.62M475.24 984.21v2.6M498.98 985.51h4.27M498.98 984.21v2.6M155.55 994.55h3.27M155.55 993.25v2.6M161.65 994.55h5.19M161.65 993.25v2.6M171.46 994.55h2.58M171.46 993.25v2.6M179.16 994.55h3M179.16 993.25v2.6M231.87 994.55h5.83M231.87 993.25v2.6M242.75 994.55h4.75M242.75 993.25v2.6M282.61 994.55h1.31M282.61 993.25v2.6M286.22 994.55h4.98M286.22 993.25v2.6M302.86 994.55h2.06M302.86 993.25v2.6M341.24 994.55h6.16M341.24 993.25v2.6M351.12 994.55h3.75M351.12 993.25v2.6M364.87 994.55h3.72M364.87 993.25v2.6M371.12 994.55h4.28M371.12 993.25v2.6M417.3 994.55h4.27M417.3 993.25v2.6M421.42 994.55h4.07M421.42 993.25v2.6M434.64 994.55h2.61M434.64 993.25v2.6M440.17 994.55h2.59M440.17 993.25v2.6M465.56 994.55h4.08M465.56 993.25v2.6M498.93 994.55h4.32M498.93 993.25v2.6M154.71 1003.59h1.31M154.71 1002.29v2.6M155.31 1003.59h3.51M155.31 1002.29v2.6M158.34 1003.59h2.62M158.34 1002.29v2.6M170.93 1003.59h2.17M170.93 1002.29v2.6M227.36 1003.59h5.49M227.36 1002.29v2.6M243.07 1003.59h4.43M243.07 1002.29v2.6M282.61 1003.59h1.31M282.61 1002.29v2.6M282.63 1003.59h4.65M282.63 1002.29v2.6M296.32 1003.59h4.68M296.32 1002.29v2.6M340.75 1003.59h5.24M340.75 1002.29v2.6M351.09 1003.59h3.78M351.09 1002.29v2.6M369.43 1003.59h3.36M369.43 1002.29v2.6M373.01 1003.59h2.39M373.01 1002.29v2.6M415.88 1003.59h3.17M415.88 1002.29v2.6M430.78 1003.59h3.2M430.78 1002.29v2.6M440.38 1003.59h2.38M440.38 1002.29v2.6M465.39 1003.59h6.59M465.39 1002.29v2.6M498.8 1003.59h4.45M498.8 1002.29v2.6M154.71 1012.63h1.31M154.71 1011.33v2.6M156.37 1012.63h3.66M156.37 1011.33v2.6M164.7 1012.63h4.39M164.7 1011.33v2.6M178.54 1012.63h3.61M178.54 1011.33v2.6M231.13 1012.63h7.04M231.13 1011.33v2.6M242.94 1012.63h4.56M242.94 1011.33v2.6M282.61 1012.63h1.31M282.61 1011.33v2.6M282 1012.63h5.28M282 1011.33v2.6M299.39 1012.63h3.2M299.39 1011.33v2.6M342.77 1012.63h4.62M342.77 1011.33v2.6M351.85 1012.63h2.08M351.85 1011.33v2.6M366.53 1012.63h2.99M366.53 1011.33v2.6M373.19 1012.63h2.21M373.19 1011.33v2.6M415.09 1012.63h4.89M415.09 1011.33v2.6M418.09 1012.63h5.16M418.09 1011.33v2.6M433.15 1012.63h4.75M433.15 1011.33v2.6M440.62 1012.63h2.14M440.62 1011.33v2.6M466.97 1012.63h5M466.97 1011.33v2.6M497.92 1012.63h5.33M497.92 1011.33v2.6M155.72 1021.68h3.66M155.72 1020.38v2.6M166.49 1021.68h4.93M166.49 1020.38v2.6M175.18 1021.68h3.8M175.18 1020.38v2.6M185 1021.68h3.69M185 1020.38v2.6M230.89 1021.68h4.2M230.89 1020.38v2.6M242.55 1021.68h4.95M242.55 1020.38v2.6M283.72 1021.68h2.53M283.72 1020.38v2.6M292.04 1021.68h4.02M292.04 1020.38v2.6M304.56 1021.68h4.56M304.56 1020.38v2.6M307.98 1021.68h5.06M307.98 1020.38v2.6M341.05 1021.68h6.34M341.05 1020.38v2.6M349.58 1021.68h2.95M349.58 1020.38v2.6M365.94 1021.68h5.26M365.94 1020.38v2.6M370.69 1021.68h4.71M370.69 1020.38v2.6M424.66 1021.68h3.44M424.66 1020.38v2.6M436.93 1021.68h4.15M436.93 1020.38v2.6M444.07 1021.68h4.1M444.07 1020.38v2.6M449.15 1021.68h3.32M449.15 1020.38v2.6M475.18 1021.68h2.67M475.18 1020.38v2.6M500.05 1021.68h3.2M500.05 1020.38v2.6M154.71 1035.81h1.31M154.71 1034.51v2.6M157.53 1035.81h4.46M157.53 1034.51v2.6M164.36 1035.81h4.72M164.36 1034.51v2.6M173.13 1035.81h2.49M173.13 1034.51v2.6M220.6 1035.81h4.02M220.6 1034.51v2.6M242.92 1035.81h4.58M242.92 1034.51v2.6M283.45 1035.81h3.27M283.45 1034.51v2.6M285.8 1035.81h3.72M285.8 1034.51v2.6M290.05 1035.81h2.73M290.05 1034.51v2.6M293.74 1035.81h4M293.74 1034.51v2.6M332.03 1035.81h4.82M332.03 1034.51v2.6M338.89 1035.81h4.5M338.89 1034.51v2.6M364.38 1035.81h5.14M364.38 1034.51v2.6M370.89 1035.81h4.51M370.89 1034.51v2.6M412.12 1035.81h3M412.12 1034.51v2.6M422.6 1035.81h2.24M422.6 1034.51v2.6M424.42 1035.81h5.09M424.42 1034.51v2.6M432.02 1035.81h3.55M432.02 1034.51v2.6M434.83 1035.81h4.66M434.83 1034.51v2.6M466.01 1035.81h4.38M466.01 1034.51v2.6M496.62 1035.81h6.63M496.62 1034.51v2.6M157.85 1044.85h3.11M157.85 1043.55v2.6M167.78 1044.85h4.67M167.78 1043.55v2.6M174.28 1044.85h4.7M174.28 1043.55v2.6M209.63 1044.85h4.26M209.63 1043.55v2.6M216.08 1044.85h5.29M216.08 1043.55v2.6M221.52 1044.85h3.11M221.52 1043.55v2.6M243.04 1044.85h4.46M243.04 1043.55v2.6M284.68 1044.85h4.84M284.68 1043.55v2.6M293.48 1044.85h2.57M293.48 1043.55v2.6M301.12 1044.85h2.4M301.12 1043.55v2.6M331.65 1044.85h6.87M331.65 1043.55v2.6M342.21 1044.85h2.85M342.21 1043.55v2.6M346.14 1044.85h2.19M346.14 1043.55v2.6M373.18 1044.85h2.22M373.18 1043.55v2.6M411.02 1044.85h2.61M411.02 1043.55v2.6M413.5 1044.85h4.8M413.5 1043.55v2.6M422.48 1044.85h4.04M422.48 1043.55v2.6M433.99 1044.85h3.91M433.99 1043.55v2.6M445.52 1044.85h2.09M445.52 1043.55v2.6M471.83 1044.85h5.09M471.83 1043.55v2.6M499.45 1044.85h3.8M499.45 1043.55v2.6M157.49 1053.89h2.83M157.49 1052.59v2.6M171.74 1053.89h2.3M171.74 1052.59v2.6M174.85 1053.89h2.45M174.85 1052.59v2.6M187.96 1053.89h4.74M187.96 1052.59v2.6M229.13 1053.89h5.95M229.13 1052.59v2.6M244.74 1053.89h2.76M244.74 1052.59v2.6M283.62 1053.89h3.66M283.62 1052.59v2.6M292.4 1053.89h2.71M292.4 1052.59v2.6M311.41 1053.89h4.25M311.41 1052.59v2.6M316.16 1053.89h3.23M316.16 1052.59v2.6M348.49 1053.89h4.04M348.49 1052.59v2.6M351.17 1053.89h4.35M351.17 1052.59v2.6M357 1053.89h2.06M357 1052.59v2.6M370.59 1053.89h4.81M370.59 1052.59v2.6M426.74 1053.89h2.39M426.74 1052.59v2.6M446.67 1053.89h2.44M446.67 1052.59v2.6M450.32 1053.89h5.32M450.32 1052.59v2.6M454.6 1053.89h4.4M454.6 1052.59v2.6M481.59 1053.89h2.99M481.59 1052.59v2.6M500.2 1053.89h3.05M500.2 1052.59v2.6M155.55 1062.94h3.27M155.55 1061.64v2.6M161.61 1062.94h2.62M161.61 1061.64v2.6M167.47 1062.94h3.3M167.47 1061.64v2.6M172.86 1062.94h3.51M172.86 1061.64v2.6M223.58 1062.94h4.31M223.58 1061.64v2.6M242.63 1062.94h4.87M242.63 1061.64v2.6M282.89 1062.94h1.96M282.89 1061.64v2.6M286.42 1062.94h3.1M286.42 1061.64v2.6M291.85 1062.94h2.62M291.85 1061.64v2.6M296.18 1062.94h4.17M296.18 1061.64v2.6M337.73 1062.94h5M337.73 1061.64v2.6M345.01 1062.94h4.91M345.01 1061.64v2.6M368.48 1062.94h4.31M368.48 1061.64v2.6M372.44 1062.94h2.96M372.44 1061.64v2.6M412.87 1062.94h3.84M412.87 1061.64v2.6M425.42 1062.94h2.68M425.42 1061.64v2.6M428.9 1062.94h3.41M428.9 1061.64v2.6M435.74 1062.94h3.75M435.74 1061.64v2.6M465.21 1062.94h6.77M465.21 1061.64v2.6M497.64 1062.94h5.61M497.64 1061.64v2.6M154.99 1071.98h1.96M154.99 1070.68v2.6M154.83 1071.98h5.2M154.83 1070.68v2.6M158.52 1071.98h4.03M158.52 1070.68v2.6M167.65 1071.98h2.18M167.65 1070.68v2.6M227.11 1071.98h5.74M227.11 1070.68v2.6M242.22 1071.98h5.28M242.22 1070.68v2.6M292.16 1071.98h3.89M292.16 1070.68v2.6M342.45 1071.98h4.2M342.45 1070.68v2.6M353.32 1071.98h2.48M353.32 1070.68v2.6M368.4 1071.98h4.38M368.4 1070.68v2.6M371.94 1071.98h3.46M371.94 1070.68v2.6M411.02 1071.98h2.61M411.02 1070.68v2.6M416.91 1071.98h2.33M416.91 1070.68v2.6M417.56 1071.98h5.04M417.56 1070.68v2.6M432.92 1071.98h2.65M432.92 1070.68v2.6M461.21 1071.98h5.92M461.21 1070.68v2.6M498.88 1071.98h4.37M498.88 1070.68v2.6M154.71 1081.02h1.31M154.71 1079.72v2.6M157.03 1081.02h2.35M157.03 1079.72v2.6M162.66 1081.02h3.25M162.66 1079.72v2.6M175.12 1081.02h3.86M175.12 1079.72v2.6M223.87 1081.02h6.36M223.87 1079.72v2.6M244.69 1081.02h2.81M244.69 1079.72v2.6M282.61 1081.02h1.31M282.61 1079.72v2.6M281.25 1081.02h5M281.25 1079.72v2.6M289.62 1081.02h2.23M289.62 1079.72v2.6M301.15 1081.02h3.77M301.15 1079.72v2.6M340.08 1081.02h4.33M340.08 1079.72v2.6M348.85 1081.02h2.75M348.85 1079.72v2.6M367.71 1081.02h3.49M367.71 1079.72v2.6M371.07 1081.02h4.33M371.07 1079.72v2.6M411.47 1081.02h3.66M411.47 1079.72v2.6M418.53 1081.02h3.04M418.53 1079.72v2.6M430.93 1081.02h4.64M430.93 1079.72v2.6M441.76 1081.02h2.68M441.76 1079.72v2.6M469.24 1081.02h4.42M469.24 1079.72v2.6M497.96 1081.02h5.29M497.96 1079.72v2.6M154.71 1090.07h1.31M154.71 1088.77v2.6M159.6 1090.07h4.63M159.6 1088.77v2.6M174.01 1090.07h4.41M174.01 1088.77v2.6M184 1090.07h2.45M184 1088.77v2.6M230.14 1090.07h4.94M230.14 1088.77v2.6M243.72 1090.07h3.78M243.72 1088.77v2.6M282.61 1090.07h1.31M282.61 1088.77v2.6M283.65 1090.07h5.21M283.65 1088.77v2.6M288.46 1090.07h4.33M288.46 1088.77v2.6M302.2 1090.07h3.65M302.2 1088.77v2.6M306.34 1090.07h4.46M306.34 1088.77v2.6M345.73 1090.07h4.19M345.73 1088.77v2.6M352.49 1090.07h3.02M352.49 1088.77v2.6M366.65 1090.07h5.01M366.65 1088.77v2.6M371.76 1090.07h3.64M371.76 1088.77v2.6M417.74 1090.07h3.83M417.74 1088.77v2.6M424.13 1090.07h5M424.13 1088.77v2.6M438.7 1090.07h2.38M438.7 1088.77v2.6M441.42 1090.07h4.61M441.42 1088.77v2.6M450.1 1090.07h2.36M450.1 1088.77v2.6M473.86 1090.07h4.65M473.86 1088.77v2.6M500.8 1090.07h2.45M500.8 1088.77v2.6M155.55 1099.11h3.27M155.55 1097.81v2.6M163.79 1099.11h4.73M163.79 1097.81v2.6M174.68 1099.11h3.74M174.68 1097.81v2.6M187.55 1099.11h4.41M187.55 1097.81v2.6M231.61 1099.11h4.5M231.61 1097.81v2.6M244.21 1099.11h3.29M244.21 1097.81v2.6M282.89 1099.11h1.96M282.89 1097.81v2.6M290.63 1099.11h2.15M290.63 1097.81v2.6M307.41 1099.11h4.98M307.41 1097.81v2.6M311.37 1099.11h4.29M311.37 1097.81v2.6M344.75 1099.11h5.17M344.75 1097.81v2.6M350.38 1099.11h5.13M350.38 1097.81v2.6M369.58 1099.11h3.2M369.58 1097.81v2.6M372.65 1099.11h2.75M372.65 1097.81v2.6M422.67 1099.11h3.85M422.67 1097.81v2.6M438.76 1099.11h4.93M438.76 1097.81v2.6M450.61 1099.11h3.54M450.61 1097.81v2.6M455.05 1099.11h3.95M455.05 1097.81v2.6M479.94 1099.11h3.43M479.94 1097.81v2.6M499.91 1099.11h3.34M499.91 1097.81v2.6M155.79 1108.15h3.03M155.79 1106.85v2.6M165.62 1108.15h3.47M165.62 1106.85v2.6M174.63 1108.15h3.79M174.63 1106.85v2.6M184.56 1108.15h2.54M184.56 1106.85v2.6M231.99 1108.15h6.17M231.99 1106.85v2.6M243.17 1108.15h4.33M243.17 1106.85v2.6M282.89 1108.15h1.96M282.89 1106.85v2.6M287.72 1108.15h4.13M287.72 1106.85v2.6M293.91 1108.15h2.15M293.91 1106.85v2.6M303.65 1108.15h3.88M303.65 1106.85v2.6M309.38 1108.15h4.69M309.38 1106.85v2.6M350.93 1108.15h3.94M350.93 1106.85v2.6M356.43 1108.15h4.97M356.43 1106.85v2.6M371.42 1108.15h3.98M371.42 1106.85v2.6M420.35 1108.15h4.49M420.35 1106.85v2.6M425.38 1108.15h3.75M425.38 1106.85v2.6M440.02 1108.15h4.42M440.02 1106.85v2.6M449.84 1108.15h4.31M449.84 1106.85v2.6M477.81 1108.15h2.38M477.81 1106.85v2.6M497.94 1108.15h5.31M497.94 1106.85v2.6M155.72 1117.19h3.66M155.72 1115.89v2.6M169.37 1117.19h4.66M169.37 1115.89v2.6M179.37 1117.19h4.46M179.37 1115.89v2.6M189.62 1117.19h4.02M189.62 1115.89v2.6M231.53 1117.19h6.17M231.53 1115.89v2.6M242.41 1117.19h5.09M242.41 1115.89v2.6M284.33 1117.19h2.95M284.33 1115.89v2.6M293.29 1117.19h3.7M293.29 1115.89v2.6M312.14 1117.19h4.45M312.14 1115.89v2.6M349.93 1117.19h4M349.93 1115.89v2.6M353.9 1117.19h4.88M353.9 1115.89v2.6M372.45 1117.19h2.95M372.45 1115.89v2.6M428 1117.19h3.37M428 1115.89v2.6M446.13 1117.19h2.98M446.13 1115.89v2.6M450.04 1117.19h4.11M450.04 1115.89v2.6M476.98 1117.19h3.21M476.98 1115.89v2.6M499.18 1117.19h4.07M499.18 1115.89v2.6M155.55 1126.24h3.27M155.55 1124.94v2.6M168.27 1126.24h2.5M168.27 1124.94v2.6M176.86 1126.24h3.71M176.86 1124.94v2.6M185.57 1126.24h4.8M185.57 1124.94v2.6M232.31 1126.24h4.46M232.31 1124.94v2.6M243.55 1126.24h3.95M243.55 1124.94v2.6M283.62 1126.24h3.66M283.62 1124.94v2.6M292.86 1126.24h3.2M292.86 1124.94v2.6M310.01 1126.24h4.06M310.01 1124.94v2.6M342.87 1126.24h5.46M342.87 1124.94v2.6M351.09 1126.24h2.84M351.09 1124.94v2.6M369.28 1126.24h3.51M369.28 1124.94v2.6M370.42 1126.24h4.98M370.42 1124.94v2.6M423.83 1126.24h4.27M423.83 1124.94v2.6M429.52 1126.24h2.79M429.52 1124.94v2.6M442.54 1126.24h5.07M442.54 1124.94v2.6M450.15 1126.24h4M450.15 1124.94v2.6M476.19 1126.24h2.32M476.19 1124.94v2.6M498.93 1126.24h4.32M498.93 1124.94v2.6M154.99 1135.28h1.96M154.99 1133.98v2.6M159.52 1135.28h4.72M159.52 1133.98v2.6M168.58 1135.28h3.87M168.58 1133.98v2.6M175.11 1135.28h4.8M175.11 1133.98v2.6M223.33 1135.28h6.91M223.33 1133.98v2.6M242.57 1135.28h4.93M242.57 1133.98v2.6M284.34 1135.28h2.94M284.34 1133.98v2.6M287.06 1135.28h4.79M287.06 1133.98v2.6M303.43 1135.28h2.43M303.43 1133.98v2.6M335.75 1135.28h6.04M335.75 1133.98v2.6M344.96 1135.28h4.95M344.96 1133.98v2.6M366.75 1135.28h4.45M366.75 1133.98v2.6M371.25 1135.28h4.15M371.25 1133.98v2.6M417.64 1135.28h2.34M417.64 1133.98v2.6M424.37 1135.28h3.74M424.37 1133.98v2.6M430.77 1135.28h2.84M430.77 1133.98v2.6M435.4 1135.28h4.09M435.4 1133.98v2.6M443.71 1135.28h3.9M443.71 1133.98v2.6M471.09 1135.28h4.15M471.09 1133.98v2.6M498.05 1135.28h5.2M498.05 1133.98v2.6M155.55 1144.32h3.27M155.55 1143.02v2.6M165.37 1144.32h3.72M165.37 1143.02v2.6M172.53 1144.32h3.09M172.53 1143.02v2.6M179.52 1144.32h2.64M179.52 1143.02v2.6M226.43 1144.32h4.74M226.43 1143.02v2.6M243.89 1144.32h3.61M243.89 1143.02v2.6M282.89 1144.32h1.96M282.89 1143.02v2.6M288.29 1144.32h3.56M288.29 1143.02v2.6M303.2 1144.32h4.34M303.2 1143.02v2.6M341.25 1144.32h7.08M341.25 1143.02v2.6M349.15 1144.32h4.03M349.15 1143.02v2.6M368.83 1144.32h2.37M368.83 1143.02v2.6M371.21 1144.32h4.19M371.21 1143.02v2.6M421.09 1144.32h2.16M421.09 1143.02v2.6M427.74 1144.32h5.22M427.74 1143.02v2.6M432.63 1144.32h5.28M432.63 1143.02v2.6M438.65 1144.32h2.42M438.65 1143.02v2.6M449.16 1144.32h3.31M449.16 1143.02v2.6M477.84 1144.32h2.35M477.84 1143.02v2.6M498.12 1144.32h5.13M498.12 1143.02v2.6M154.99 1158.45h1.96M154.99 1157.15v2.6M164.37 1158.45h4.72M164.37 1157.15v2.6M175.02 1158.45h3.96M175.02 1157.15v2.6M188.47 1158.45h4.23M188.47 1157.15v2.6M229.07 1158.45h6.01M229.07 1157.15v2.6M243.35 1158.45h4.15M243.35 1157.15v2.6M283.31 1158.45h2.94M283.31 1157.15v2.6M294.55 1158.45h2.43M294.55 1157.15v2.6M310.54 1158.45h5.12M310.54 1157.15v2.6M343.44 1158.45h4.88M343.44 1157.15v2.6M349.35 1158.45h3.83M349.35 1157.15v2.6M366.06 1158.45h4.39M366.06 1157.15v2.6M370.98 1158.45h4.42M370.98 1157.15v2.6M424.82 1158.45h3.28M424.82 1157.15v2.6M429.95 1158.45h2.35M429.95 1157.15v2.6M443.42 1158.45h5.23M443.42 1157.15v2.6M450.22 1158.45h3.93M450.22 1157.15v2.6M477.53 1158.45h2.66M477.53 1157.15v2.6M500.3 1158.45h2.95M500.3 1157.15v2.6M155.27 1167.5h2.61M155.27 1166.2v2.6M169.11 1167.5h4.92M169.11 1166.2v2.6M179.05 1167.5h3.85M179.05 1166.2v2.6M191.34 1167.5h4.54M191.34 1166.2v2.6M229.23 1167.5h5.86M229.23 1166.2v2.6M244 1167.5h3.5M244 1166.2v2.6M283.31 1167.5h2.94M283.31 1166.2v2.6M292.41 1167.5h3.64M292.41 1166.2v2.6M312.41 1167.5h4.17M312.41 1166.2v2.6M315.38 1167.5h3.55M315.38 1166.2v2.6M343.35 1167.5h4.98M343.35 1166.2v2.6M350.87 1167.5h3.06M350.87 1166.2v2.6M367.15 1167.5h3.3M367.15 1166.2v2.6M373.33 1167.5h2.07M373.33 1166.2v2.6M422.96 1167.5h5.14M422.96 1166.2v2.6M430.21 1167.5h2.09M430.21 1166.2v2.6M446.09 1167.5h3.02M446.09 1166.2v2.6M450.82 1167.5h3.32M450.82 1166.2v2.6M458.04 1167.5h2.55M458.04 1166.2v2.6M476.65 1167.5h5.13M476.65 1166.2v2.6M498.89 1167.5h4.36M498.89 1166.2v2.6M154.99 1176.54h1.96M154.99 1175.24v2.6M168.47 1176.54h4.63M168.47 1175.24v2.6M180.27 1176.54h5.25M180.27 1175.24v2.6M189.04 1176.54h3.67M189.04 1175.24v2.6M225.2 1176.54h4.38M225.2 1175.24v2.6M245.29 1176.54h2.21M245.29 1175.24v2.6M283.31 1176.54h2.94M283.31 1175.24v2.6M293.73 1176.54h2.32M293.73 1175.24v2.6M296.23 1176.54h4.11M296.23 1175.24v2.6M304.26 1176.54h4.86M304.26 1175.24v2.6M309.1 1176.54h4.97M309.1 1175.24v2.6M339.34 1176.54h2.46M339.34 1175.24v2.6M346.79 1176.54h3.13M346.79 1175.24v2.6M364.18 1176.54h3.75M364.18 1175.24v2.6M370.11 1176.54h5.29M370.11 1175.24v2.6M419.47 1176.54h3.78M419.47 1175.24v2.6M427.17 1176.54h2.34M427.17 1175.24v2.6M434.12 1176.54h4.72M434.12 1175.24v2.6M442.51 1176.54h4.45M442.51 1175.24v2.6M450.23 1176.54h4.86M450.23 1175.24v2.6M468.41 1176.54h5.25M468.41 1175.24v2.6M498.12 1176.54h5.13M498.12 1175.24v2.6M154.99 1190.67h1.96M154.99 1189.37v2.6M157.59 1190.67h3.37M157.59 1189.37v2.6M165.06 1190.67h2.43M165.06 1189.37v2.6M203.18 1190.67h6.98M203.18 1189.37v2.6M213.43 1190.67h4.67M213.43 1189.37v2.6M241.64 1190.67h5.86M241.64 1189.37v2.6M287.31 1190.67h2.21M287.31 1189.37v2.6M291.12 1190.67h2.69M291.12 1189.37v2.6M319.28 1190.67h4.6M319.28 1189.37v2.6M325.24 1190.67h4.14M325.24 1189.37v2.6M335.47 1190.67h3.71M335.47 1189.37v2.6M366.59 1190.67h5.08M366.59 1189.37v2.6M370.8 1190.67h4.6M370.8 1189.37v2.6M416.52 1190.67h2.53M416.52 1189.37v2.6M424.7 1190.67h4.8M424.7 1189.37v2.6M440.3 1190.67h4.14M440.3 1189.37v2.6M447.94 1190.67h2.1M447.94 1189.37v2.6M474.59 1190.67h5.6M474.59 1189.37v2.6M499.21 1190.67h4.04M499.21 1189.37v2.6M154.99 1204.8h1.96M154.99 1203.5v2.6M156.87 1204.8h5.12M156.87 1203.5v2.6M167.11 1204.8h3.65M167.11 1203.5v2.6M172.7 1204.8h3.66M172.7 1203.5v2.6M182.84 1204.8h5.29M182.84 1203.5v2.6M200.92 1204.8h4.11M200.92 1203.5v2.6M223.02 1204.8h2.26M223.02 1203.5v2.6M244.28 1204.8h3.22M244.28 1203.5v2.6M282.89 1204.8h1.96M282.89 1203.5v2.6M289.13 1204.8h2.72M289.13 1203.5v2.6M293.51 1204.8h2.54M293.51 1203.5v2.6M305.14 1204.8h3.99M305.14 1203.5v2.6M341.8 1204.8h4.85M341.8 1203.5v2.6M361.56 1204.8h4.5M361.56 1203.5v2.6M373.17 1204.8h2.23M373.17 1203.5v2.6M411.02 1204.8h2.61M411.02 1203.5v2.6M413.94 1204.8h5.11M413.94 1203.5v2.6M436.26 1204.8h3.24M436.26 1203.5v2.6M439.43 1204.8h3.33M439.43 1203.5v2.6M444.82 1204.8h2.79M444.82 1203.5v2.6M466.37 1204.8h4.02M466.37 1203.5v2.6M496.65 1204.8h6.6M496.65 1203.5v2.6M158.31 1213.84h4.25M158.31 1212.54v2.6M165.57 1213.84h2.58M165.57 1212.54v2.6M179.04 1213.84h3.11M179.04 1212.54v2.6M224.05 1213.84h7.12M224.05 1212.54v2.6M242.65 1213.84h4.85M242.65 1212.54v2.6M282.61 1213.84h1.31M282.61 1212.54v2.6M290.61 1213.84h2.17M290.61 1212.54v2.6M300.08 1213.84h4.84M300.08 1212.54v2.6M306.87 1213.84h2.25M306.87 1212.54v2.6M343.29 1213.84h4.1M343.29 1212.54v2.6M350.1 1213.84h2.43M350.1 1212.54v2.6M369.23 1213.84h4.3M369.23 1212.54v2.6M413.65 1213.84h2.41M413.65 1212.54v2.6M419.46 1213.84h3.79M419.46 1212.54v2.6M432.23 1213.84h3.34M432.23 1212.54v2.6M439.2 1213.84h3.56M439.2 1212.54v2.6M445.13 1213.84h2.49M445.13 1212.54v2.6M472.38 1213.84h2.87M472.38 1212.54v2.6M497.73 1213.84h5.52M497.73 1212.54v2.6M156.72 1227.97h3.31M156.72 1226.67v2.6M172.3 1227.97h4.06M172.3 1226.67v2.6M189.63 1227.97h4.01M189.63 1226.67v2.6M238.64 1227.97h4.94M238.64 1226.67v2.6M244.49 1227.97h3.01M244.49 1226.67v2.6M306.11 1227.97h3.95M306.11 1226.67v2.6M311.54 1227.97h2.53M311.54 1226.67v2.6M346.6 1227.97h6.58M346.6 1226.67v2.6M355.34 1227.97h5.12M355.34 1226.67v2.6M364.9 1227.97h3.97M364.9 1226.67v2.6M370.94 1227.97h4.46M370.94 1226.67v2.6M411.95 1227.97h2.61M411.95 1226.67v2.6M412.32 1227.97h5.04M412.32 1226.67v2.6M440.44 1227.97h5.58M440.44 1226.67v2.6M448.33 1227.97h4.14M448.33 1226.67v2.6M469.6 1227.97h4.71M469.6 1226.67v2.6M496.71 1227.97h6.54M496.71 1226.67v2.6M154.99 1237.02h1.96M154.99 1235.72v2.6M159.13 1237.02h5.1M159.13 1235.72v2.6M179.63 1237.02h3.27M179.63 1235.72v2.6M240.48 1237.02h5.44M240.48 1235.72v2.6M243.4 1237.02h4.1M243.4 1235.72v2.6M298.4 1237.02h5.13M298.4 1235.72v2.6M303.21 1237.02h5.26M303.21 1235.72v2.6M350.83 1237.02h4.03M350.83 1235.72v2.6M358.35 1237.02h3.7M358.35 1235.72v2.6M364.31 1237.02h5.21M364.31 1235.72v2.6M371.67 1237.02h3.73M371.67 1235.72v2.6M414.01 1237.02h2.05M414.01 1235.72v2.6M416.24 1237.02h4.39M416.24 1235.72v2.6M435.35 1237.02h5.17M435.35 1235.72v2.6M440.57 1237.02h4.43M440.57 1235.72v2.6M466.38 1237.02h2.33M466.38 1235.72v2.6M496.85 1237.02h6.4M496.85 1235.72v2.6M168.39 1246.06h2.37M168.39 1244.76v2.6M181.53 1246.06h3.98M181.53 1244.76v2.6M186.15 1246.06h4.22M186.15 1244.76v2.6M238.11 1246.06h7.06M238.11 1244.76v2.6M244.76 1246.06h2.74M244.76 1244.76v2.6M311.88 1246.06h5.46M311.88 1244.76v2.6M359.23 1246.06h5.43M359.23 1244.76v2.6M369.71 1246.06h3.08M369.71 1244.76v2.6M414.69 1246.06h5.29M414.69 1244.76v2.6M448.38 1246.06h6.71M448.38 1244.76v2.6M476.57 1246.06h5.21M476.57 1244.76v2.6M499.52 1246.06h3.73M499.52 1244.76v2.6M154.71 1260.19h1.31M154.71 1258.89v2.6M154.92 1260.19h3.9M154.92 1258.89v2.6M157.85 1260.19h3.12M157.85 1258.89v2.6M169.08 1260.19h4.3M169.08 1258.89v2.6M240.66 1260.19h5.25M240.66 1258.89v2.6M242.87 1260.19h4.63M242.87 1258.89v2.6M294.11 1260.19h3.62M294.11 1258.89v2.6M343.08 1260.19h6.83M343.08 1258.89v2.6M360.25 1260.19h3.76M360.25 1258.89v2.6M366.24 1260.19h4.96M366.24 1258.89v2.6M372.95 1260.19h2.45M372.95 1258.89v2.6M414.53 1260.19h2.19M414.53 1258.89v2.6M423.03 1260.19h5.07M423.03 1258.89v2.6M437.64 1260.19h2.88M437.64 1258.89v2.6M460.83 1260.19h3.02M460.83 1258.89v2.6M497.29 1260.19h5.96M497.29 1258.89v2.6M154.99 1269.23h1.96M154.99 1267.93v2.6M156.87 1269.23h3.16M156.87 1267.93v2.6M168.46 1269.23h3.98M168.46 1267.93v2.6M241.68 1269.23h4.24M241.68 1267.93v2.6M245.42 1269.23h2.08M245.42 1267.93v2.6M287.8 1269.23h4.98M287.8 1267.93v2.6M295.96 1269.23h2.71M295.96 1267.93v2.6M345.86 1269.23h6.67M345.86 1267.93v2.6M360.97 1269.23h3.04M360.97 1267.93v2.6M367.86 1269.23h3.34M367.86 1267.93v2.6M372.93 1269.23h2.47M372.93 1267.93v2.6M411.25 1269.23h2.39M411.25 1267.93v2.6M425.3 1269.23h2.8M425.3 1267.93v2.6M433.17 1269.23h4.74M433.17 1267.93v2.6M458.62 1269.23h3M458.62 1267.93v2.6M496.37 1269.23h6.88M496.37 1267.93v2.6M154.71 1283.37h1.31M154.71 1282.07v2.6M157.01 1283.37h3.96M157.01 1282.07v2.6M166.99 1283.37h4.9M166.99 1282.07v2.6M233.58 1283.37h4.58M233.58 1282.07v2.6M237.24 1283.37h3.72M237.24 1282.07v2.6M240.85 1283.37h2.45M240.85 1282.07v2.6M245.41 1283.37h2.09M245.41 1282.07v2.6M285.64 1283.37h2.94M285.64 1282.07v2.6M292.74 1283.37h4.99M292.74 1282.07v2.6M335.88 1283.37h6.85M335.88 1282.07v2.6M352.38 1283.37h5.09M352.38 1282.07v2.6M360.34 1283.37h4.79M360.34 1282.07v2.6M370.48 1283.37h4.92M370.48 1282.07v2.6M410.74 1283.37h1.96M410.74 1282.07v2.6M415.88 1283.37h4.1M415.88 1282.07v2.6M424.2 1283.37h2.32M424.2 1282.07v2.6M435.68 1283.37h3.81M435.68 1282.07v2.6M458.04 1283.37h3.58M458.04 1282.07v2.6M496.67 1283.37h6.58M496.67 1282.07v2.6M154.99 1297.5h1.96M154.99 1296.2v2.6M175.84 1297.5h2.58M175.84 1296.2v2.6M192.07 1297.5h3.15M192.07 1296.2v2.6M201.74 1297.5h4.97M201.74 1296.2v2.6M230.47 1297.5h3.3M230.47 1296.2v2.6M240.41 1297.5h3.17M240.41 1296.2v2.6M245.36 1297.5h2.14M245.36 1296.2v2.6M283.62 1297.5h3.66M283.62 1296.2v2.6M299.14 1297.5h3.45M299.14 1296.2v2.6M303.98 1297.5h2.53M303.98 1296.2v2.6M308.6 1297.5h2.86M308.6 1296.2v2.6M311.82 1297.5h3.83M311.82 1296.2v2.6M338.92 1297.5h4.47M338.92 1296.2v2.6M348.66 1297.5h3.87M348.66 1296.2v2.6M355.96 1297.5h3.75M355.96 1296.2v2.6M363.09 1297.5h3.9M363.09 1296.2v2.6M371.95 1297.5h3.45M371.95 1296.2v2.6M428.85 1297.5h2.52M428.85 1296.2v2.6M437.31 1297.5h2.84M437.31 1296.2v2.6M439.08 1297.5h4.43M439.08 1296.2v2.6M456.74 1297.5h2.27M456.74 1296.2v2.6M468.85 1297.5h4.81M468.85 1296.2v2.6M498.47 1297.5h4.78M498.47 1296.2v2.6M157.96 1311.63h2.35M157.96 1310.33v2.6M187.96 1311.63h4M187.96 1310.33v2.6M194.55 1311.63h4.03M194.55 1310.33v2.6M206.46 1311.63h3.7M206.46 1310.33v2.6M227.24 1311.63h2.34M227.24 1310.33v2.6M242.93 1311.63h4.57M242.93 1310.33v2.6M286.99 1311.63h2.53M286.99 1310.33v2.6M311.54 1311.63h5.05M311.54 1310.33v2.6M315.25 1311.63h4.61M315.25 1310.33v2.6M323.32 1311.63h4.47M323.32 1310.33v2.6M329.1 1311.63h2.89M329.1 1310.33v2.6M352.18 1311.63h3.34M352.18 1310.33v2.6M369.45 1311.63h3.34M369.45 1310.33v2.6M371.01 1311.63h4.39M371.01 1310.33v2.6M436.75 1311.63h4.33M436.75 1310.33v2.6M447.64 1311.63h3.34M447.64 1310.33v2.6M450.31 1311.63h4.77M450.31 1310.33v2.6M458.76 1311.63h5.1M458.76 1310.33v2.6M466.48 1311.63h3.91M466.48 1310.33v2.6M484.14 1311.63h4.17M484.14 1310.33v2.6M499.08 1311.63h4.17M499.08 1310.33v2.6M155.27 1320.67h2.61M155.27 1319.37v2.6M173.3 1320.67h2.32M173.3 1319.37v2.6M175.39 1320.67h5.18M175.39 1319.37v2.6M185.89 1320.67h2.8M185.89 1319.37v2.6M197.81 1320.67h2.36M197.81 1319.37v2.6M199.57 1320.67h4.52M199.57 1319.37v2.6M234.12 1320.67h5.91M234.12 1319.37v2.6M242.93 1320.67h4.57M242.93 1319.37v2.6M283.31 1320.67h2.94M283.31 1319.37v2.6M291.79 1320.67h5.19M291.79 1319.37v2.6M299.76 1320.67h5.16M299.76 1319.37v2.6M320.63 1320.67h4.83M320.63 1319.37v2.6M359.52 1320.67h5.15M359.52 1319.37v2.6M367.16 1320.67h4.04M367.16 1319.37v2.6M372.63 1320.67h2.77M372.63 1319.37v2.6M418.64 1320.67h4.6M418.64 1319.37v2.6M423.88 1320.67h2.64M423.88 1319.37v2.6M432.76 1320.67h3.46M432.76 1319.37v2.6M463.04 1320.67h5.67M463.04 1319.37v2.6M485.16 1320.67h3.15M485.16 1319.37v2.6M498.08 1320.67h5.17M498.08 1319.37v2.6M157.19 1334.8h3.12M157.19 1333.5v2.6M196.25 1334.8h4.57M196.25 1333.5v2.6M204.03 1334.8h3.33M204.03 1333.5v2.6M212.28 1334.8h2.55M212.28 1333.5v2.6M217.69 1334.8h2.08M217.69 1333.5v2.6M233.61 1334.8h2.5M233.61 1333.5v2.6M244.87 1334.8h2.63M244.87 1333.5v2.6M283.62 1334.8h3.66M283.62 1333.5v2.6M310.73 1334.8h2.69M310.73 1333.5v2.6M315.16 1334.8h4.23M315.16 1333.5v2.6M327.41 1334.8h3.93M327.41 1333.5v2.6M340.95 1334.8h2.43M340.95 1333.5v2.6M353.97 1334.8h4.16M353.97 1333.5v2.6M358.78 1334.8h2.62M358.78 1333.5v2.6M368.42 1334.8h4.36M368.42 1333.5v2.6M373.19 1334.8h2.21M373.19 1333.5v2.6M437.57 1334.8h6.13M437.57 1333.5v2.6M453.81 1334.8h3.6M453.81 1333.5v2.6M456.93 1334.8h4.68M456.93 1333.5v2.6M476.2 1334.8h2.31M476.2 1333.5v2.6M478.28 1334.8h5.09M478.28 1333.5v2.6M487.09 1334.8h3.84M487.09 1333.5v2.6M500.96 1334.8h2.29M500.96 1333.5v2.6M155.55 1343.84h3.27M155.55 1342.54v2.6M165.65 1343.84h3.43M165.65 1342.54v2.6M179.9 1343.84h4.59M179.9 1342.54v2.6M197.84 1343.84h2.33M197.84 1342.54v2.6M224.92 1343.84h6.9M224.92 1342.54v2.6M239.4 1343.84h4.18M239.4 1342.54v2.6M242.68 1343.84h4.82M242.68 1342.54v2.6M283.31 1343.84h2.94M283.31 1342.54v2.6M286.72 1343.84h5.13M286.72 1342.54v2.6M314.69 1343.84h4.7M314.69 1342.54v2.6M339.88 1343.84h2.85M339.88 1342.54v2.6M342.57 1343.84h4.08M342.57 1342.54v2.6M358.27 1343.84h2.19M358.27 1342.54v2.6M368.46 1343.84h5.08M368.46 1342.54v2.6M421.75 1343.84h2.16M421.75 1342.54v2.6M425.6 1343.84h2.5M425.6 1342.54v2.6M448.3 1343.84h4.82M448.3 1342.54v2.6M454.2 1343.84h3.22M454.2 1342.54v2.6M459.91 1343.84h2.26M459.91 1342.54v2.6M475.48 1343.84h3.03M475.48 1342.54v2.6M498.14 1343.84h5.11M498.14 1342.54v2.6M157.29 1357.97h3.68M157.29 1356.67v2.6M195.32 1357.97h6.44M195.32 1356.67v2.6M200.82 1357.97h4.86M200.82 1356.67v2.6M213.37 1357.97h3.14M213.37 1356.67v2.6M228.96 1357.97h4.81M228.96 1356.67v2.6M245.38 1357.97h2.12M245.38 1356.67v2.6M286.99 1357.97h4.86M286.99 1356.67v2.6M314.56 1357.97h3.71M314.56 1356.67v2.6M326.53 1357.97h4.44M326.53 1356.67v2.6M337.43 1357.97h2.69M337.43 1356.67v2.6M357.37 1357.97h2.34M357.37 1356.67v2.6M368.06 1357.97h4.73M368.06 1356.67v2.6M371.76 1357.97h3.64M371.76 1356.67v2.6M440.7 1357.97h5.33M440.7 1356.67v2.6M452.95 1357.97h2.7M452.95 1356.67v2.6M455.81 1357.97h4.78M455.81 1356.67v2.6M469.15 1357.97h3.85M469.15 1356.67v2.6M472.28 1357.97h4.65M472.28 1356.67v2.6M486.34 1357.97h4.59M486.34 1356.67v2.6M498.84 1357.97h4.41M498.84 1356.67v2.6M155.72 1367.02h3.66M155.72 1365.72v2.6M179.81 1367.02h3.09M179.81 1365.72v2.6M184.73 1367.02h4.89M184.73 1365.72v2.6M200.85 1367.02h2.59M200.85 1365.72v2.6M217.61 1367.02h2.17M217.61 1365.72v2.6M234.54 1367.02h4.84M234.54 1365.72v2.6M243.03 1367.02h4.47M243.03 1365.72v2.6M283.81 1367.02h4.12M283.81 1365.72v2.6M303.3 1367.02h2.56M303.3 1365.72v2.6M310.99 1367.02h2.43M310.99 1365.72v2.6M333.93 1367.02h5.25M333.93 1365.72v2.6M354.84 1367.02h4.87M354.84 1365.72v2.6M367.42 1367.02h3.03M367.42 1365.72v2.6M370.33 1367.02h5.07M370.33 1365.72v2.6M432.34 1367.02h3.89M432.34 1365.72v2.6M448.09 1367.02h3.44M448.09 1365.72v2.6M465.74 1367.02h3.91M465.74 1365.72v2.6M469.28 1367.02h5.03M469.28 1365.72v2.6M488.16 1367.02h3.42M488.16 1365.72v2.6M498.96 1367.02h4.29M498.96 1365.72v2.6M155.55 1376.06h3.27M155.55 1374.76v2.6M175.09 1376.06h2.21M175.09 1374.76v2.6M183.91 1376.06h3.19M183.91 1374.76v2.6M192.64 1376.06h4.27M192.64 1374.76v2.6M207.92 1376.06h3.64M207.92 1374.76v2.6M235.28 1376.06h4.1M235.28 1374.76v2.6M243.67 1376.06h3.83M243.67 1374.76v2.6M283.31 1376.06h2.94M283.31 1374.76v2.6M292.14 1376.06h2.98M292.14 1374.76v2.6M304.8 1376.06h3.39M304.8 1374.76v2.6M326.65 1376.06h2.07M326.65 1374.76v2.6M328.31 1376.06h4.62M328.31 1374.76v2.6M356.05 1376.06h3.02M356.05 1374.76v2.6M368.96 1376.06h2.24M368.96 1374.76v2.6M371.49 1376.06h3.91M371.49 1374.76v2.6M424.22 1376.06h3.23M424.22 1374.76v2.6M442.78 1376.06h4.83M442.78 1374.76v2.6M457.67 1376.06h2.92M457.67 1374.76v2.6M463.91 1376.06h3.21M463.91 1374.76v2.6M467.16 1376.06h4.81M467.16 1374.76v2.6M483.78 1376.06h2.85M483.78 1374.76v2.6M498.53 1376.06h4.72M498.53 1374.76v2.6M154.99 1385.1h1.96M154.99 1383.8v2.6M189.33 1385.1h4.3M189.33 1383.8v2.6M199.81 1385.1h4.56M199.81 1383.8v2.6M204.71 1385.1h3.59M204.71 1383.8v2.6M224.68 1385.1h4.9M224.68 1383.8v2.6M230.06 1385.1h4.37M230.06 1383.8v2.6M245.03 1385.1h2.47M245.03 1383.8v2.6M283.62 1385.1h3.66M283.62 1383.8v2.6M297.78 1385.1h3.22M297.78 1383.8v2.6M300.15 1385.1h4.12M300.15 1383.8v2.6M310.91 1385.1h2.13M310.91 1383.8v2.6M327.17 1385.1h2.21M327.17 1383.8v2.6M346.06 1385.1h3.21M346.06 1383.8v2.6M352.58 1385.1h3.87M352.58 1383.8v2.6M368.13 1385.1h3.07M368.13 1383.8v2.6M370.77 1385.1h4.63M370.77 1383.8v2.6M431.14 1385.1h2.47M431.14 1383.8v2.6M436.95 1385.1h4.13M436.95 1383.8v2.6M442.38 1385.1h2.06M442.38 1383.8v2.6M461.69 1385.1h2.17M461.69 1383.8v2.6M469.4 1385.1h3.6M469.4 1383.8v2.6M478.41 1385.1h4.96M478.41 1383.8v2.6M500.4 1385.1h2.85M500.4 1383.8v2.6M154.99 1394.15h1.96M154.99 1392.85v2.6M177.32 1394.15h4.84M177.32 1392.85v2.6M187.3 1394.15h2.32M187.3 1392.85v2.6M204 1394.15h2.7M204 1392.85v2.6M223.69 1394.15h3.28M223.69 1392.85v2.6M244.94 1394.15h2.56M244.94 1392.85v2.6M282.89 1394.15h1.96M282.89 1392.85v2.6M298.96 1394.15h2.69M298.96 1392.85v2.6M306.64 1394.15h3.41M306.64 1392.85v2.6M322.47 1394.15h2.99M322.47 1392.85v2.6M327.37 1394.15h2.28M327.37 1392.85v2.6M346.94 1394.15h5.31M346.94 1392.85v2.6M367.08 1394.15h2.44M367.08 1392.85v2.6M371.77 1394.15h3.63M371.77 1392.85v2.6M424.99 1394.15h2.18M424.99 1392.85v2.6M441.19 1394.15h3.25M441.19 1392.85v2.6M463.19 1394.15h2.35M463.19 1392.85v2.6M481.59 1394.15h4.39M481.59 1392.85v2.6M498.73 1394.15h4.52M498.73 1392.85v2.6M157.3 1403.19h3.67M157.3 1401.89v2.6M192.45 1403.19h7.06M192.45 1401.89v2.6M202.66 1403.19h4.7M202.66 1401.89v2.6M209.97 1403.19h4.85M209.97 1401.89v2.6M219.9 1403.19h4.07M219.9 1401.89v2.6M232 1403.19h4.11M232 1401.89v2.6M242.26 1403.19h5.24M242.26 1401.89v2.6M287.33 1403.19h4.52M287.33 1401.89v2.6M315.83 1403.19h3.56M315.83 1401.89v2.6M320.02 1403.19h4.79M320.02 1401.89v2.6M335.36 1403.19h3.82M335.36 1401.89v2.6M342.18 1403.19h5.22M342.18 1401.89v2.6M355.67 1403.19h4.04M355.67 1401.89v2.6M367.64 1403.19h5.14M367.64 1401.89v2.6M371.3 1403.19h4.1M371.3 1401.89v2.6M441.9 1403.19h5.06M441.9 1401.89v2.6M456.66 1403.19h3.93M456.66 1401.89v2.6M465.02 1403.19h3.69M465.02 1401.89v2.6M475.29 1403.19h3.22M475.29 1401.89v2.6M482.15 1403.19h2.24M482.15 1401.89v2.6M490.34 1403.19h4.5M490.34 1401.89v2.6M500.9 1403.19h2.35M500.9 1401.89v2.6M154.99 1417.32h1.96M154.99 1416.02v2.6M169.52 1417.32h2.37M169.52 1416.02v2.6M175.72 1417.32h4.2M175.72 1416.02v2.6M184.34 1417.32h2.76M184.34 1416.02v2.6M189.06 1417.32h2.43M189.06 1416.02v2.6M214.52 1417.32h3.57M214.52 1416.02v2.6M241.91 1417.32h5.59M241.91 1416.02v2.6M283.31 1417.32h2.94M283.31 1416.02v2.6M287.33 1417.32h2.85M287.33 1416.02v2.6M294.06 1417.32h4.6M294.06 1416.02v2.6M302.71 1417.32h3.79M302.71 1416.02v2.6M310.88 1417.32h3.19M310.88 1416.02v2.6M333.03 1417.32h2.23M333.03 1416.02v2.6M339.44 1417.32h3.29M339.44 1416.02v2.6M366.79 1417.32h5.99M366.79 1416.02v2.6M372.29 1417.32h3.11M372.29 1416.02v2.6M411.75 1417.32h4.31M411.75 1416.02v2.6M421.97 1417.32h4.55M421.97 1416.02v2.6M429.53 1417.32h4.45M429.53 1416.02v2.6M448.11 1417.32h4.36M448.11 1416.02v2.6M461.3 1417.32h2.56M461.3 1416.02v2.6M482.05 1417.32h3M482.05 1416.02v2.6M499.1 1417.32h4.15M499.1 1416.02v2.6M186.38 1426.36h5.11M186.38 1425.06v2.6M196.26 1426.36h4.57M196.26 1425.06v2.6M212.64 1426.36h2.19M212.64 1425.06v2.6M217.29 1426.36h2.48M217.29 1425.06v2.6M231.84 1426.36h2.59M231.84 1425.06v2.6M234.98 1426.36h4.4M234.98 1425.06v2.6M242.75 1426.36h4.75M242.75 1425.06v2.6M283.62 1426.36h3.66M283.62 1425.06v2.6M301.6 1426.36h3.32M301.6 1425.06v2.6M318.11 1426.36h4.08M318.11 1425.06v2.6M343.46 1426.36h3.93M343.46 1425.06v2.6M350.5 1426.36h2.69M350.5 1425.06v2.6M357.63 1426.36h2.83M357.63 1425.06v2.6M363.32 1426.36h3.68M363.32 1425.06v2.6M370.31 1426.36h5.09M370.31 1425.06v2.6M434.15 1426.36h5.34M434.15 1425.06v2.6M451.33 1426.36h4.31M451.33 1425.06v2.6M465.78 1426.36h2.93M465.78 1425.06v2.6M471.69 1426.36h3.56M471.69 1425.06v2.6M497.36 1426.36h5.89M497.36 1425.06v2.6M157.99 1440.49h4M157.99 1439.19v2.6M188.79 1440.49h4.85M188.79 1439.19v2.6M203.61 1440.49h2.07M203.61 1439.19v2.6M205.84 1440.49h4.78M205.84 1439.19v2.6M220.97 1440.49h4.31M220.97 1439.19v2.6M243.83 1440.49h3.67M243.83 1439.19v2.6M285.87 1440.49h2.71M285.87 1439.19v2.6M307.31 1440.49h2.47M307.31 1439.19v2.6M320.53 1440.49h2.31M320.53 1439.19v2.6M330.87 1440.49h3.74M330.87 1439.19v2.6M349.23 1440.49h3.02M349.23 1439.19v2.6M366.79 1440.49h2.72M366.79 1439.19v2.6M372.63 1440.49h2.77M372.63 1439.19v2.6M431.64 1440.49h3M431.64 1439.19v2.6M437.84 1440.49h4.92M437.84 1439.19v2.6M447.17 1440.49h5.29M447.17 1439.19v2.6M465.1 1440.49h4.54M465.1 1439.19v2.6M472.44 1440.49h2.15M472.44 1439.19v2.6M485.01 1440.49h3.31M485.01 1439.19v2.6M499.81 1440.49h3.44M499.81 1439.19v2.6M156.36 1454.62h3.96M156.36 1453.32v2.6M206.03 1454.62h6.18M206.03 1453.32v2.6M212.94 1454.62h5.16M212.94 1453.32v2.6M217.87 1454.62h3.5M217.87 1453.32v2.6M231.11 1454.62h3.98M231.11 1453.32v2.6M242.3 1454.62h5.2M242.3 1453.32v2.6M285.56 1454.62h2.37M285.56 1453.32v2.6M319.43 1454.62h4.44M319.43 1453.32v2.6M323.71 1454.62h4.08M323.71 1453.32v2.6M331.03 1454.62h2.55M331.03 1453.32v2.6M347.02 1454.62h4.58M347.02 1453.32v2.6M363.58 1454.62h2.48M363.58 1453.32v2.6M367.26 1454.62h3.19M367.26 1453.32v2.6M368.5 1454.62h4.29M368.5 1453.32v2.6M371.18 1454.62h4.22M371.18 1453.32v2.6M447.65 1454.62h4.82M447.65 1453.32v2.6M455.89 1454.62h4.7M455.89 1453.32v2.6M478.78 1454.62h2.06M478.78 1453.32v2.6M481.64 1454.62h3.41M481.64 1453.32v2.6M487.95 1454.62h3.64M487.95 1453.32v2.6M500.87 1454.62h2.38M500.87 1453.32v2.6M155.91 1468.75h4.12M155.91 1467.45v2.6M167.28 1468.75h5.16M167.28 1467.45v2.6M178.59 1468.75h2.64M178.59 1467.45v2.6M193.03 1468.75h3.87M193.03 1467.45v2.6M234.73 1468.75h4.65M234.73 1467.45v2.6M244.63 1468.75h2.87M244.63 1467.45v2.6M284.32 1468.75h3.61M284.32 1467.45v2.6M292.05 1468.75h3.07M292.05 1467.45v2.6M311.62 1468.75h4.97M311.62 1467.45v2.6M318.07 1468.75h2.53M318.07 1467.45v2.6M347.67 1468.75h5.51M347.67 1467.45v2.6M354.12 1468.75h3.36M354.12 1467.45v2.6M366.39 1468.75h4.07M366.39 1467.45v2.6M371.72 1468.75h3.68M371.72 1467.45v2.6M424.04 1468.75h4.06M424.04 1467.45v2.6M430.85 1468.75h3.14M430.85 1467.45v2.6M446.62 1468.75h3.42M446.62 1467.45v2.6M452.42 1468.75h2.29M452.42 1467.45v2.6M454.22 1468.75h4.78M454.22 1467.45v2.6M476.25 1468.75h2.26M476.25 1467.45v2.6M499.13 1468.75h4.12M499.13 1467.45v2.6M154.99 1482.88h1.96M154.99 1481.58v2.6M171.64 1482.88h3.98M171.64 1481.58v2.6M176.88 1482.88h5.28M176.88 1481.58v2.6M190.86 1482.88h5.02M190.86 1481.58v2.6M229.08 1482.88h7.03M229.08 1481.58v2.6M243.8 1482.88h3.7M243.8 1481.58v2.6M282.89 1482.88h1.96M282.89 1481.58v2.6M295.5 1482.88h4.85M295.5 1481.58v2.6M311.81 1482.88h4.78M311.81 1481.58v2.6M347.37 1482.88h4.23M347.37 1481.58v2.6M350.71 1482.88h5.09M350.71 1481.58v2.6M363.62 1482.88h4.96M363.62 1481.58v2.6M372.43 1482.88h2.97M372.43 1481.58v2.6M424.79 1482.88h3.32M424.79 1481.58v2.6M433.46 1482.88h2.76M433.46 1481.58v2.6M442.87 1482.88h4.74M442.87 1481.58v2.6M448.15 1482.88h2.83M448.15 1481.58v2.6M451.39 1482.88h4.25M451.39 1481.58v2.6M472.54 1482.88h4.39M472.54 1481.58v2.6M499.32 1482.88h3.93M499.32 1481.58v2.6M154.99 1497.01h1.96M154.99 1495.71v2.6M168.96 1497.01h4.42M168.96 1495.71v2.6M182.33 1497.01h4.77M182.33 1495.71v2.6M193.48 1497.01h4.36M193.48 1495.71v2.6M229.61 1497.01h5.48M229.61 1495.71v2.6M243.01 1497.01h4.49M243.01 1495.71v2.6M283.62 1497.01h3.66M283.62 1495.71v2.6M288.15 1497.01h4.63M288.15 1495.71v2.6M293.85 1497.01h2.2M293.85 1495.71v2.6M309.25 1497.01h3.79M309.25 1495.71v2.6M315.46 1497.01h2.81M315.46 1495.71v2.6M344.77 1497.01h6.17M344.77 1495.71v2.6M351.28 1497.01h3.58M351.28 1495.71v2.6M365.78 1497.01h4.67M365.78 1495.71v2.6M371.47 1497.01h3.93M371.47 1495.71v2.6M419.45 1497.01h4.73M419.45 1495.71v2.6M427.27 1497.01h4.1M427.27 1495.71v2.6M443.19 1497.01h2.84M443.19 1495.71v2.6M451.72 1497.01h2.43M451.72 1495.71v2.6M455.78 1497.01h3.22M455.78 1495.71v2.6M474.92 1497.01h4.62M474.92 1495.71v2.6M498.21 1497.01h5.04M498.21 1495.71v2.6M158.81 1511.14h3.75M158.81 1509.84v2.6M189.66 1511.14h6.21M189.66 1509.84v2.6M200.26 1511.14h3.18M200.26 1509.84v2.6M205.05 1511.14h5.11M205.05 1509.84v2.6M214.3 1511.14h3.79M214.3 1509.84v2.6M238.49 1511.14h2.48M238.49 1509.84v2.6M244.38 1511.14h3.12M244.38 1509.84v2.6M290.24 1511.14h2.55M290.24 1509.84v2.6M307.14 1511.14h5.25M307.14 1509.84v2.6M327.2 1511.14h3.11M327.2 1509.84v2.6M336.67 1511.14h5.12M336.67 1509.84v2.6M354.04 1511.14h5.02M354.04 1509.84v2.6M359.4 1511.14h3.59M359.4 1509.84v2.6M367.31 1511.14h3.89M367.31 1509.84v2.6M373.07 1511.14h2.33M373.07 1509.84v2.6M437.74 1511.14h4.37M437.74 1509.84v2.6M449.09 1511.14h4.04M449.09 1509.84v2.6M458.74 1511.14h2.88M458.74 1509.84v2.6M472.89 1511.14h2.35M472.89 1509.84v2.6M478.06 1511.14h2.13M478.06 1509.84v2.6M485.35 1511.14h2.97M485.35 1509.84v2.6M498.51 1511.14h4.74M498.51 1509.84v2.6M156.66 1525.28h2.16M156.66 1523.98v2.6M188.8 1525.28h4.83M188.8 1523.98v2.6M192.96 1525.28h3.95M192.96 1523.98v2.6M198.38 1525.28h5.06M198.38 1523.98v2.6M207.39 1525.28h5.2M207.39 1523.98v2.6M228.58 1525.28h4.26M228.58 1523.98v2.6M242.19 1525.28h5.31M242.19 1523.98v2.6M287 1525.28h3.17M287 1523.98v2.6M304.85 1525.28h4.27M304.85 1523.98v2.6M319.43 1525.28h4.44M319.43 1523.98v2.6M332.55 1525.28h4.95M332.55 1523.98v2.6M357.02 1525.28h4.38M357.02 1523.98v2.6M369.27 1525.28h3.52M369.27 1523.98v2.6M433.99 1525.28h5.5M433.99 1523.98v2.6M441.33 1525.28h3.1M441.33 1523.98v2.6M451.13 1525.28h4.51M451.13 1523.98v2.6M468.88 1525.28h4.12M468.88 1523.98v2.6M485.1 1525.28h2.56M485.1 1523.98v2.6M499.22 1525.28h4.03M499.22 1523.98v2.6M155.72 1534.32h3.66M155.72 1533.02v2.6M185.27 1534.32h4.35M185.27 1533.02v2.6M189.41 1534.32h4.23M189.41 1533.02v2.6M203.5 1534.32h2.18M203.5 1533.02v2.6M229.25 1534.32h5.83M229.25 1533.02v2.6M242.22 1534.32h5.28M242.22 1533.02v2.6M284.43 1534.32h4.44M284.43 1533.02v2.6M304.51 1534.32h3.03M304.51 1533.02v2.6M318.04 1534.32h4.15M318.04 1533.02v2.6M326.51 1534.32h3.8M326.51 1533.02v2.6M354 1534.32h5.07M354 1533.02v2.6M371.62 1534.32h3.78M371.62 1533.02v2.6M434.07 1534.32h3.84M434.07 1533.02v2.6M438.05 1534.32h4.71M438.05 1533.02v2.6M450.36 1534.32h5.28M450.36 1533.02v2.6M463.24 1534.32h3.88M463.24 1533.02v2.6M484.61 1534.32h3.05M484.61 1533.02v2.6M498.44 1534.32h4.81M498.44 1533.02v2.6M154.99 1543.36h1.96M154.99 1542.06v2.6M181.68 1543.36h6.45M181.68 1542.06v2.6M192.1 1543.36h3.77M192.1 1542.06v2.6M201.76 1543.36h2.33M201.76 1542.06v2.6M209.94 1543.36h2.27M209.94 1542.06v2.6M224.55 1543.36h5.03M224.55 1542.06v2.6M234.63 1543.36h3.54M234.63 1542.06v2.6M243.06 1543.36h4.44M243.06 1542.06v2.6M285.49 1543.36h3.38M285.49 1542.06v2.6M298.54 1543.36h4.98M298.54 1542.06v2.6M312.53 1543.36h2.2M312.53 1542.06v2.6M319.1 1543.36h4.77M319.1 1542.06v2.6M333.68 1543.36h4.84M333.68 1542.06v2.6M363.09 1543.36h2.97M363.09 1542.06v2.6M368.35 1543.36h4.44M368.35 1542.06v2.6M430.41 1543.36h5.16M430.41 1542.06v2.6M448.66 1543.36h2.32M448.66 1542.06v2.6M453.13 1543.36h4.28M453.13 1542.06v2.6M465.37 1543.36h2.78M465.37 1542.06v2.6M479.53 1543.36h2.9M479.53 1542.06v2.6M500.08 1543.36h3.17M500.08 1542.06v2.6M155.78 1552.4h3.04M155.78 1551.1v2.6M196.5 1552.4h4.6M196.5 1551.1v2.6M206.36 1552.4h3.8M206.36 1551.1v2.6M214.96 1552.4h2.48M214.96 1551.1v2.6M217.16 1552.4h4.2M217.16 1551.1v2.6M232.06 1552.4h3.02M232.06 1551.1v2.6M242.72 1552.4h4.78M242.72 1551.1v2.6M284.43 1552.4h5.08M284.43 1551.1v2.6M310.52 1552.4h4.2M310.52 1551.1v2.6M320.99 1552.4h2.88M320.99 1551.1v2.6M326.11 1552.4h4.2M326.11 1551.1v2.6M345.22 1552.4h2.17M345.22 1551.1v2.6M361.48 1552.4h3.19M361.48 1551.1v2.6M367.75 1552.4h5.03M367.75 1551.1v2.6M438.81 1552.4h3.94M438.81 1551.1v2.6M453.19 1552.4h5.25M453.19 1551.1v2.6M475.57 1552.4h3.97M475.57 1551.1v2.6M483.79 1552.4h3.87M483.79 1551.1v2.6M499.57 1552.4h3.68M499.57 1551.1v2.6M157.03 1566.53h3.28M157.03 1565.23v2.6M190.33 1566.53h5.55M190.33 1565.23v2.6M203.88 1566.53h2.82M203.88 1565.23v2.6M208.5 1566.53h3.06M208.5 1565.23v2.6M230.8 1566.53h3.64M230.8 1565.23v2.6M245.03 1566.53h2.47M245.03 1565.23v2.6M287.22 1566.53h4.64M287.22 1565.23v2.6M306.73 1566.53h3.32M306.73 1565.23v2.6M320.39 1566.53h3.48M320.39 1565.23v2.6M331.41 1566.53h4.5M331.41 1565.23v2.6M355.01 1566.53h3.12M355.01 1565.23v2.6M370.7 1566.53h2.83M370.7 1565.23v2.6M433.01 1566.53h6.48M433.01 1565.23v2.6M445.27 1566.53h2.34M445.27 1565.23v2.6M452.57 1566.53h3.07M452.57 1565.23v2.6M469.74 1566.53h3.92M469.74 1565.23v2.6M482.93 1566.53h2.77M482.93 1565.23v2.6M499.39 1566.53h3.86M499.39 1565.23v2.6M155.55 1575.58h3.27M155.55 1574.28v2.6M170.18 1575.58h3.85M170.18 1574.28v2.6M176.66 1575.58h3.25M176.66 1574.28v2.6M182.64 1575.58h4.46M182.64 1574.28v2.6M193.93 1575.58h4.65M193.93 1574.28v2.6M227.56 1575.58h5.28M227.56 1574.28v2.6M243.33 1575.58h4.17M243.33 1574.28v2.6M283.94 1575.58h3.33M283.94 1574.28v2.6M293.1 1575.58h4.63M293.1 1574.28v2.6M297.9 1575.58h4.69M297.9 1574.28v2.6M313.94 1575.58h4.98M313.94 1574.28v2.6M319.88 1575.58h2.96M319.88 1574.28v2.6M349.83 1575.58h6.62M349.83 1574.28v2.6M369.02 1575.58h4.51M369.02 1574.28v2.6M423.34 1575.58h4.76M423.34 1574.28v2.6M434.03 1575.58h2.19M434.03 1574.28v2.6M450.17 1575.58h3.98M450.17 1574.28v2.6M454.67 1575.58h4.34M454.67 1574.28v2.6M482.2 1575.58h2.19M482.2 1574.28v2.6M498.99 1575.58h4.26M498.99 1574.28v2.6M160.62 1589.71h2.87M160.62 1588.41v2.6M167.27 1589.71h5.17M167.27 1588.41v2.6M176 1589.71h3.91M176 1588.41v2.6M192.57 1589.71h4.34M192.57 1588.41v2.6M234.79 1589.71h4.59M234.79 1588.41v2.6M245.16 1589.71h2.34M245.16 1588.41v2.6M283.17 1589.71h2.61M283.17 1588.41v2.6M288.36 1589.71h3.49M288.36 1588.41v2.6M313.16 1589.71h4.83M313.16 1588.41v2.6M348.43 1589.71h6.43M348.43 1588.41v2.6M354.97 1589.71h3.81M354.97 1588.41v2.6M368.77 1589.71h2.43M368.77 1588.41v2.6M370.19 1589.71h5.21M370.19 1588.41v2.6M425.58 1589.71h4.86M425.58 1588.41v2.6M450.68 1589.71h4.4M450.68 1588.41v2.6M458.3 1589.71h2.29M458.3 1588.41v2.6M480.33 1589.71h4.06M480.33 1588.41v2.6M499.64 1589.71h3.61M499.64 1588.41v2.6M158.72 1598.75h2.25M158.72 1597.45v2.6M166.76 1598.75h2.33M166.76 1597.45v2.6M171.55 1598.75h4.07M171.55 1597.45v2.6M182.22 1598.75h2.73M182.22 1597.45v2.6M193.73 1598.75h3.17M193.73 1597.45v2.6M234.53 1598.75h5.79M234.53 1597.45v2.6M242.66 1598.75h4.84M242.66 1597.45v2.6M282.89 1598.75h1.96M282.89 1597.45v2.6M289.31 1598.75h3.48M289.31 1597.45v2.6M293.77 1598.75h3.96M293.77 1597.45v2.6M313.47 1598.75h4.52M313.47 1597.45v2.6M345.84 1598.75h6.69M345.84 1597.45v2.6M352.25 1598.75h4.2M352.25 1597.45v2.6M363.93 1598.75h4.66M363.93 1597.45v2.6M371.34 1598.75h4.06M371.34 1597.45v2.6M420.96 1598.75h2.29M420.96 1597.45v2.6M431.25 1598.75h2.36M431.25 1597.45v2.6M443.82 1598.75h4.82M443.82 1597.45v2.6M448.64 1598.75h3.26M448.64 1597.45v2.6M450.32 1598.75h4.76M450.32 1597.45v2.6M471.33 1598.75h4.84M471.33 1597.45v2.6M498.85 1598.75h4.4M498.85 1597.45v2.6M158.89 1607.79h3.1M158.89 1606.49v2.6M161.57 1607.79h5.27M161.57 1606.49v2.6M170.32 1607.79h3.71M170.32 1606.49v2.6M187.71 1607.79h5.28M187.71 1606.49v2.6M235.03 1607.79h5.28M235.03 1606.49v2.6M243.17 1607.79h4.33M243.17 1606.49v2.6M283.31 1607.79h2.94M283.31 1606.49v2.6M285.04 1607.79h4.48M285.04 1606.49v2.6M312.59 1607.79h5.4M312.59 1606.49v2.6M345.38 1607.79h7.15M345.38 1606.49v2.6M355.16 1607.79h5.31M355.16 1606.49v2.6M369.28 1607.79h3.51M369.28 1606.49v2.6M372.04 1607.79h3.36M372.04 1606.49v2.6M417.1 1607.79h4.47M417.1 1606.49v2.6M425.51 1607.79h4.93M425.51 1606.49v2.6M450.11 1607.79h2.35M450.11 1606.49v2.6M454.19 1607.79h4.82M454.19 1606.49v2.6M480.75 1607.79h2.62M480.75 1606.49v2.6M499.72 1607.79h3.53M499.72 1606.49v2.6M159.05 1621.92h5.18M159.05 1620.62v2.6M193.35 1621.92h5.24M193.35 1620.62v2.6M208.28 1621.92h4.96M208.28 1620.62v2.6M220.7 1621.92h2.34M220.7 1620.62v2.6M227.03 1621.92h2.55M227.03 1620.62v2.6M237.95 1621.92h2.08M237.95 1620.62v2.6M242.27 1621.92h5.23M242.27 1620.62v2.6M287.63 1621.92h2.54M287.63 1620.62v2.6M305.34 1621.92h3.13M305.34 1620.62v2.6M318.13 1621.92h4.72M318.13 1620.62v2.6M335.05 1621.92h3.01M335.05 1620.62v2.6M348.64 1621.92h2.95M348.64 1620.62v2.6M361.77 1621.92h3.36M361.77 1620.62v2.6M370.24 1621.92h3.3M370.24 1620.62v2.6M433.05 1621.92h6.44M433.05 1620.62v2.6M459.46 1621.92h4.39M459.46 1620.62v2.6M464.76 1621.92h3.95M464.76 1620.62v2.6M482.51 1621.92h4.12M482.51 1620.62v2.6M485.62 1621.92h4.28M485.62 1620.62v2.6M490.43 1621.92h2.74M490.43 1620.62v2.6M501.14 1621.92h2.11M501.14 1620.62v2.6M154.99 1636.06h1.96M154.99 1634.76v2.6M157.67 1636.06h2.65M157.67 1634.76v2.6M165.94 1636.06h3.15M165.94 1634.76v2.6M174 1636.06h4.42M174 1634.76v2.6M229.53 1636.06h4.9M229.53 1634.76v2.6M244.68 1636.06h2.82M244.68 1634.76v2.6M296.16 1636.06h3.16M296.16 1634.76v2.6M333.79 1636.06h7.07M333.79 1634.76v2.6M344.24 1636.06h3.16M344.24 1634.76v2.6M361.67 1636.06h3.47M361.67 1634.76v2.6M372.44 1636.06h2.96M372.44 1634.76v2.6M410.74 1636.06h1.96M410.74 1634.76v2.6M414.36 1636.06h3.94M414.36 1634.76v2.6M429.26 1636.06h2.11M429.26 1634.76v2.6M434.86 1636.06h3.05M434.86 1634.76v2.6M462.33 1636.06h6.38M462.33 1634.76v2.6M498.18 1636.06h5.07M498.18 1634.76v2.6M154.71 1645.1h1.31M154.71 1643.8v2.6M155.75 1645.1h3.62M155.75 1643.8v2.6M161.5 1645.1h3.86M161.5 1643.8v2.6M169.02 1645.1h2.86M169.02 1643.8v2.6M220.95 1645.1h6.29M220.95 1643.8v2.6M244.42 1645.1h3.08M244.42 1643.8v2.6M284.87 1645.1h2.41M284.87 1643.8v2.6M287.18 1645.1h4.02M287.18 1643.8v2.6M292.96 1645.1h4.77M292.96 1643.8v2.6M333.12 1645.1h5.4M333.12 1643.8v2.6M342.26 1645.1h2.8M342.26 1643.8v2.6M344.82 1645.1h5.09M344.82 1643.8v2.6M370.11 1645.1h2.67M370.11 1643.8v2.6M372.5 1645.1h2.9M372.5 1643.8v2.6M410.74 1645.1h1.96M410.74 1643.8v2.6M411.52 1645.1h5.2M411.52 1643.8v2.6M427.07 1645.1h2.06M427.07 1643.8v2.6M435.06 1645.1h3.77M435.06 1643.8v2.6M439.73 1645.1h3.03M439.73 1643.8v2.6M470.51 1645.1h4.08M470.51 1643.8v2.6M497.36 1645.1h5.89M497.36 1643.8v2.6M156.19 1659.23h3.84M156.19 1657.93v2.6M195.6 1659.23h6.15M195.6 1657.93v2.6M203.03 1659.23h2.65M203.03 1657.93v2.6M206.39 1659.23h3.77M206.39 1657.93v2.6M208.69 1659.23h5.2M208.69 1657.93v2.6M226.61 1659.23h3.62M226.61 1657.93v2.6M242.92 1659.23h4.58M242.92 1657.93v2.6M285.6 1659.23h3.27M285.6 1657.93v2.6M311.87 1659.23h4.72M311.87 1657.93v2.6M323.7 1659.23h2.41M323.7 1657.93v2.6M336.45 1659.23h2.73M336.45 1657.93v2.6M346.79 1659.23h3.12M346.79 1657.93v2.6M352.35 1659.23h3.45M352.35 1657.93v2.6M369.42 1659.23h3.37M369.42 1657.93v2.6M371.36 1659.23h4.04M371.36 1657.93v2.6M439.93 1659.23h4.51M439.93 1657.93v2.6M448.77 1659.23h3.14M448.77 1657.93v2.6M451.86 1659.23h3.78M451.86 1657.93v2.6M470.6 1659.23h5.3M470.6 1657.93v2.6M478.52 1659.23h3.26M478.52 1657.93v2.6M485.72 1659.23h5.21M485.72 1657.93v2.6M499.08 1659.23h4.17M499.08 1657.93v2.6M155.55 1668.27h3.27M155.55 1666.97v2.6M190.45 1668.27h5.71M190.45 1666.97v2.6M198.03 1668.27h3.73M198.03 1666.97v2.6M206.4 1668.27h3.76M206.4 1666.97v2.6M224.28 1668.27h2.69M224.28 1666.97v2.6M228.04 1668.27h2.19M228.04 1666.97v2.6M244.76 1668.27h2.74M244.76 1666.97v2.6M283.75 1668.27h2.5M283.75 1666.97v2.6M311.31 1668.27h4.34M311.31 1666.97v2.6M323.96 1668.27h2.15M323.96 1666.97v2.6M327.63 1668.27h5.3M327.63 1666.97v2.6M343.69 1668.27h4.64M343.69 1666.97v2.6M350.89 1668.27h2.3M350.89 1666.97v2.6M369.28 1668.27h3.5M369.28 1666.97v2.6M371.9 1668.27h3.5M371.9 1666.97v2.6M433.93 1668.27h7.15M433.93 1666.97v2.6M445.85 1668.27h5.12M445.85 1666.97v2.6M449.61 1668.27h4.54M449.61 1666.97v2.6M463.86 1668.27h4.29M463.86 1666.97v2.6M471.33 1668.27h3.26M471.33 1666.97v2.6M485.97 1668.27h3.93M485.97 1666.97v2.6M499.55 1668.27h3.7M499.55 1666.97v2.6M155.55 1682.4h3.27M155.55 1681.1v2.6M184.79 1682.4h5.58M184.79 1681.1v2.6M194.07 1682.4h4.51M194.07 1681.1v2.6M203.07 1682.4h2.61M203.07 1681.1v2.6M210.91 1682.4h2.33M210.91 1681.1v2.6M228.16 1682.4h3M228.16 1681.1v2.6M243.96 1682.4h3.54M243.96 1681.1v2.6M284.02 1682.4h3.26M284.02 1681.1v2.6M306.05 1682.4h3.72M306.05 1681.1v2.6M315.62 1682.4h2.37M315.62 1681.1v2.6M325.4 1682.4h3.98M325.4 1681.1v2.6M333.61 1682.4h3.24M333.61 1681.1v2.6M349.81 1682.4h4.4M349.81 1681.1v2.6M355.74 1682.4h2.39M355.74 1681.1v2.6M371.17 1682.4h2.36M371.17 1681.1v2.6M372.48 1682.4h2.92M372.48 1681.1v2.6M433.87 1682.4h4.97M433.87 1681.1v2.6M447.41 1682.4h4.12M447.41 1681.1v2.6M455.41 1682.4h3.03M455.41 1681.1v2.6M466.56 1682.4h4.95M466.56 1681.1v2.6M473.68 1682.4h2.5M473.68 1681.1v2.6M486.98 1682.4h4.6M486.98 1681.1v2.6M498.3 1682.4h4.95M498.3 1681.1v2.6M155.55 1691.44h3.27M155.55 1690.14v2.6M192.66 1691.44h4.89M192.66 1690.14v2.6M199.35 1691.44h2.41M199.35 1690.14v2.6M204.82 1691.44h2.54M204.82 1690.14v2.6M209.92 1691.44h3.33M209.92 1690.14v2.6M227.42 1691.44h3.74M227.42 1690.14v2.6M244.29 1691.44h3.21M244.29 1690.14v2.6M284.63 1691.44h2.65M284.63 1690.14v2.6M310.46 1691.44h4.54M310.46 1690.14v2.6M321.55 1691.44h2.97M321.55 1690.14v2.6M330.28 1691.44h3.3M330.28 1690.14v2.6M351.55 1691.44h2.66M351.55 1690.14v2.6M352.93 1691.44h5.2M352.93 1690.14v2.6M370.06 1691.44h3.47M370.06 1690.14v2.6M373.21 1691.44h2.19M373.21 1690.14v2.6M435.7 1691.44h5.38M435.7 1690.14v2.6M447.8 1691.44h3.18M447.8 1690.14v2.6M452.82 1691.44h2.82M452.82 1690.14v2.6M469.19 1691.44h2.79M469.19 1690.14v2.6M472.54 1691.44h4.38M472.54 1690.14v2.6M485.27 1691.44h2.39M485.27 1690.14v2.6M499.16 1691.44h4.09M499.16 1690.14v2.6M196.73 1705.58h5.03M196.73 1704.28v2.6M239.58 1705.58h6.52M239.58 1704.28v2.6M284 1705.58h2.25M284 1704.28v2.6M288.24 1705.58h3.61M288.24 1704.28v2.6M291.84 1705.58h4.22M291.84 1704.28v2.6M329.63 1705.58h3.95M329.63 1704.28v2.6M370.27 1705.58h5.13M370.27 1704.28v2.6M413.77 1705.58h3.59M413.77 1704.28v2.6M417.96 1705.58h5.28M417.96 1704.28v2.6M422.8 1705.58h3.72M422.8 1704.28v2.6M424.96 1705.58h4.17M424.96 1704.28v2.6M496.61 1705.58h6.64M496.61 1704.28v2.6M201.71 1719.71h6.58M201.71 1718.41v2.6M240.63 1719.71h5.47M240.63 1718.41v2.6M284.8 1719.71h4.72M284.8 1718.41v2.6M290.97 1719.71h3.5M290.97 1718.41v2.6M296.55 1719.71h2.12M296.55 1718.41v2.6M323.6 1719.71h5.12M323.6 1718.41v2.6M370.22 1719.71h5.18M370.22 1718.41v2.6M414.16 1719.71h4.14M414.16 1718.41v2.6M423.49 1719.71h3.03M423.49 1718.41v2.6M499.07 1719.71h4.18M499.07 1718.41v2.6M285.77 1733.84h3.75M285.77 1732.54v2.6M292.12 1733.84h3.93M292.12 1732.54v2.6M302.47 1733.84h2.46M302.47 1732.54v2.6M313.86 1733.84h3.48M313.86 1732.54v2.6M325.28 1733.84h3.45M325.28 1732.54v2.6M338.57 1733.84h4.81M338.57 1732.54v2.6M370.22 1733.84h5.18M370.22 1732.54v2.6M421.81 1733.84h3.03M421.81 1732.54v2.6M433.48 1733.84h5.07M433.48 1732.54v2.6M457.49 1733.84h2.17M457.49 1732.54v2.6M458 1733.84h5.11M458 1732.54v2.6M498.89 1733.84h4.36M498.89 1732.54v2.6M286.05 1742.88h3.47M286.05 1741.58v2.6M300.64 1742.88h5.21M300.64 1741.58v2.6M325.22 1742.88h2.57M325.22 1741.58v2.6M329.51 1742.88h2.49M329.51 1741.58v2.6M334.83 1742.88h4.35M334.83 1741.58v2.6M364.25 1742.88h6.2M364.25 1741.58v2.6M371.4 1742.88h4M371.4 1741.58v2.6M418.4 1742.88h3.16M418.4 1741.58v2.6M423.95 1742.88h2.57M423.95 1741.58v2.6M455.31 1742.88h6.31M455.31 1741.58v2.6M459.35 1742.88h5.16M459.35 1741.58v2.6M498.13 1742.88h5.12M498.13 1741.58v2.6M156.16 1757.01h2.19M156.16 1755.71v2.6M212.69 1757.01h6.06M212.69 1755.71v2.6M237.32 1757.01h5.23M237.32 1755.71v2.6M244.03 1757.01h3.47M244.03 1755.71v2.6M284.01 1757.01h4.57M284.01 1755.71v2.6M291.72 1757.01h4.33M291.72 1755.71v2.6M298.47 1757.01h3.46M298.47 1755.71v2.6M305.69 1757.01h2.78M305.69 1755.71v2.6M332.8 1757.01h4.7M332.8 1755.71v2.6M370.14 1757.01h5.26M370.14 1755.71v2.6M416.04 1757.01h4.59M416.04 1755.71v2.6M429.8 1757.01h4.84M429.8 1755.71v2.6M438.61 1757.01h3.5M438.61 1755.71v2.6M497.13 1757.01h6.12M497.13 1755.71v2.6M156.19 1771.14h4.77M156.19 1769.84v2.6M183.64 1771.14h5.05M183.64 1769.84v2.6M194.33 1771.14h4.26M194.33 1769.84v2.6M232.62 1771.14h5.08M232.62 1769.84v2.6M236.06 1771.14h4.91M236.06 1769.84v2.6M245.09 1771.14h2.41M245.09 1769.84v2.6M283.89 1771.14h3.39M283.89 1769.84v2.6M288.91 1771.14h2.94M288.91 1769.84v2.6M293.7 1771.14h3M293.7 1769.84v2.6M298.11 1771.14h3.55M298.11 1769.84v2.6M336.98 1771.14h7.06M336.98 1769.84v2.6M350.47 1771.14h3.46M350.47 1769.84v2.6M360.66 1771.14h2.32M360.66 1769.84v2.6M371.68 1771.14h3.72M371.68 1769.84v2.6M413.91 1771.14h5.14M413.91 1769.84v2.6M423.38 1771.14h3.79M423.38 1769.84v2.6M434.39 1771.14h4.45M434.39 1769.84v2.6M459.26 1771.14h2.92M459.26 1769.84v2.6M498.11 1771.14h5.14M498.11 1769.84v2.6M295.62 1799.4h3.05M295.62 1798.1v2.6M354.86 1799.4h12.14M354.86 1798.1v2.6M369.25 1799.4h3.35M369.25 1798.1v2.6M417.96 1799.4h4.26M417.96 1798.1v2.6M490.91 1799.4h6.18M490.91 1798.1v2.6M288.73 1808.44h4.71M288.73 1807.14v2.6M295.38 1808.44h3.01M295.38 1807.14v2.6M369.32 1808.44h4.21M369.32 1807.14v2.6M417.3 1808.44h4.27M417.3 1807.14v2.6M496.33 1808.44h6.92M496.33 1807.14v2.6M305.59 1822.58h6.14M305.59 1821.28v2.6M313.31 1822.58h2.34M313.31 1821.28v2.6M359.25 1822.58h9.33M359.25 1821.28v2.6M429.3 1822.58h2.73M429.3 1821.28v2.6M492.51 1822.58h4.58M492.51 1821.28v2.6M168.03 1877.96h2.73M168.03 1876.66v2.6M230.31 1877.96h4.13M230.31 1876.66v2.6M234.16 1877.96h5.21M234.16 1876.66v2.6M242.37 1877.96h5.13M242.37 1876.66v2.6M300.81 1877.96h5.05M300.81 1876.66v2.6M346.42 1877.96h5.17M346.42 1876.66v2.6M361.33 1877.96h2.68M361.33 1876.66v2.6M370.23 1877.96h3.3M370.23 1876.66v2.6M471.05 1877.96h6.81M471.05 1876.66v2.6M486.51 1877.96h4.41M486.51 1876.66v2.6M490.77 1877.96h4.07M490.77 1876.66v2.6M500.96 1877.96h2.29M500.96 1876.66v2.6M158.67 1892.1h4.63M158.67 1890.8v2.6M227.48 1892.1h4.33M227.48 1890.8v2.6M229.14 1892.1h5.29M229.14 1890.8v2.6M236.53 1892.1h3.5M236.53 1890.8v2.6M242.18 1892.1h3.73M242.18 1890.8v2.6M290.28 1892.1h5.12M290.28 1890.8v2.6M338.67 1892.1h5.73M338.67 1890.8v2.6M345.01 1892.1h4.91M345.01 1890.8v2.6M360.86 1892.1h4.27M360.86 1890.8v2.6M372.87 1892.1h2.53M372.87 1890.8v2.6M467.66 1892.1h6.93M467.66 1890.8v2.6M476.69 1892.1h2.85M476.69 1890.8v2.6M492.33 1892.1h4.1M492.33 1890.8v2.6M499.1 1892.1h4.15M499.1 1890.8v2.6M160.57 1901.14h3.66M160.57 1899.84v2.6M228.75 1901.14h6.34M228.75 1899.84v2.6M237.79 1901.14h2.52M237.79 1899.84v2.6M243.61 1901.14h2.3M243.61 1899.84v2.6M293.39 1901.14h3.59M293.39 1899.84v2.6M342.32 1901.14h4.32M342.32 1899.84v2.6M349.61 1901.14h4.32M349.61 1899.84v2.6M366.5 1901.14h3.02M366.5 1899.84v2.6M370.55 1901.14h2.24M370.55 1899.84v2.6M372.99 1901.14h2.41M372.99 1899.84v2.6M471.83 1901.14h5.75M471.83 1899.84v2.6M480.79 1901.14h5.19M480.79 1899.84v2.6M497.83 1901.14h3.55M497.83 1899.84v2.6M500.8 1901.14h2.45M500.8 1899.84v2.6M160.54 1915.27h2.94M160.54 1913.97v2.6M213.85 1915.27h5.92M213.85 1913.97v2.6M232.64 1915.27h2.44M232.64 1913.97v2.6M239.54 1915.27h4.69M239.54 1913.97v2.6M243.6 1915.27h3.9M243.6 1913.97v2.6M294.94 1915.27h4.38M294.94 1913.97v2.6M331.93 1915.27h6.59M331.93 1913.97v2.6M344.76 1915.27h2.64M344.76 1913.97v2.6M352.47 1915.27h4.64M352.47 1913.97v2.6M365.5 1915.27h3.37M365.5 1913.97v2.6M370.87 1915.27h4.53M370.87 1913.97v2.6M459.98 1915.27h5.55M459.98 1913.97v2.6M486.11 1915.27h2.2M486.11 1913.97v2.6M493.72 1915.27h3.37M493.72 1913.97v2.6M498.35 1915.27h4.9M498.35 1913.97v2.6M157.26 1924.31h4.73M157.26 1923.01v2.6M231.64 1924.31h6.53M231.64 1923.01v2.6M240.77 1924.31h5.15M240.77 1923.01v2.6M291.66 1924.31h3.74M291.66 1923.01v2.6M348.21 1924.31h4.03M348.21 1923.01v2.6M353.18 1924.31h3.92M353.18 1923.01v2.6M368.19 1924.31h4.6M368.19 1923.01v2.6M480.38 1924.31h4.01M480.38 1923.01v2.6M489.86 1924.31h4.06M489.86 1923.01v2.6M498.18 1924.31h3.2M498.18 1923.01v2.6M498.33 1924.31h4.92M498.33 1923.01v2.6M159.07 1933.36h2.92M159.07 1932.06v2.6M219.45 1933.36h6.86M219.45 1932.06v2.6M232.68 1933.36h3.43M232.68 1932.06v2.6M237.07 1933.36h3.24M237.07 1932.06v2.6M240.45 1933.36h3.13M240.45 1932.06v2.6M242.83 1933.36h4.67M242.83 1932.06v2.6M290.74 1933.36h2.7M290.74 1932.06v2.6M343.37 1933.36h4.96M343.37 1932.06v2.6M348.77 1933.36h4.42M348.77 1932.06v2.6M353.09 1933.36h5.04M353.09 1932.06v2.6M363.41 1933.36h3.59M363.41 1932.06v2.6M369.7 1933.36h2.44M369.7 1932.06v2.6M371.27 1933.36h4.13M371.27 1932.06v2.6M466.71 1933.36h5.92M466.71 1932.06v2.6M481.43 1933.36h5.2M481.43 1932.06v2.6M491.44 1933.36h2.47M491.44 1932.06v2.6M495.86 1933.36h2.16M495.86 1932.06v2.6M499.72 1933.36h3.53M499.72 1932.06v2.6M159.76 1947.49h4.47M159.76 1946.19v2.6M230.82 1947.49h6.23M230.82 1946.19v2.6M237 1947.49h4.62M237 1946.19v2.6M242.03 1947.49h3.89M242.03 1946.19v2.6M293.13 1947.49h4.6M293.13 1946.19v2.6M355.91 1947.49h4.83M355.91 1946.19v2.6M362.8 1947.49h5.13M362.8 1946.19v2.6M368.89 1947.49h4.64M368.89 1946.19v2.6M479.75 1947.49h5.3M479.75 1946.19v2.6M494.01 1947.49h2.43M494.01 1946.19v2.6M495.83 1947.49h4.81M495.83 1946.19v2.6M500.72 1947.49h2.53M500.72 1946.19v2.6M159.67 1961.62h4.56M159.67 1960.32v2.6M226.74 1961.62h4.42M226.74 1960.32v2.6M230.57 1961.62h4.52M230.57 1960.32v2.6M240.77 1961.62h5.14M240.77 1960.32v2.6M294.74 1961.62h3.93M294.74 1960.32v2.6M351.6 1961.62h6.53M351.6 1960.32v2.6M361.77 1961.62h2.24M361.77 1960.32v2.6M365.92 1961.62h3.59M365.92 1960.32v2.6M370.1 1961.62h2.5M370.1 1960.32v2.6M371.96 1961.62h3.44M371.96 1960.32v2.6M475.4 1961.62h4.8M475.4 1960.32v2.6M491.37 1961.62h2.54M491.37 1960.32v2.6M495.97 1961.62h2.61M495.97 1960.32v2.6M497.96 1961.62h5.29M497.96 1960.32v2.6M158.71 1970.66h3.28M158.71 1969.36v2.6M212.19 1970.66h4.31M212.19 1969.36v2.6M227.17 1970.66h4.65M227.17 1969.36v2.6M236.32 1970.66h4.64M236.32 1969.36v2.6M245.3 1970.66h2.2M245.3 1969.36v2.6M288.8 1970.66h3.98M288.8 1969.36v2.6M327.85 1970.66h6.48M327.85 1969.36v2.6M340.81 1970.66h2.58M340.81 1969.36v2.6M352.56 1970.66h4.55M352.56 1969.36v2.6M364.83 1970.66h2.17M364.83 1969.36v2.6M366.15 1970.66h5.05M366.15 1969.36v2.6M373.11 1970.66h2.29M373.11 1969.36v2.6M455.17 1970.66h6.44M455.17 1969.36v2.6M469.92 1970.66h3.09M469.92 1969.36v2.6M484.98 1970.66h2.68M484.98 1969.36v2.6M487.93 1970.66h4.59M487.93 1969.36v2.6M499.35 1970.66h3.9M499.35 1969.36v2.6M160.92 1979.7h3.31M160.92 1978.4v2.6M222.02 1979.7h5.88M222.02 1978.4v2.6M227.58 1979.7h5.26M227.58 1978.4v2.6M236.45 1979.7h3.87M236.45 1978.4v2.6M242.13 1979.7h2.1M242.13 1978.4v2.6M244.28 1979.7h3.22M244.28 1978.4v2.6M293.3 1979.7h4.43M293.3 1978.4v2.6M340.31 1979.7h5.41M340.31 1978.4v2.6M349.64 1979.7h2.89M349.64 1978.4v2.6M362.81 1979.7h2.32M362.81 1978.4v2.6M368.01 1979.7h4.78M368.01 1978.4v2.6M372.87 1979.7h2.53M372.87 1978.4v2.6M466.32 1979.7h5.1M466.32 1978.4v2.6M479 1979.7h2.12M479 1978.4v2.6M492.4 1979.7h4.69M492.4 1978.4v2.6M499.17 1979.7h4.08M499.17 1978.4v2.6M159.93 1988.75h3.56M159.93 1987.45v2.6M225.95 1988.75h6.89M225.95 1987.45v2.6M233.74 1988.75h3.3M233.74 1987.45v2.6M241.75 1988.75h3.42M241.75 1987.45v2.6M291.63 1988.75h4.42M291.63 1987.45v2.6M345.93 1988.75h5.01M345.93 1987.45v2.6M356.71 1988.75h2.35M356.71 1987.45v2.6M366.16 1988.75h3.36M366.16 1987.45v2.6M368.51 1988.75h5.03M368.51 1987.45v2.6M370.7 1988.75h4.7M370.7 1987.45v2.6M472.45 1988.75h4.47M472.45 1987.45v2.6M484.33 1988.75h3.98M484.33 1987.45v2.6M494.33 1988.75h3.7M494.33 1987.45v2.6M499.2 1988.75h4.05M499.2 1987.45v2.6M283.31 2002.88h2.94M283.31 2001.58v2.6M340.19 2002.88h5.53M340.19 2001.58v2.6M369.34 2002.88h6.06M369.34 2001.58v2.6M491.09 2002.88h5.35M491.09 2001.58v2.6M498.49 2002.88h4.76M498.49 2001.58v2.6M166.76 2017.01h2.33M166.76 2015.71v2.6M218.26 2017.01h4.78M218.26 2015.71v2.6M225.07 2017.01h3.48M225.07 2015.71v2.6M236.6 2017.01h3.71M236.6 2015.71v2.6M242.44 2017.01h3.48M242.44 2015.71v2.6M298.35 2017.01h3.58M298.35 2015.71v2.6M337.86 2017.01h3.94M337.86 2015.71v2.6M348.62 2017.01h2.97M348.62 2015.71v2.6M359.05 2017.01h3M359.05 2015.71v2.6M369.02 2017.01h2.17M369.02 2015.71v2.6M372.3 2017.01h3.1M372.3 2015.71v2.6M458.15 2017.01h6.73M458.15 2015.71v2.6M486.58 2017.01h3.97M486.58 2015.71v2.6M497.18 2017.01h3.46M497.18 2015.71v2.6M498.15 2017.01h5.1M498.15 2015.71v2.6M346.04 2031.14h4.9M346.04 2029.84v2.6M363.03 2031.14h3.97M363.03 2029.84v2.6M365.98 2031.14h3.54M365.98 2029.84v2.6M371.51 2031.14h3.89M371.51 2029.84v2.6M465.38 2031.14h5.01M465.38 2029.84v2.6M492.01 2031.14h6.57M492.01 2029.84v2.6M328.77 2040.18h7.14M328.77 2038.88v2.6M358.2 2040.18h2.55M358.2 2038.88v2.6M364.65 2040.18h4.87M364.65 2038.88v2.6M370.75 2040.18h4.65M370.75 2038.88v2.6M460.52 2040.18h6.6M460.52 2038.88v2.6M492.33 2040.18h6.25M492.33 2038.88v2.6M344.48 2049.22h5.44M344.48 2047.92v2.6M370.21 2049.22h5.19M370.21 2047.92v2.6M464.97 2049.22h6.45M464.97 2047.92v2.6M495.58 2049.22h2.45M495.58 2047.92v2.6M322.34 2058.27h4.8M322.34 2056.97v2.6M355.03 2058.27h4.68M355.03 2056.97v2.6M364.87 2058.27h4.65M364.87 2056.97v2.6M370.41 2058.27h4.99M370.41 2056.97v2.6M462.24 2058.27h6.47M462.24 2056.97v2.6M490.33 2058.27h6.76M490.33 2056.97v2.6M497.28 2058.27h3.36M497.28 2056.97v2.6M352.01 2072.4h7.06M352.01 2071.1v2.6M365.52 2072.4h3.06M365.52 2071.1v2.6M368.07 2072.4h3.59M368.07 2071.1v2.6M370.69 2072.4h4.71M370.69 2071.1v2.6M459.42 2072.4h5.47M459.42 2071.1v2.6M491.95 2072.4h6.07M491.95 2071.1v2.6M337.63 2081.44h5.09M337.63 2080.14v2.6M348.57 2081.44h3.68M348.57 2080.14v2.6M372.39 2081.44h3.01M372.39 2080.14v2.6M447.38 2081.44h6.77M447.38 2080.14v2.6M487.3 2081.44h4.94M487.3 2080.14v2.6M495.91 2081.44h3.6M495.91 2080.14v2.6M316.76 2090.48h6.37M316.76 2089.18v2.6M332.42 2090.48h2.18M332.42 2089.18v2.6M371.03 2090.48h4.37M371.03 2089.18v2.6M432.57 2090.48h3.01M432.57 2089.18v2.6M474.37 2090.48h6.75M474.37 2089.18v2.6M499.03 2090.48h2.35M499.03 2089.18v2.6M333.65 2099.52h5.53M333.65 2098.22v2.6M347.88 2099.52h5.3M347.88 2098.22v2.6M366.76 2099.52h2.76M366.76 2098.22v2.6M370.45 2099.52h4.95M370.45 2098.22v2.6M456.06 2099.52h4.53M456.06 2098.22v2.6M488.55 2099.52h5.37M488.55 2098.22v2.6M497.67 2099.52h2.97M497.67 2098.22v2.6M461.28 2113.66h5.84M461.28 2112.36v2.6M492.29 2113.66h6.29M492.29 2112.36v2.6M499.07 2113.66h4.18M499.07 2112.36v2.6M452.06 2122.7h6.38M452.06 2121.4v2.6M491.1 2122.7h6.92M491.1 2121.4v2.6M452.13 2131.74h5.94M452.13 2130.44v2.6M490.5 2131.74h6.59M490.5 2130.44v2.6M455.82 2140.78h7.1M455.82 2139.48v2.6M491.37 2140.78h5.72M491.37 2139.48v2.6M452.45 2149.83h6.55M452.45 2148.53v2.6M490.43 2149.83h5.36M490.43 2148.53v2.6M496.83 2149.83h2.22M496.83 2148.53v2.6M455.3 2158.87h6.31M455.3 2157.57v2.6M492.95 2158.87h5.07M492.95 2157.57v2.6M450.46 2167.91h5.93M450.46 2166.61v2.6M491.42 2167.91h5.01M491.42 2166.61v2.6M495.47 2167.91h4.04M495.47 2166.61v2.6M446.64 2176.96h5.83M446.64 2175.66v2.6M491.88 2176.96h4.56M491.88 2175.66v2.6M494.49 2176.96h5.02M494.49 2175.66v2.6M448.02 2186h6.13M448.02 2184.7v2.6M487.65 2186h5.52M487.65 2184.7v2.6M494.67 2186h4.85M494.67 2184.7v2.6M453.77 2195.04h6.25M453.77 2193.74v2.6M494.55 2195.04h4.03M494.55 2193.74v2.6M452.18 2204.09h6.26M452.18 2202.79v2.6M489.74 2204.09h4.17M489.74 2202.79v2.6M495.66 2204.09h3.39M495.66 2202.79v2.6M447.53 2213.13h4.01M447.53 2211.83v2.6M492.04 2213.13h4.39M492.04 2211.83v2.6M495.72 2213.13h3.79M495.72 2211.83v2.6M307.03 2227.26h4.42M307.03 2225.96v2.6M320.46 2227.26h2.38M320.46 2225.96v2.6M369.5 2227.26h5.9M369.5 2225.96v2.6M438.29 2227.26h5.12M438.29 2225.96v2.6M474.75 2227.26h4.79M474.75 2225.96v2.6M499.05 2227.26h4.2M499.05 2225.96v2.6M301.51 2236.3h4.34M301.51 2235v2.6M312.14 2236.3h2.58M312.14 2235v2.6M322.98 2236.3h3.13M322.98 2235v2.6M366.49 2236.3h6.3M366.49 2235v2.6M370.44 2236.3h4.96M370.44 2235v2.6M433.25 2236.3h3.72M433.25 2235v2.6M473.91 2236.3h6.28M473.91 2235v2.6M495.42 2236.3h4.09M495.42 2235v2.6M498.93 2236.3h4.32M498.93 2235v2.6M305.98 2245.34h4.07M305.98 2244.04v2.6M318.78 2245.34h3.41M318.78 2244.04v2.6M323.25 2245.34h3.89M323.25 2244.04v2.6M369.77 2245.34h5.63M369.77 2244.04v2.6M439.98 2245.34h5.39M439.98 2244.04v2.6M476.22 2245.34h5.56M476.22 2244.04v2.6M500.28 2245.34h2.97M500.28 2244.04v2.6M304.33 2254.39h6.48M304.33 2253.09v2.6M314.6 2254.39h5.25M314.6 2253.09v2.6M324.39 2254.39h4.99M324.39 2253.09v2.6M369.26 2254.39h6.14M369.26 2253.09v2.6M433.62 2254.39h5.22M433.62 2253.09v2.6M479.15 2254.39h4.22M479.15 2253.09v2.6M500.95 2254.39h2.3M500.95 2253.09v2.6M310.66 2268.52h4.99M310.66 2267.22v2.6M319.96 2268.52h4.84M319.96 2267.22v2.6M368.32 2268.52h7.08M368.32 2267.22v2.6M435.51 2268.52h6.23M435.51 2267.22v2.6M479.31 2268.52h4.06M479.31 2267.22v2.6M500.2 2268.52h3.05M500.2 2267.22v2.6M314.04 2277.56h6.57M314.04 2276.26v2.6M318.26 2277.56h4.58M318.26 2276.26v2.6M370.55 2277.56h4.85M370.55 2276.26v2.6M434.02 2277.56h5.47M434.02 2276.26v2.6M475.36 2277.56h4.83M475.36 2276.26v2.6M498.38 2277.56h4.87M498.38 2276.26v2.6M313.35 2286.6h6.51M313.35 2285.3v2.6M323.91 2286.6h2.58M323.91 2285.3v2.6M369.44 2286.6h5.96M369.44 2285.3v2.6M438 2286.6h5.41M438 2285.3v2.6M477.66 2286.6h5.7M477.66 2285.3v2.6M501.06 2286.6h2.19M501.06 2285.3v2.6M312.92 2295.65h4.41M312.92 2294.35v2.6M368.96 2295.65h6.44M368.96 2294.35v2.6M429.34 2295.65h5.3M429.34 2294.35v2.6M472.16 2295.65h5.7M472.16 2294.35v2.6M499.42 2295.65h3.83M499.42 2294.35v2.6M309.81 2309.78h4.25M309.81 2308.48v2.6M320.43 2309.78h2.42M320.43 2308.48v2.6M368.35 2309.78h7.05M368.35 2308.48v2.6M436.99 2309.78h4.09M436.99 2308.48v2.6M476.62 2309.78h5.16M476.62 2308.48v2.6M499.58 2309.78h3.67M499.58 2308.48v2.6M306.77 2318.82h5.62M306.77 2317.52v2.6M316.1 2318.82h5.16M316.1 2317.52v2.6M371.13 2318.82h4.27M371.13 2317.52v2.6M436.94 2318.82h6.75M436.94 2317.52v2.6M474.58 2318.82h5.61M474.58 2317.52v2.6M499.02 2318.82h4.23M499.02 2317.52v2.6M306.42 2327.86h3.63M306.42 2326.56v2.6M315.88 2327.86h3.98M315.88 2326.56v2.6M367.21 2327.86h5.58M367.21 2326.56v2.6M373.07 2327.86h2.33M373.07 2326.56v2.6M438.74 2327.86h4.95M438.74 2326.56v2.6M475.06 2327.86h6.07M475.06 2326.56v2.6M498.03 2327.86h5.22M498.03 2326.56v2.6M307.63 2336.91h4.76M307.63 2335.61v2.6M311.55 2336.91h4.1M311.55 2335.61v2.6M368.87 2336.91h6.53M368.87 2335.61v2.6M431.53 2336.91h4.69M431.53 2335.61v2.6M472.14 2336.91h5.44M472.14 2335.61v2.6M500.59 2336.91h2.66M500.59 2335.61v2.6M302.77 2345.95h3.74M302.77 2344.65v2.6M319.92 2345.95h4.89M319.92 2344.65v2.6M369.58 2345.95h5.82M369.58 2344.65v2.6M440.55 2345.95h7.06M440.55 2344.65v2.6M474.02 2345.95h7.11M474.02 2344.65v2.6M499.71 2345.95h3.54M499.71 2344.65v2.6M313.13 2354.99h4.21M313.13 2353.69v2.6M318.75 2354.99h2.51M318.75 2353.69v2.6M369.94 2354.99h5.46M369.94 2353.69v2.6M433.56 2354.99h5.93M433.56 2353.69v2.6M472.29 2354.99h6.23M472.29 2353.69v2.6M498.81 2354.99h4.44M498.81 2353.69v2.6M208.8 2369.12h6.03M208.8 2367.82v2.6M231.57 2369.12h2.2M231.57 2367.82v2.6M241.35 2369.12h2.88M241.35 2367.82v2.6M244.69 2369.12h2.81M244.69 2367.82v2.6M302.14 2369.12h3.06M302.14 2367.82v2.6M306.38 2369.12h3.39M306.38 2367.82v2.6M360.24 2369.12h4.89M360.24 2367.82v2.6M365.01 2369.12h4.51M365.01 2367.82v2.6M371.17 2369.12h4.23M371.17 2367.82v2.6M434.79 2369.12h2.19M434.79 2367.82v2.6M458.96 2369.12h4.25M458.96 2367.82v2.6M490.43 2369.12h6.94M490.43 2367.82v2.6M495.7 2369.12h5.22M495.7 2367.82v2.6M238.95 2383.25h5.28M238.95 2381.95v2.6M242.48 2383.25h5.02M242.48 2381.95v2.6M311.27 2383.25h6.06M311.27 2381.95v2.6M325.77 2383.25h2.96M325.77 2381.95v2.6M369.21 2383.25h6.19M369.21 2381.95v2.6M438.38 2383.25h6.62M438.38 2381.95v2.6M475.87 2383.25h5.91M475.87 2381.95v2.6M499.79 2383.25h3.46M499.79 2381.95v2.6M303.73 2392.3h7.07M303.73 2391v2.6M315.3 2392.3h4.56M315.3 2391v2.6M370.98 2392.3h4.42M370.98 2391v2.6M433.97 2392.3h5.53M433.97 2391v2.6M477.09 2392.3h4.04M477.09 2391v2.6M499.08 2392.3h4.17M499.08 2391v2.6M310.55 2401.34h5.11M310.55 2400.04v2.6M320.98 2401.34h3.83M320.98 2400.04v2.6M368.45 2401.34h6.95M368.45 2400.04v2.6M438.52 2401.34h6.48M438.52 2400.04v2.6M474.41 2401.34h5.78M474.41 2400.04v2.6M499.82 2401.34h3.43M499.82 2400.04v2.6M311.58 2410.38h5.76M311.58 2409.08v2.6M321.62 2410.38h4.49M321.62 2409.08v2.6M370.53 2410.38h4.87M370.53 2409.08v2.6M437.07 2410.38h6.34M437.07 2409.08v2.6M474.26 2410.38h5.93M474.26 2409.08v2.6M498.06 2410.38h5.19M498.06 2409.08v2.6M229.89 2419.43h4.54M229.89 2418.13v2.6M244.16 2419.43h3.34M244.16 2418.13v2.6M306.42 2419.43h5.97M306.42 2418.13v2.6M327.44 2419.43h3.9M327.44 2418.13v2.6M370 2419.43h5.4M370 2418.13v2.6M446.33 2419.43h6.14M446.33 2418.13v2.6M476.11 2419.43h6.6M476.11 2418.13v2.6M497.95 2419.43h5.3M497.95 2418.13v2.6M230.12 2433.56h6.92M230.12 2432.26v2.6M236.52 2433.56h5.1M236.52 2432.26v2.6M244.71 2433.56h2.79M244.71 2432.26v2.6M306.52 2433.56h5.87M306.52 2432.26v2.6M314.11 2433.56h4.16M314.11 2432.26v2.6M368.31 2433.56h7.09M368.31 2432.26v2.6M437.73 2433.56h5.03M437.73 2432.26v2.6M469.6 2433.56h4.72M469.6 2432.26v2.6M496.52 2433.56h4.86M496.52 2432.26v2.6" fill="none" stroke="#0a0a1e" stroke-width="0.8"/>
<path d="M505.55 24.82l4.2 4.2m0 -4.2l-4.2 4.2M377.7 38.95l4.2 4.2m0 -4.2l-4.2 4.2M505.55 38.95l4.2 4.2m0 -4.2l-4.2 4.2M377.7 53.08l4.2 4.2m0 -4.2l-4.2 4.2M377.7 67.21l4.2 4.2m0 -4.2l-4.2 4.2M377.7 76.26l4.2 4.2m0 -4.2l-4.2 4.2M377.7 90.39l4.2 4.2m0 -4.2l-4.2 4.2M377.7 99.43l4.2 4.2m0 -4.2l-4.2 4.2M377.7 108.47l4.2 4.2m0 -4.2l-4.2 4.2M377.7 117.52l4.2 4.2m0 -4.2l-4.2 4.2M377.7 131.65l4.2 4.2m0 -4.2l-4.2 4.2M377.7 145.78l4.2 4.2m0 -4.2l-4.2 4.2M377.7 154.82l4.2 4.2m0 -4.2l-4.2 4.2M377.7 163.86l4.2 4.2m0 -4.2l-4.2 4.2M377.7 252.6l4.2 4.2m0 -4.2l-4.2 4.2M505.55 252.6l4.2 4.2m0 -4.2l-4.2 4.2M377.7 261.64l4.2 4.2m0 -4.2l-4.2 4.2M505.55 261.64l4.2 4.2m0 -4.2l-4.2 4.2M377.7 270.69l4.2 4.2m0 -4.2l-4.2 4.2M505.55 270.69l4.2 4.2m0 -4.2l-4.2 4.2M377.7 298.95l4.2 4.2m0 -4.2l-4.2 4.2M505.55 298.95l4.2 4.2m0 -4.2l-4.2 4.2M377.7 307.99l4.2 4.2m0 -4.2l-4.2 4.2M505.55 307.99l4.2 4.2m0 -4.2l-4.2 4.2M377.7 322.12l4.2 4.2m0 -4.2l-4.2 4.2M505.55 322.12l4.2 4.2m0 -4.2l-4.2 4.2M377.7 336.25l4.2 4.2m0 -4.2l-4.2 4.2M505.55 336.25l4.2 4.2m0 -4.2l-4.2 4.2M377.7 345.29l4.2 4.2m0 -4.2l-4.2 4.2M505.55 345.29l4.2 4.2m0 -4.2l-4.2 4.2M249.8 373.56l4.2 4.2m0 -4.2l-4.2 4.2M377.7 373.56l4.2 4.2m0 -4.2l-4.2 4.2M249.8 382.6l4.2 4.2m0 -4.2l-4.2 4.2M377.7 382.6l4.2 4.2m0 -4.2l-4.2 4.2M249.8 391.64l4.2 4.2m0 -4.2l-4.2 4.2M377.7 391.64l4.2 4.2m0 -4.2l-4.2 4.2M249.8 405.77l4.2 4.2m0 -4.2l-4.2 4.2M377.7 405.77l4.2 4.2m0 -4.2l-4.2 4.2M249.8 419.9l4.2 4.2m0 -4.2l-4.2 4.2M377.7 419.9l4.2 4.2m0 -4.2l-4.2 4.2M249.8 428.95l4.2 4.2m0 -4.2l-4.2 4.2M377.7 428.95l4.2 4.2m0 -4.2l-4.2 4.2M249.8 437.99l4.2 4.2m0 -4.2l-4.2 4.2M377.7 437.99l4.2 4.2m0 -4.2l-4.2 4.2M249.8 447.03l4.2 4.2m0 -4.2l-4.2 4.2M377.7 447.03l4.2 4.2m0 -4.2l-4.2 4.2M249.8 456.07l4.2 4.2m0 -4.2l-4.2 4.2M377.7 456.07l4.2 4.2m0 -4.2l-4.2 4.2M249.8 465.12l4.2 4.2m0 -4.2l-4.2 4.2M377.7 465.12l4.2 4.2m0 -4.2l-4.2 4.2M249.8 474.16l4.2 4.2m0 -4.2l-4.2 4.2M377.7 474.16l4.2 4.2m0 -4.2l-4.2 4.2M249.8 516.55l4.2 4.2m0 -4.2l-4.2 4.2M377.7 516.55l4.2 4.2m0 -4.2l-4.2 4.2M249.8 525.6l4.2 4.2m0 -4.2l-4.2 4.2M377.7 525.6l4.2 4.2m0 -4.2l-4.2 4.2M249.8 534.64l4.2 4.2m0 -4.2l-4.2 4.2M377.7 534.64l4.2 4.2m0 -4.2l-4.2 4.2M249.8 548.77l4.2 4.2m0 -4.2l-4.2 4.2M249.8 557.81l4.2 4.2m0 -4.2l-4.2 4.2M249.8 566.85l4.2 4.2m0 -4.2l-4.2 4.2M249.8 1731.74l4.2 4.2m0 -4.2l-4.2 4.2M249.8 1740.78l4.2 4.2m0 -4.2l-4.2 4.2M377.7 1783.17l4.2 4.2m0 -4.2l-4.2 4.2M505.55 1783.17l4.2 4.2m0 -4.2l-4.2 4.2M249.8 1797.3l4.2 4.2m0 -4.2l-4.2 4.2M249.8 1806.34l4.2 4.2m0 -4.2l-4.2 4.2M249.8 1820.48l4.2 4.2m0 -4.2l-4.2 4.2M249.8 1834.61l4.2 4.2m0 -4.2l-4.2 4.2M377.7 1834.61l4.2 4.2m0 -4.2l-4.2 4.2M505.55 1834.61l4.2 4.2m0 -4.2l-4.2 4.2M249.8 1843.65l4.2 4.2m0 -4.2l-4.2 4.2M377.7 1843.65l4.2 4.2m0 -4.2l-4.2 4.2M505.55 1843.65l4.2 4.2m0 -4.2l-4.2 4.2M249.8 1852.69l4.2 4.2m0 -4.2l-4.2 4.2M377.7 1852.69l4.2 4.2m0 -4.2l-4.2 4.2M505.55 1852.69l4.2 4.2m0 -4.2l-4.2 4.2M249.8 1861.73l4.2 4.2m0 -4.2l-4.2 4.2M377.7 1861.73l4.2 4.2m0 -4.2l-4.2 4.2M505.55 1861.73l4.2 4.2m0 -4.2l-4.2 4.2M377.7 2111.56l4.2 4.2m0 -4.2l-4.2 4.2M377.7 2120.6l4.2 4.2m0 -4.2l-4.2 4.2M377.7 2129.64l4.2 4.2m0 -4.2l-4.2 4.2M377.7 2138.68l4.2 4.2m0 -4.2l-4.2 4.2M377.7 2147.73l4.2 4.2m0 -4.2l-4.2 4.2M377.7 2156.77l4.2 4.2m0 -4.2l-4.2 4.2M377.7 2165.81l4.2 4.2m0 -4.2l-4.2 4.2M377.7 2174.86l4.2 4.2m0 -4.2l-4.2 4.2M377.7 2183.9l4.2 4.2m0 -4.2l-4.2 4.2M377.7 2192.94l4.2 4.2m0 -4.2l-4.2 4.2M377.7 2201.99l4.2 4.2m0 -4.2l-4.2 4.2M377.7 2211.03l4.2 4.2m0 -4.2l-4.2 4.2M249.8 2266.42l4.2 4.2m0 -4.2l-4.2 4.2M249.8 2275.46l4.2 4.2m0 -4.2l-4.2 4.2M249.8 2284.5l4.2 4.2m0 -4.2l-4.2 4.2M249.8 2293.55l4.2 4.2m0 -4.2l-4.2 4.2M249.8 2307.68l4.2 4.2m0 -4.2l-4.2 4.2M249.8 2316.72l4.2 4.2m0 -4.2l-4.2 4.2M249.8 2325.76l4.2 4.2m0 -4.2l-4.2 4.2M249.8 2334.81l4.2 4.2m0 -4.2l-4.2 4.2M249.8 2343.85l4.2 4.2m0 -4.2l-4.2 4.2M249.8 2352.89l4.2 4.2m0 -4.2l-4.2 4.2M505.55 2445.59l4.2 4.2m0 -4.2l-4.2 4.2M505.55 2459.72l4.2 4.2m0 -4.2l-4.2 4.2M505.55 2468.76l4.2 4.2m0 -4.2l-4.2 4.2M505.55 2477.8l4.2 4.2m0 -4.2l-4.2 4.2M505.55 2486.85l4.2 4.2m0 -4.2l-4.2 4.2M505.55 2500.98l4.2 4.2m0 -4.2l-4.2 4.2M505.55 2510.02l4.2 4.2m0 -4.2l-4.2 4.2" fill="none" stroke="#000" stroke-width="0.9"/>
<path d="M126.9 26.92h6.15M126.9 41.05h6.15M126.9 55.18h6.15M126.9 69.31h6.15M126.9 78.36h6.15M126.9 92.49h6.15M126.9 101.53h6.15M126.9 110.57h6.15M126.9 119.62h6.15M126.9 133.75h6.15M126.9 147.88h6.15M126.9 156.92h6.15M126.9 165.96h6.15M126.9 180.09h6.15M126.9 194.22h6.15M126.9 203.27h6.15M126.9 217.4h6.15M126.9 231.53h6.15M126.9 240.57h6.15M126.9 254.7h6.15M126.9 263.74h6.15M126.9 272.79h6.15M126.9 286.92h6.15M126.9 301.05h6.15M126.9 310.09h6.15M126.9 324.22h6.15M126.9 338.35h6.15M126.9 347.39h6.15M126.9 361.53h6.15M126.9 375.66h6.15M126.9 384.7h6.15M126.9 393.74h6.15M126.9 407.87h6.15M126.9 422h6.15M126.9 431.05h6.15M126.9 440.09h6.15M126.9 449.13h6.15M126.9 458.18h6.15M126.9 467.22h6.15M126.9 476.26h6.15M126.9 490.39h6.15M126.9 504.52h6.15M126.9 518.65h6.15M126.9 527.7h6.15M126.9 536.74h6.15M126.9 550.87h6.15M126.9 559.91h6.15M126.9 568.95h6.15M126.9 583.09h6.15M126.9 592.13h6.15M126.9 601.17h6.15M126.9 610.21h6.15M126.9 619.26h6.15M126.9 633.39h6.15M126.9 642.43h6.15M126.9 651.47h6.15M126.9 660.52h6.15M126.9 669.56h6.15M126.9 678.6h6.15M126.9 687.65h6.15M126.9 696.69h6.15M126.9 705.73h6.15M126.9 714.77h6.15M126.9 723.82h6.15M126.9 732.86h6.15M126.9 741.9h6.15M126.9 750.95h6.15M126.9 759.99h6.15M126.9 769.03h6.15M126.9 778.08h6.15M126.9 792.21h6.15M126.9 801.25h6.15M126.9 815.38h6.15M126.9 829.51h6.15M126.9 843.64h6.15M126.9 852.68h6.15M126.9 861.73h6.15M126.9 870.77h6.15M126.9 879.81h6.15M126.9 888.86h6.15M126.9 897.9h6.15M126.9 912.03h6.15M126.9 921.07h6.15M126.9 930.12h6.15M126.9 944.25h6.15M126.9 953.29h6.15M126.9 967.42h6.15M126.9 976.46h6.15M126.9 985.51h6.15M126.9 994.55h6.15M126.9 1003.59h6.15M126.9 1012.63h6.15M126.9 1021.68h6.15M126.9 1035.81h6.15M126.9 1044.85h6.15M126.9 1053.89h6.15M126.9 1062.94h6.15M126.9 1071.98h6.15M126.9 1081.02h6.15M126.9 1090.07h6.15M126.9 1099.11h6.15M126.9 1108.15h6.15M126.9 1117.19h6.15M126.9 1126.24h6.15M126.9 1135.28h6.15M126.9 1144.32h6.15M126.9 1158.45h6.15M126.9 1167.5h6.15M126.9 1176.54h6.15M126.9 1190.67h6.15M126.9 1204.8h6.15M126.9 1213.84h6.15M126.9 1227.97h6.15M126.9 1237.02h6.15M126.9 1246.06h6.15M126.9 1260.19h6.15M126.9 1269.23h6.15M126.9 1283.37h6.15M126.9 1297.5h6.15M126.9 1311.63h6.15M126.9 1320.67h6.15M126.9 1334.8h6.15M126.9 1343.84h6.15M126.9 1357.97h6.15M126.9 1367.02h6.15M126.9 1376.06h6.15M126.9 1385.1h6.15M126.9 1394.15h6.15M126.9 1403.19h6.15M126.9 1417.32h6.15M126.9 1426.36h6.15M126.9 1440.49h6.15M126.9 1454.62h6.15M126.9 1468.75h6.15M126.9 1482.88h6.15M126.9 1497.01h6.15M126.9 1511.14h6.15M126.9 1525.28h6.15M126.9 1534.32h6.15M126.9 1543.36h6.15M126.9 1552.4h6.15M126.9 1566.53h6.15M126.9 1575.58h6.15M126.9 1589.71h6.15M126.9 1598.75h6.15M126.9 1607.79h6.15M126.9 1621.92h6.15M126.9 1636.06h6.15M126.9 1645.1h6.15M126.9 1659.23h6.15M126.9 1668.27h6.15M126.9 1682.4h6.15M126.9 1691.44h6.15M126.9 1705.58h6.15M126.9 1719.71h6.15M126.9 1733.84h6.15M126.9 1742.88h6.15M126.9 1757.01h6.15M126.9 1771.14h6.15M126.9 1785.27h6.15M126.9 1799.4h6.15M126.9 1808.44h6.15M126.9 1822.58h6.15M126.9 1836.71h6.15M126.9 1845.75h6.15M126.9 1854.79h6.15M126.9 1863.83h6.15M126.9 1877.96h6.15M126.9 1892.1h6.15M126.9 1901.14h6.15M126.9 1915.27h6.15M126.9 1924.31h6.15M126.9 1933.36h6.15M126.9 1947.49h6.15M126.9 1961.62h6.15M126.9 1970.66h6.15M126.9 1979.7h6.15M126.9 1988.75h6.15M126.9 2002.88h6.15M126.9 2017.01h6.15M126.9 2031.14h6.15M126.9 2040.18h6.15M126.9 2049.22h6.15M126.9 2058.27h6.15M126.9 2072.4h6.15M126.9 2081.44h6.15M126.9 2090.48h6.15M126.9 2099.52h6.15M126.9 2113.66h6.15M126.9 2122.7h6.15M126.9 2131.74h6.15M126.9 2140.78h6.15M126.9 2149.83h6.15M126.9 2158.87h6.15M126.9 2167.91h6.15M126.9 2176.96h6.15M126.9 2186h6.15M126.9 2195.04h6.15M126.9 2204.09h6.15M126.9 2213.13h6.15M126.9 2227.26h6.15M126.9 2236.3h6.15M126.9 2245.34h6.15M126.9 2254.39h6.15M126.9 2268.52h6.15M126.9 2277.56h6.15M126.9 2286.6h6.15M126.9 2295.65h6.15M126.9 2309.78h6.15M126.9 2318.82h6.15M126.9 2327.86h6.15M126.9 2336.91h6.15M126.9 2345.95h6.15M126.9 2354.99h6.15M126.9 2369.12h6.15M126.9 2383.25h6.15M126.9 2392.3h6.15M126.9 2401.34h6.15M126.9 2410.38h6.15M126.9 2419.43h6.15M126.9 2433.56h6.15M126.9 2447.69h6.15M126.9 2461.82h6.15M126.9 2470.86h6.15M126.9 2479.9h6.15M126.9 2488.95h6.15M126.9 2503.08h6.15M126.9 2512.12h6.15" fill="none" stroke="#333" stroke-width="0.95"/>
<g font-size="9.3" fill="#4d4d4d" text-anchor="end"><text x="121.6" y="30.57">UstIshim / 45020 / K2a</text><text x="121.6" y="44.7">La368 / 7872 / C1</text><text x="121.6" y="58.83">Andaman / 90 / K2</text><text x="121.6" y="72.96">La364 / 2975.5 / O1b</text><text x="121.6" y="82.01">La727 / 2281</text><text x="121.6" y="96.14">Vt833 / 4148.5</text><text x="121.6" y="105.18">Vt880 / 3950</text><text x="121.6" y="114.22">Vt778 / 2625 / O2a</text><text x="121.6" y="123.27">Vt777 / 2264.5</text><text x="121.6" y="137.4">Ma912 / 2519.5 / O1b</text><text x="121.6" y="151.53">Th519 / 1720 / N1b</text><text x="121.6" y="160.57">Th521 / 1716.5 / O1b</text><text x="121.6" y="169.61">Th530 / 1650 / N1b</text><text x="121.6" y="183.74">Vt719 / 153.5</text><text x="121.6" y="197.87">Ma554 / 415.5 / O1a</text><text x="121.6" y="206.92">Ma555 / 375.5 / O2a</text><text x="121.6" y="221.05">X3 / 2250 / Q1a</text><text x="121.6" y="235.18">DA43 / 2095 / O2a</text><text x="121.6" y="244.22">DA45 / 2095 / O2a</text><text x="121.6" y="258.35">Funadomari_5 / 3755 / D1a</text><text x="121.6" y="267.39">Funadomari_23 / 3755</text><text x="121.6" y="276.44">IK002 / 2569</text><text x="121.6" y="290.57">NEO57 / 4496</text><text x="121.6" y="304.7">NEO72 / 8356 / Q1b</text><text x="121.6" y="313.74">NEO73 / 7681</text><text x="121.6" y="327.87">NEO922 / 7549 / Q1b</text><text x="121.6" y="342">NEO75 / 7058 / Q1a</text><text x="121.6" y="351.04">NEO78 / 6953 / Q1a</text><text x="121.6" y="365.18">RISE512 / 3322 / R1a</text><text x="121.6" y="379.31">BOT2016 / 5450</text><text x="121.6" y="388.35">BOT14 / 5263.5 / R1b</text><text x="121.6" y="397.39">BOT15 / 5134.5 / N1</text><text x="121.6" y="411.52">NEO83 / 5664 / R1b</text><text x="121.6" y="425.65">NEO911 / 6780 / Q1b</text><text x="121.6" y="434.7">NEO309 / 5824 / Q1b</text><text x="121.6" y="443.74">NEO923 / 5814</text><text x="121.6" y="452.78">NEO907 / 5649 / C2</text><text x="121.6" y="461.82">NEO912 / 5536</text><text x="121.6" y="470.87">NEO917 / 5462 / Q1a</text><text x="121.6" y="479.91">NEO918 / 5458</text><text x="121.6" y="494.04">NEO79 / 4631</text><text x="121.6" y="508.17">NEO80 / 4792</text><text x="121.6" y="522.3">NEO67 / 7048 / C2</text><text x="121.6" y="531.35">NEO64 / 6050 / C2b</text><text x="121.6" y="540.39">NEO292 / 6036 / Q1b</text><text x="121.6" y="554.52">NEO65 / 4804 / C2</text><text x="121.6" y="563.56">NEO921 / 4098</text><text x="121.6" y="572.6">NEO910 / 3595</text><text x="121.6" y="586.74">EBA2 / 4494</text><text x="121.6" y="595.78">EBA1 / 4111.5</text><text x="121.6" y="604.82">NEO900 / 3804 / N1</text><text x="121.6" y="613.86">NEO904 / 3700</text><text x="121.6" y="622.91">NEO899 / 3633</text><text x="121.6" y="637.04">RISE675 / 4555 / R1b</text><text x="121.6" y="646.08">RISE677 / 4482</text><text x="121.6" y="655.12">RISE718 / 4410.5 / Q1b</text><text x="121.6" y="664.17">RISE667 / 4300</text><text x="121.6" y="673.21">RISE671 / 4300</text><text x="121.6" y="682.25">RISE672 / 4300 / Q1b</text><text x="121.6" y="691.3">RISE680 / 4300</text><text x="121.6" y="700.34">RISE681 / 4300</text><text x="121.6" y="709.38">RISE685 / 4300</text><text x="121.6" y="718.42">RISE719 / 4300 / Q1b</text><text x="121.6" y="727.47">RISE664 / 4282.5 / Q1b</text><text x="121.6" y="736.51">RISE684 / 4252.5</text><text x="121.6" y="745.55">RISE515 / 4192.5</text><text x="121.6" y="754.6">RISE674 / 4078.5 / Q1b</text><text x="121.6" y="763.64">RISE662 / 4069.5 / Q1b</text><text x="121.6" y="772.68">RISE683 / 3976.5 / Q1a</text><text x="121.6" y="781.73">RISE670 / 3963 / Q1b</text><text x="121.6" y="795.86">cim359 / 2873</text><text x="121.6" y="804.9">cim358 / 2840 / Q1a</text><text x="121.6" y="819.03">MJ−32 / 2547 / R1a</text><text x="121.6" y="833.16">MJ−42 / 2617.5 / R1a</text><text x="121.6" y="847.29">DA10 / 2816.5</text><text x="121.6" y="856.33">DA11 / 2697.5</text><text x="121.6" y="865.38">DA15 / 2667.5 / R1a</text><text x="121.6" y="874.42">DA13 / 2667 / R1a</text><text x="121.6" y="883.46">DA14 / 2667</text><text x="121.6" y="892.51">DA16 / 2666.5 / R1a</text><text x="121.6" y="901.55">DA130 / 2270.5 / R1a</text><text x="121.6" y="915.68">DA221 / 2718.5 / Q1b</text><text x="121.6" y="924.72">IS2 / 2700 / Q1b</text><text x="121.6" y="933.77">DA129 / 2374.5 / R1a</text><text x="121.6" y="947.9">DA227 / 2150</text><text x="121.6" y="956.94">DA201 / 2079.5</text><text x="121.6" y="971.07">DA49 / 2270.5 / R1a</text><text x="121.6" y="980.11">DA48 / 2250 / R1a</text><text x="121.6" y="989.16">DA50 / 2250</text><text x="121.6" y="998.2">DA56 / 2095.5 / R1a</text><text x="121.6" y="1007.24">DA47 / 2075.5 / Q1b</text><text x="121.6" y="1016.28">DA55 / 2031.5 / R1a</text><text x="121.6" y="1025.33">DA52 / 1531.5 / R1a</text><text x="121.6" y="1039.46">DA70 / 1848.5</text><text x="121.6" y="1048.5">DA98 / 1847.5</text><text x="121.6" y="1057.54">DA104 / 1773.5</text><text x="121.6" y="1066.59">DA85 / 1768 / L1a</text><text x="121.6" y="1075.63">DA81 / 1766.5 / R1b</text><text x="121.6" y="1084.67">DA101 / 1712.5 / R1a</text><text x="121.6" y="1093.72">DA72 / 1681</text><text x="121.6" y="1102.76">DA96 / 1680 / Q1b</text><text x="121.6" y="1111.8">DA80 / 1673</text><text x="121.6" y="1120.85">DA100 / 1672.5 / R1a</text><text x="121.6" y="1129.89">DA73 / 1672 / Q1b</text><text x="121.6" y="1138.93">DA69 / 1591.5</text><text x="121.6" y="1147.97">DA65 / 1542.5 / E1b</text><text x="121.6" y="1162.1">DA74 / 1540 / Q1a</text><text x="121.6" y="1171.15">DA385 / 1466.5 / R1a</text><text x="121.6" y="1180.19">DA68 / 1364</text><text x="121.6" y="1194.32">DA117 / 263 / G2a</text><text x="121.6" y="1208.45">M15−1 / 2250 / R1</text><text x="121.6" y="1217.49">M820 / 2216.5</text><text x="121.6" y="1231.62">RISE493 / 3429 / Q1a</text><text x="121.6" y="1240.67">RISE502 / 3351</text><text x="121.6" y="1249.71">RISE495 / 3100 / R1a</text><text x="121.6" y="1263.84">DA5 / 2816.5 / R1a</text><text x="121.6" y="1272.88">DA7 / 2816.5 / R1a</text><text x="121.6" y="1287.02">RISE492 / 2252.5 / R1a</text><text x="121.6" y="1301.15">DA142 / 1250 / R1a</text><text x="121.6" y="1315.28">MA2195 / 500</text><text x="121.6" y="1324.32">MA2196 / 500</text><text x="121.6" y="1338.45">Ze6b / 2700</text><text x="121.6" y="1347.49">DA92 / 1982.5 / R1b</text><text x="121.6" y="1361.62">DA124 / 1278.5 / J2a</text><text x="121.6" y="1370.67">DA93 / 1218 / R1b</text><text x="121.6" y="1379.71">DA94 / 1218 / R1a</text><text x="121.6" y="1388.75">DA126 / 1039.5 / R1a</text><text x="121.6" y="1397.8">DA179 / 900 / G2a</text><text x="121.6" y="1406.84">DA23 / 880 / C2</text><text x="121.6" y="1420.97">DA89 / 1264.5 / R1a</text><text x="121.6" y="1430.01">DA228 / 1250 / O1b</text><text x="121.6" y="1444.14">DA87 / 1284 / R1b</text><text x="121.6" y="1458.27">DA205 / 850</text><text x="121.6" y="1472.4">DA54 / 1682 / Q1a</text><text x="121.6" y="1486.53">DA82 / 1820</text><text x="121.6" y="1500.66">DA66 / 1489</text><text x="121.6" y="1514.79">DA86 / 1501 / Q1a</text><text x="121.6" y="1528.93">M010 / 2269.5</text><text x="121.6" y="1537.97">M819 / 2250</text><text x="121.6" y="1547.01">F004 / 2230</text><text x="121.6" y="1556.05">M012 / 2228.5 / R1</text><text x="121.6" y="1570.18">DA41 / 2283 / R1b</text><text x="121.6" y="1579.23">DA38 / 2124.5</text><text x="121.6" y="1593.36">RISE600 / 2450 / Q1a</text><text x="121.6" y="1602.4">RISE601 / 2450 / Q1a</text><text x="121.6" y="1611.44">RISE602 / 2450 / J2a</text><text x="121.6" y="1625.57">RISE504 / 1145 / J2a</text><text x="121.6" y="1639.71">DA57 / 2079.5 / J2a</text><text x="121.6" y="1648.75">DA58 / 2077.5 / J2a</text><text x="121.6" y="1662.88">DA222 / 1100 / J2a</text><text x="121.6" y="1671.92">DA230 / 1100 / J2a</text><text x="121.6" y="1686.05">DA204 / 1039 / J2a</text><text x="121.6" y="1695.1">DA203 / 850 / J2a</text><text x="121.6" y="1709.23">VK518 / 1000</text><text x="121.6" y="1723.36">DA238 / 1417</text><text x="121.6" y="1737.49">NEO60 / 3300</text><text x="121.6" y="1746.53">NEO62 / 3286</text><text x="121.6" y="1760.66">NEO538 / 2250 / N1a</text><text x="121.6" y="1774.79">NEO901 / 1168</text><text x="121.6" y="1788.92">Kolyma_River / 9785.5 / Q1a</text><text x="121.6" y="1803.05">M9984 / 3070</text><text x="121.6" y="1812.09">M0831 / 3050</text><text x="121.6" y="1826.23">Saqqaq / 3885 / Q1a</text><text x="121.6" y="1840.36">NEO236 / 7677.5</text><text x="121.6" y="1849.4">NEO238 / 7563.5</text><text x="121.6" y="1858.44">NEO239 / 7556 / C2</text><text x="121.6" y="1867.48">NEO240 / 7507.5</text><text x="121.6" y="1881.62">DA20 / 2299.5 / Q1b</text><text x="121.6" y="1895.75">DA127 / 1672 / Q2b</text><text x="121.6" y="1904.79">DA27 / 1591.5 / R1a</text><text x="121.6" y="1918.92">DA95 / 1679.5 / N1a</text><text x="121.6" y="1927.96">DA177 / 1650</text><text x="121.6" y="1937.01">DA128 / 720</text><text x="121.6" y="1951.14">DA28 / 700 / C2</text><text x="121.6" y="1965.27">DA118 / 911</text><text x="121.6" y="1974.31">DA106 / 779.5 / C2b</text><text x="121.6" y="1983.35">DA116 / 760</text><text x="121.6" y="1992.4">DA99 / 742</text><text x="121.6" y="2006.53">DA39 / 1948 / R1a</text><text x="121.6" y="2020.66">Yana_Young / 799 / N1a</text><text x="121.6" y="2034.79">NEO116 / 8187</text><text x="121.6" y="2043.83">NEO117 / 7656 / N1a</text><text x="121.6" y="2052.87">NEO115 / 7550 / N1a</text><text x="121.6" y="2061.92">NEO229 / 6586</text><text x="121.6" y="2076.05">DA357 / 7803 / C2</text><text x="121.6" y="2085.09">NEO199 / 7169 / Q1b</text><text x="121.6" y="2094.13">NEO843 / 7060</text><text x="121.6" y="2103.17">NEO200 / 7007 / Q1b</text><text x="121.6" y="2117.31">DA245 / 7940.5 / N1a</text><text x="121.6" y="2126.35">DA249 / 7839.5</text><text x="121.6" y="2135.39">DA246 / 7726.5</text><text x="121.6" y="2144.43">DA247 / 7700.5 / N1</text><text x="121.6" y="2153.48">DA248 / 7645 / N1a</text><text x="121.6" y="2162.52">DA341 / 7585</text><text x="121.6" y="2171.56">DA359 / 7558.5 / N1a</text><text x="121.6" y="2180.61">DA250 / 7391.5 / N1a</text><text x="121.6" y="2189.65">DA252 / 7340.5</text><text x="121.6" y="2198.69">DA251 / 7336 / N1a</text><text x="121.6" y="2207.74">DA253 / 7246</text><text x="121.6" y="2216.78">DA362 / 7241.5 / N1a</text><text x="121.6" y="2230.91">DA342 / 5609.5</text><text x="121.6" y="2239.95">DA344 / 5607.5</text><text x="121.6" y="2248.99">DA355 / 5461 / Q1b</text><text x="121.6" y="2258.04">DA345 / 5455.5 / N1a</text><text x="121.6" y="2272.17">NEO230 / 4898.5</text><text x="121.6" y="2281.21">NEO232 / 4802.5 / Q1b</text><text x="121.6" y="2290.25">NEO231 / 4703</text><text x="121.6" y="2299.3">NEO298 / 4614</text><text x="121.6" y="2313.43">DA358 / 4709.5</text><text x="121.6" y="2322.47">DA360 / 4706</text><text x="121.6" y="2331.51">DA354 / 4625.5 / Q1b</text><text x="121.6" y="2340.56">DA343 / 4161.5 / Q1b</text><text x="121.6" y="2349.6">DA353 / 4161.5 / Q1b</text><text x="121.6" y="2358.64">DA361 / 4161.5 / Q1b</text><text x="121.6" y="2372.77">NEO70 / 2752 / N1</text><text x="121.6" y="2386.9">DA337 / 4330.5 / Q1b</text><text x="121.6" y="2395.95">DA336 / 4200 / Q1b</text><text x="121.6" y="2404.99">DA356 / 4161.5 / Q1b</text><text x="121.6" y="2414.03">DA334 / 4121 / Q1b</text><text x="121.6" y="2423.08">DA339 / 4040 / Q1b</text><text x="121.6" y="2437.21">RISE497 / 3100</text><text x="121.6" y="2451.34">Kostenki / 37470 / C1</text><text x="121.6" y="2465.47">SII / 34234 / C1</text><text x="121.6" y="2474.51">SIII / 34092.5 / C1</text><text x="121.6" y="2483.55">SIV / 33992 / C1</text><text x="121.6" y="2492.6">SI / 32822.5 / C1</text><text x="121.6" y="2506.73">Yana / 31950 / K2b</text><text x="121.6" y="2515.77">Yana2 / 31950 / K2b</text></g>
<g font-size="12.35" fill="#000"><text x="520.4" y="32.92">Siberia_UpperPaleolithic_UstIshim</text><text x="520.4" y="47.05">Laos_Hoabinhian</text><text x="520.4" y="61.18">India_Historical_GreatAndaman</text><text x="520.4" y="79.83">Laos_BronzeAge</text><text x="520.4" y="112.05">Vietnam_Neolithic</text><text x="520.4" y="139.75">Malaysia_Neolithic</text><text x="520.4" y="162.92">Thailand_IronAge</text><text x="520.4" y="186.09">Vietnam_Historical</text><text x="520.4" y="204.75">Malaysia_Historical</text><text x="520.4" y="223.4">China_IronAge</text><text x="520.4" y="242.05">Mongolia_IronAge_XiongNu</text><text x="520.4" y="269.74">Japan_Jomon</text><text x="520.4" y="292.92">Kazakhstan_BronzeAge</text><text x="520.4" y="311.57">Siberia_Neolithic_Koshinskaya</text><text x="520.4" y="330.22">Siberia_Neolithic</text><text x="520.4" y="348.87">Siberia_Neolithic_Sredneirtyshskaya</text><text x="520.4" y="367.53">Siberia_BronzeAge_Andronovo</text><text x="520.4" y="390.7">Kazakhstan_Neolithic_Botai</text><text x="520.4" y="413.87">Siberia_Neolithic</text><text x="520.4" y="455.13">Siberia_Neolithic</text><text x="520.4" y="496.39">Siberia_BronzeAge_Okunevo</text><text x="520.4" y="510.52">Siberia_BronzeAge</text><text x="520.4" y="533.7">Siberia_Neolithic</text><text x="520.4" y="565.91">Siberia_BronzeAge</text><text x="520.4" y="607.17">Kazakhstan_BronzeAge</text><text x="520.4" y="711.73">Siberia_BronzeAge_Okunevo</text><text x="520.4" y="802.73">Moldova_IronAge_Cimmerian</text><text x="520.4" y="821.38">Ukraine_IronAge_Cimmerian</text><text x="520.4" y="835.51">Russia_IronAge_Scythian</text><text x="520.4" y="876.77">Kazakhstan_IronAge_Saka</text><text x="520.4" y="927.07">Kazakhstan_IronAge</text><text x="520.4" y="954.77">Kazakhstan_IronAge_Wusun</text><text x="520.4" y="1000.55">Kyrgyzstan_IronAge_Saka</text><text x="520.4" y="1096.07">Kyrgyzstan_IronAge_Hun</text><text x="520.4" y="1173.5">Kyrgyzstan_Medieval_Hun</text><text x="520.4" y="1196.67">Kyrgyzstan_Historical</text><text x="520.4" y="1215.32">China_IronAge</text><text x="520.4" y="1243.02">Siberia_BronzeAge_Karasuk</text><text x="520.4" y="1270.71">Siberia_IronAge_Tagar</text><text x="520.4" y="1289.37">Siberia_IronAge</text><text x="520.4" y="1303.5">Russia_Medieval</text><text x="520.4" y="1322.15">Anatolia_Medieval_Ottoman</text><text x="520.4" y="1345.32">Kazakhstan_IronAge</text><text x="520.4" y="1386.58">Kazakhstan_Medieval</text><text x="520.4" y="1427.84">Kazakhstan_Medieval_Turk</text><text x="520.4" y="1446.49">Kazakhstan_Medieval_Kimak</text><text x="520.4" y="1460.62">Kazakhstan_Medieval_Karakhanid</text><text x="520.4" y="1474.75">Kyrgyzstan_IronAge_Saka</text><text x="520.4" y="1488.88">Kyrgyzstan_IronAge_Hun</text><text x="520.4" y="1503.01">Kyrgyzstan_Medieval_Hun</text><text x="520.4" y="1517.14">Kyrgyzstan_Medieval_Turk</text><text x="520.4" y="1544.84">China_IronAge</text><text x="520.4" y="1577.06">Mongolia_IronAge_XiongNu</text><text x="520.4" y="1604.75">Siberia_IronAge</text><text x="520.4" y="1627.92">Siberia_Medieval</text><text x="520.4" y="1646.58">Kyrgyzstan_IronAge_Saka</text><text x="520.4" y="1669.75">Kazakhstan_Medieval_Karluk</text><text x="520.4" y="1692.92">Kazakhstan_Medieval_Karakhanid</text><text x="520.4" y="1711.58">Norway_VikingAge</text><text x="520.4" y="1725.71">Finland_IronAge_Saami</text><text x="520.4" y="1744.36">Russia_BronzeAge</text><text x="520.4" y="1763.01">Russia_IronAge</text><text x="520.4" y="1777.14">Kazakhstan_Medieval</text><text x="520.4" y="1791.27">Siberia_Mesolithic</text><text x="520.4" y="1809.92">Siberia_BronzeAge_Tokarev</text><text x="520.4" y="1828.58">Greenland_PaleoEskimo</text><text x="520.4" y="1856.27">Siberia_Neolithic_Amur</text><text x="520.4" y="1883.96">Kazakhstan_IronAge_Hun</text><text x="520.4" y="1902.62">Kazakhstan_Medieval_Hun</text><text x="520.4" y="1930.31">Kazakhstan_Medieval</text><text x="520.4" y="1953.49">Kazakhstan_Medieval_GoldenHorde</text><text x="520.4" y="1981.18">Kyrgyzstan_Medieval</text><text x="520.4" y="2008.88">Mongolia_IronAge_XiongNu</text><text x="520.4" y="2023.01">Siberia_Medieval</text><text x="520.4" y="2050.7">Siberia_Neolithic</text><text x="520.4" y="2091.96">Siberia_Neolithic_Kitoi</text><text x="520.4" y="2169.39">Siberia_Neolithic_Kitoi</text><text x="520.4" y="2246.82">Siberia_Neolithic_Isakovo</text><text x="520.4" y="2288.08">Siberia_BronzeAge</text><text x="520.4" y="2338.39">Siberia_BronzeAge_Glazkovo</text><text x="520.4" y="2375.12">Siberia_BronzeAge</text><text x="520.4" y="2407.34">Siberia_BronzeAge_Glazkovo</text><text x="520.4" y="2439.56">Siberia_BronzeAge_Karasuk</text><text x="520.4" y="2453.69">Russia_UpperPaleolithic_Kostenki</text><text x="520.4" y="2481.38">Russia_UpperPaleolithic_Sunghir</text><text x="520.4" y="2513.6">Siberia_UpperPaleolithic_Yana</text></g>
<g font-size="15.3" fill="#000" text-anchor="middle"><text x="202.7" y="13.9">postBA</text><text x="332.6" y="13.9">postNeol</text><text x="457.9" y="13.9">deep</text></g>
<path d="M789.2 64.09V138.97M789.2 174.87V245.79M789.2 281.7V366.75M789.2 370.43V413.09M789.2 416.78V509.74M789.2 513.43V574.18M789.2 786.99V1288.59M789.2 1292.27V1627.15M789.2 1654.01V1696.67M789.2 1700.35V1776.36M789.2 1872.74V2022.23M789.2 2025.91V2104.75M789.2 2263.3V2360.21M789.2 2363.9V2438.78M789.2 2442.47V2494.17M1068.3 35.83V60.4M1068.3 64.09V245.79M1068.3 281.7V783.3M1068.3 786.99V1776.36M1068.3 1780.05V1827.8M1068.3 1872.74V2022.23M1068.3 2025.91V2218.35M1068.3 2222.04V2438.78M1068.3 2442.47V2517.34" fill="none" stroke="#333" stroke-width="0.8"/>
<g font-size="12.35" fill="#000"><text x="799.3" y="32.92">UstIshim_45000BP</text><text x="799.3" y="47.05">Laos_7800BP</text><text x="799.3" y="61.18">Andaman_100BP</text><text x="799.3" y="107.53">SEAsia_4200BP_2200BP</text><text x="799.3" y="162.92">Thailand_1700BP</text><text x="799.3" y="216.33">Easia_2200BP_150BP</text><text x="799.3" y="269.74">Japan_3700BP_2600BP</text><text x="799.3" y="330.22">SteppeC_8300BP_7000BP</text><text x="799.3" y="397.76">Botai_5600BP_5100BP</text><text x="799.3" y="469.26">SteppeC_6700BP_4600BP</text><text x="799.3" y="549.8">SteppeCE_7000BP_3600BP</text><text x="799.3" y="607.17">SteppeC_4500BP_3600BP</text><text x="799.3" y="711.73">Okunev_4500BP_4000BP</text><text x="799.3" y="1043.79">Steppe_3500BP_1300BP</text><text x="799.3" y="1465.71">SteppeC_TianShan_2700BP_800BP</text><text x="799.3" y="1646.58">TianShan_2000BP</text><text x="799.3" y="1681.34">Kazakhstan_1000BP</text><text x="799.3" y="1744.36">EurasiaN_2000BP_1000BP</text><text x="799.3" y="1791.27">SiberiaNE_9800BP</text><text x="799.3" y="1809.92">SiberiaNE_3000BP</text><text x="799.3" y="1828.57">Greenland_4000BP</text><text x="799.3" y="1856.27">Amur_7500BP</text><text x="799.3" y="1953.49">SteppeCE_2000BP_700BP</text><text x="799.3" y="2071.33">BaikalE_8200BP_6500BP</text><text x="799.3" y="2169.39">Baikal_8000BP_7200BP</text><text x="799.3" y="2246.82">Baikal_5600BP_5400BP</text><text x="799.3" y="2317.76">Baikal_4800BP_4200BP</text><text x="799.3" y="2407.34">Baikal_4300BP_2800BP</text><text x="799.3" y="2474.32">Europe_37000BP_33000BP</text><text x="799.3" y="2513.6">Yana_31000BP</text><text x="1079" y="32.92">HG_Siberia_UP</text><text x="1079" y="54.12">HG_SoutheastAsia</text><text x="1079" y="160.94">Farmer_SoutheastAsia</text><text x="1079" y="269.74">HG_EastAsia_Jomon</text><text x="1079" y="538.5">HG_Siberia_ForestSteppe</text><text x="1079" y="1287.67">Nomad_Steppe_lateA</text><text x="1079" y="1809.92">HG_SiberiaNE</text><text x="1079" y="1856.27">HG_NorthAsia</text><text x="1079" y="1953.49">Nomad_Steppe_lateB</text><text x="1079" y="2128.13">HG_LakeBaikal_early</text><text x="1079" y="2336.41">HG_LakeBaikal_late</text><text x="1079" y="2485.9">HG_Eurasia_UP</text></g>
</svg>
</body></html>
